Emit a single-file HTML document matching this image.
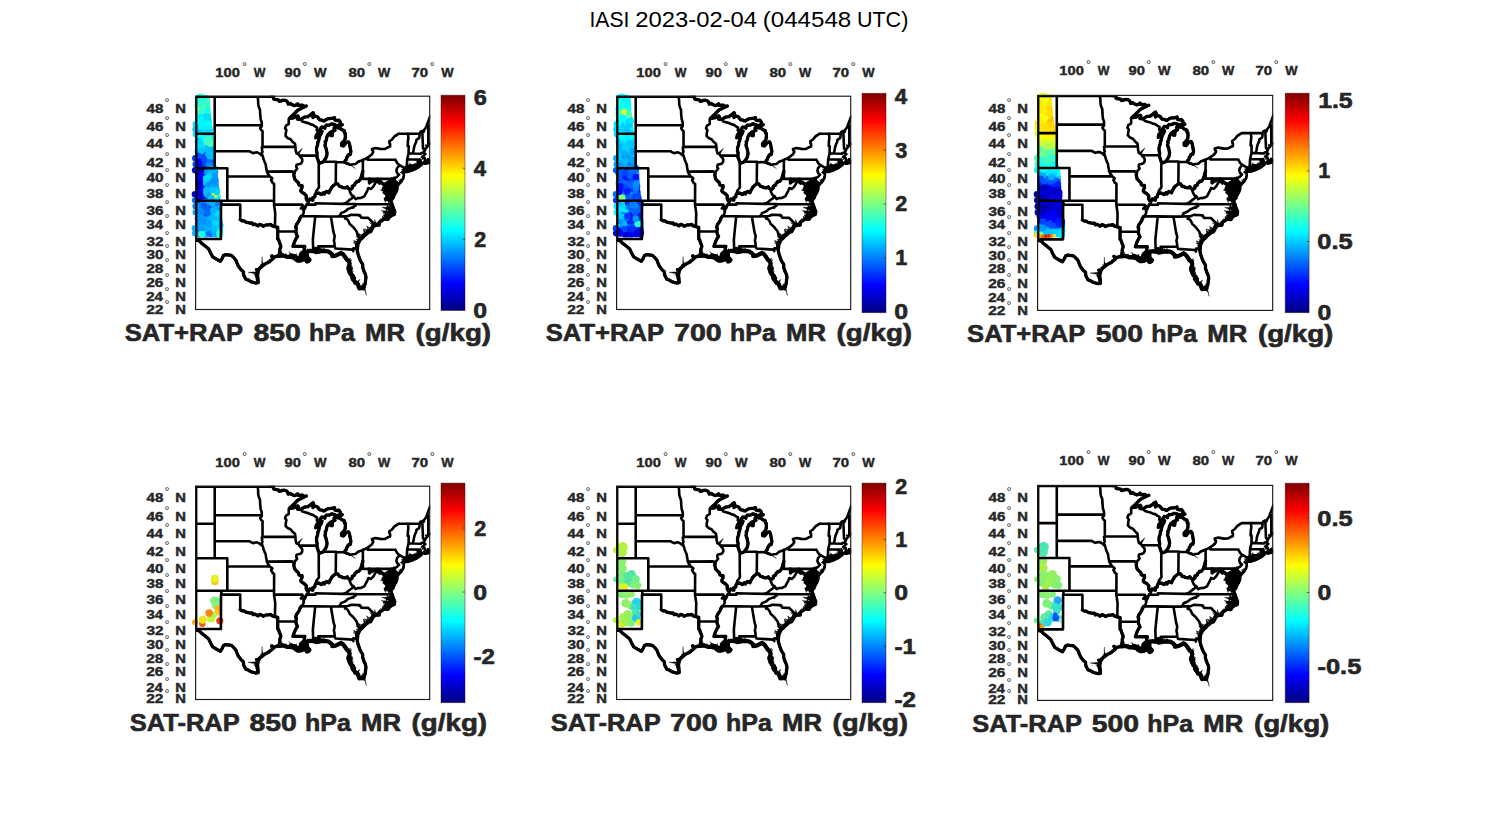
<!DOCTYPE html>
<html><head><meta charset="utf-8"><title>IASI 2023-02-04 (044548 UTC)</title>
<style>
html,body{margin:0;padding:0;background:#fff}
svg{display:block}
text{font-family:"Liberation Sans",sans-serif}
.b{font-weight:bold;fill:#262626}
</style></head><body>
<svg width="1500" height="825" viewBox="0 0 1500 825">
<defs>
<linearGradient id="jet" x1="0" y1="1" x2="0" y2="0"><stop offset="0.0000" stop-color="#000080"/><stop offset="0.0312" stop-color="#00009f"/><stop offset="0.0625" stop-color="#0000bf"/><stop offset="0.0938" stop-color="#0000df"/><stop offset="0.1250" stop-color="#0000ff"/><stop offset="0.1562" stop-color="#0020ff"/><stop offset="0.1875" stop-color="#0040ff"/><stop offset="0.2188" stop-color="#0060ff"/><stop offset="0.2500" stop-color="#0080ff"/><stop offset="0.2812" stop-color="#009fff"/><stop offset="0.3125" stop-color="#00bfff"/><stop offset="0.3438" stop-color="#00dfff"/><stop offset="0.3750" stop-color="#00ffff"/><stop offset="0.4062" stop-color="#20ffdf"/><stop offset="0.4375" stop-color="#40ffbf"/><stop offset="0.4688" stop-color="#60ff9f"/><stop offset="0.5000" stop-color="#80ff80"/><stop offset="0.5312" stop-color="#9fff60"/><stop offset="0.5625" stop-color="#bfff40"/><stop offset="0.5938" stop-color="#dfff20"/><stop offset="0.6250" stop-color="#ffff00"/><stop offset="0.6562" stop-color="#ffdf00"/><stop offset="0.6875" stop-color="#ffbf00"/><stop offset="0.7188" stop-color="#ff9f00"/><stop offset="0.7500" stop-color="#ff8000"/><stop offset="0.7812" stop-color="#ff6000"/><stop offset="0.8125" stop-color="#ff4000"/><stop offset="0.8438" stop-color="#ff2000"/><stop offset="0.8750" stop-color="#ff0000"/><stop offset="0.9062" stop-color="#df0000"/><stop offset="0.9375" stop-color="#bf0000"/><stop offset="0.9688" stop-color="#9f0000"/><stop offset="1.0000" stop-color="#800000"/></linearGradient>
<filter id="soft" x="-20%" y="-5%" width="140%" height="110%"><feGaussianBlur stdDeviation="0.7"/></filter>
<g id="usmap" stroke="#000" stroke-linejoin="round" stroke-linecap="round"><path d="M-3.1 0.0L74.6 0.0M18.6 0.0L18.6 71.5M-3.1 37.0L18.6 37.0M-3.1 71.5L31.2 71.5M31.2 71.5L31.2 104.0M-3.1 104.0L77.9 104.0M25.2 104.0L25.2 107.9L24.9 107.9L24.8 142.2L2.4 142.2L2.3 143.9L-3.1 143.9M25.2 107.9L44.1 107.9L44.1 122.9M18.6 28.5L65.7 28.5M18.6 54.5L53.5 54.5L54.8 55.4L57.0 56.5L59.2 55.8L61.1 55.7L63.0 56.6L64.5 57.6L65.5 58.8L66.4 58.9M31.2 79.8L73.6 79.8M61.5 0.0L62.0 3.8L62.1 7.6L62.6 10.0L63.9 13.3L64.0 17.0L64.3 20.0L64.5 22.5L65.5 25.3L65.7 28.5M65.7 28.5L65.5 29.8L64.0 31.4L65.0 33.3L66.4 34.3L66.4 50.2M66.4 50.2L65.6 50.6L66.0 52.4L65.8 53.7L66.4 55.0L65.5 57.1L66.1 58.4L66.4 58.9M66.4 50.2L99.3 50.2M66.4 58.9L66.9 60.5L67.5 62.7L68.6 65.6L69.7 68.1L69.8 69.8L70.3 72.3L70.7 74.9L71.8 77.1L72.7 78.1L73.6 79.8M73.6 79.8L75.2 80.8L76.2 81.8L74.9 83.5L76.0 85.1L76.5 86.3L78.0 87.1L77.9 107.9M70.7 74.9L96.1 74.7L98.1 76.6M77.9 107.9L106.1 107.9L106.5 109.4L104.7 111.8L108.9 111.8M77.9 107.9L79.1 116.4L78.8 129.9M44.1 122.9L46.0 124.1L47.8 124.1L49.1 124.9L50.7 125.7L52.9 126.0L54.1 126.4L56.0 126.2L57.0 127.9L58.9 127.3L61.7 129.1L63.6 127.6L65.5 128.3L67.0 129.5L69.9 128.2L72.4 128.2L74.3 127.6L76.2 129.1L78.8 129.9L81.6 130.6M81.6 130.6L81.6 142.2L82.5 143.0L83.1 145.2L84.4 148.3L84.7 149.6L83.7 152.5L83.7 154.7L83.4 156.2L82.8 158.7M81.6 134.6L99.7 134.7M93.8 21.1L92.6 22.0L92.6 27.3L91.6 28.0L89.9 28.9L88.9 31.6L90.3 33.4L89.7 36.1L89.6 37.4L89.4 39.2L91.0 40.8L92.5 41.9L94.4 42.5L96.7 45.4L98.8 47.1L99.3 50.2M99.3 50.2L99.5 53.7L99.8 54.5L100.3 56.7L102.6 57.7L103.0 58.8M103.0 58.8L120.9 58.9M103.0 58.8L104.5 60.5L106.0 62.2L106.1 64.8L104.8 66.9L103.4 67.3L100.4 68.1L100.1 70.2L101.0 71.9L100.1 73.1L98.2 75.2L98.1 76.6M98.1 76.6L97.6 78.1L98.1 80.4L98.5 82.2L100.4 84.3L102.4 86.3L102.6 87.9L103.9 88.8L105.9 88.8L105.9 90.9L104.8 93.2L104.7 94.4L106.1 96.0L107.0 96.2L108.1 96.8L110.2 99.2L110.0 101.6L110.8 103.6L112.5 104.1M112.5 104.1L112.1 106.7L110.9 106.9L110.2 107.9L110.0 109.1L109.5 110.2L108.9 111.8M108.9 111.8L107.3 114.1L107.7 115.3L106.6 118.5L105.1 119.5M105.1 119.5L103.6 121.8L103.4 123.2L101.4 126.4L100.4 127.6L99.5 130.2L100.2 131.7L99.7 134.7M99.7 134.7L100.1 137.0L101.4 139.8L100.1 141.5L98.3 145.2L97.6 147.4L96.8 149.6L108.7 149.6L108.0 152.0L109.2 154.7L110.0 155.6M105.1 119.5L118.4 119.5M118.4 119.5L119.0 120.4L117.5 134.7L116.7 143.0L117.1 154.2M118.4 119.5L134.7 119.7L142.8 119.6L150.4 119.5M134.7 119.7L137.4 135.7L138.5 139.2L138.2 141.5L137.7 143.7L138.2 145.6L138.5 149.6L139.4 151.7M138.5 149.6L122.1 149.6L121.9 150.6L123.4 152.0L122.6 154.9M139.4 151.7L156.1 152.8L157.1 154.3L157.2 151.4L160.8 151.7M164.5 142.0L163.1 141.5L161.2 137.7L160.5 134.7L157.7 131.2L155.8 129.1L153.6 127.2L152.0 123.8L150.5 122.2L148.9 121.8L150.4 119.5M150.4 119.5L152.5 119.0L154.9 118.0L163.4 118.4L163.4 119.2L164.1 118.8L165.1 120.9L172.0 121.1L179.1 128.2M142.8 119.6L144.5 117.5L144.8 116.4L147.9 115.1L149.8 114.0L151.7 112.3L153.6 111.6L156.1 110.6L157.1 110.9L158.0 109.4L159.3 109.1L159.4 107.2M146.8 107.1L159.4 107.2L196.0 107.5M110.2 107.9L119.3 107.9L119.3 106.5L129.1 106.7L146.8 107.1M146.8 107.1L150.1 105.9L153.0 103.6L155.5 101.7L157.6 99.7M157.6 99.7L155.5 98.4L154.6 96.8L153.6 94.6L153.6 92.6M112.5 104.1L113.6 102.2L115.8 103.2L116.7 103.4L116.6 101.0L118.6 100.2L118.8 98.4L119.3 97.6M119.3 97.6L119.9 95.2L120.2 94.0L121.8 92.0L122.8 90.4L122.6 85.1L122.6 65.5M119.3 97.6L120.2 96.8L122.3 96.2L125.3 97.8L127.2 96.1L128.4 97.2L129.1 95.6L130.3 94.8L132.8 96.0L133.7 93.8L136.0 90.1L139.6 87.1M139.6 87.1L139.8 65.6M139.6 87.1L141.6 87.1L143.3 89.6L145.7 90.1L146.3 90.8L149.2 91.2L151.1 90.1L152.0 91.6L153.6 92.6M153.6 92.6L154.6 92.6L156.1 91.2L156.1 89.4L156.5 89.2L158.3 88.5L159.0 86.5L160.2 85.8L160.8 84.6L162.4 84.7L164.5 82.2L164.8 81.0L165.4 79.2L166.1 76.5L166.7 74.5M166.7 82.1L166.7 63.2M127.0 65.1L139.8 65.1L139.8 65.6L148.3 65.4M166.7 82.1L196.5 82.1L197.7 81.1L198.8 81.4M173.2 82.1L173.2 86.3L175.6 84.1L176.6 84.3L177.7 82.8L179.7 83.5L180.4 82.9L181.3 82.4L183.2 83.1L183.6 83.9L184.3 85.3M184.3 85.3L183.6 86.9L180.4 84.2L177.1 89.9L174.8 92.2L172.2 91.3L171.2 93.8L168.1 99.6L164.6 101.2L161.5 101.4L159.4 102.4L157.6 99.7M184.3 85.3L185.5 85.8L187.3 87.7L188.1 88.5L188.6 89.6L187.3 91.6L187.0 92.8L188.9 93.6L189.5 94.4L193.1 95.7M171.5 60.8L171.5 63.1L199.2 63.1M199.2 63.1L201.1 66.5L203.3 68.5L200.8 71.5L200.2 74.1L201.1 76.5L202.9 78.0L200.8 80.2L198.8 81.4M203.4 68.5L208.4 71.5M196.5 82.1L197.0 92.3L201.1 92.4M195.8 96.4L199.9 95.8M209.9 71.6L209.4 70.7L211.0 69.7L210.6 69.0L211.0 62.6L212.4 56.7L212.5 49.3L211.5 49.3L211.8 44.1L212.2 41.4L211.8 36.9M203.2 37.0L223.5 36.9L224.1 35.2L226.1 34.3L227.6 34.9L227.9 33.4L230.1 30.3L231.2 27.1L232.6 23.4L234.0 19.6M211.0 62.6L221.6 62.9L224.2 62.9L224.2 63.9L225.9 67.3M221.6 62.9L221.7 68.0L221.2 68.9M212.4 56.7L217.4 56.8L224.7 57.1L225.4 56.2L227.8 55.6M217.4 56.8L216.9 55.8L217.5 53.2L217.8 51.1L218.5 48.5L219.1 47.1L220.0 45.0L220.2 43.2L222.9 41.4L223.2 40.5L223.5 36.9M228.5 53.9L226.8 51.5L226.8 51.1L226.1 34.3M74.6 0.0L74.6 -3.7L76.7 -3.1L77.6 1.2L77.5 2.1L78.1 2.7L80.2 2.9L82.8 3.5L83.1 4.6L85.2 4.3L85.9 3.7L88.5 3.6L90.5 4.4L91.5 5.5L92.1 7.4L94.4 6.8L94.7 7.3L97.2 8.5L98.0 9.0L99.2 8.8L101.5 7.2L102.3 8.7L106.2 8.5L107.8 9.6L110.2 9.4M110.2 9.4L109.0 9.9L104.9 11.9L101.5 13.6L99.0 16.2L96.5 18.7L93.8 21.0L94.4 21.6L97.6 21.1L99.5 20.0L101.7 19.2L102.3 20.0L101.4 22.5L104.4 22.8L108.3 20.4L111.4 20.0L113.6 18.8L115.8 16.8L117.0 16.1L117.7 17.9L116.8 20.9L118.4 19.5L120.2 19.8L121.5 20.4L123.5 23.1L125.9 23.4L126.9 24.1L128.1 24.3L130.3 22.8L132.3 21.9L135.4 21.8L138.3 21.0L138.8 23.4L141.0 23.9L142.6 23.4L144.2 25.3L144.2 27.1L145.4 28.3L146.1 28.0L145.4 28.5L142.6 28.3L140.2 29.2L138.5 28.0L135.7 27.2L132.8 28.5L130.6 28.5L129.1 29.5L128.7 31.6L127.8 30.5L126.2 30.5L125.6 30.3L124.0 32.5L122.1 36.1M122.1 36.1L121.5 33.9L120.6 33.7L120.9 30.7L119.0 29.8L116.5 28.0L114.6 27.7L112.7 26.7L106.3 24.9L104.4 22.8M121.9 36.1L120.2 38.3L119.6 41.2L121.2 39.7L123.4 37.0L125.9 34.5L125.0 37.0L123.8 38.8L123.2 40.5L122.4 44.5L121.8 45.0L121.5 48.0L120.4 51.2L120.4 54.3L121.0 56.8L120.8 58.1L120.9 58.9L120.7 60.0L121.7 62.6L122.1 64.1L122.6 65.4L124.0 66.3L126.5 65.4L127.0 65.1L129.1 62.2L130.4 59.7L130.9 56.5L130.1 52.5L129.4 50.2L128.8 48.9L129.4 46.3L129.0 45.3L130.1 43.6L130.7 40.3L131.8 37.9L135.0 35.2L134.6 39.0L135.4 37.3L136.0 39.0L136.1 37.0L136.9 34.1L138.8 33.7L138.5 33.1L137.9 31.6L138.5 30.3L140.2 30.0L141.8 31.2L143.5 31.3L145.9 33.2L148.1 33.9L148.4 36.5L149.2 36.7L149.2 38.8L149.2 40.1L149.0 42.1L148.3 43.6L146.7 45.4L145.4 46.7L145.4 48.9L147.3 49.3L148.3 48.2L149.4 46.4L151.1 45.4L152.3 45.2L153.3 47.1L154.0 50.8L154.7 54.7L154.4 56.5L154.0 57.8L153.0 57.5L151.8 58.8L151.4 60.1L150.5 60.9L150.0 63.1L149.0 63.9L148.3 65.4M148.3 65.4L149.8 66.2L151.5 67.2L152.8 67.0L153.0 67.7L153.9 68.1L155.1 68.0L156.3 67.6L159.3 67.3L161.9 65.1L164.9 63.9L166.7 63.2L169.5 62.0L171.5 60.8L174.2 58.9L176.0 57.1L177.0 55.6L176.9 54.5L176.1 53.7L175.8 52.3L179.4 51.3L185.1 52.3L188.9 52.2L192.0 50.5L193.9 49.8L193.9 47.1L193.3 46.7L193.1 44.7L195.8 42.8L198.3 39.7L202.1 37.2L203.2 37.0M2.3 143.9L3.8 144.4L5.0 146.1L8.8 149.0L12.6 152.2L14.5 156.2L16.6 160.1L20.1 162.2L24.2 164.4L26.1 161.6L27.3 158.8L29.6 157.8L35.3 158.6L38.4 161.6L39.8 163.4L40.9 166.3L42.2 169.3L45.0 173.0L47.2 174.9L47.5 178.2L49.7 182.5L51.5 182.9L55.1 185.0L59.8 186.2L62.0 185.8M62.0 185.8L61.1 181.3L60.4 178.4L61.4 174.2L60.4 172.8L62.3 172.6L64.2 170.6L66.7 168.8L69.2 167.0L73.0 165.1L73.7 164.5L76.8 162.0L75.5 159.1L77.4 160.6L81.2 159.3L82.8 159.2M82.8 159.2L86.9 158.6L90.7 160.0L93.2 160.2L95.4 158.7L95.7 160.6L98.8 160.6L98.8 162.0L101.4 163.8L103.2 163.8L105.8 163.4L107.0 162.4L109.5 162.4L110.8 164.7L112.4 164.2L113.3 163.1L111.7 161.6L110.2 159.8L108.9 157.7L108.0 156.9L110.0 155.6M110.0 155.6L111.4 154.7L112.7 154.3L113.9 154.0L116.2 154.4L117.1 154.2L119.0 154.7L119.3 152.0L120.2 152.2L120.2 154.7L119.6 155.3L121.5 155.1L122.6 154.9M122.6 154.9L124.6 154.4L129.1 154.2L132.2 154.7L134.1 156.0L136.0 157.7L136.1 159.3L138.5 159.1L140.4 158.4L142.6 157.3L144.8 156.2L146.7 157.3L148.6 159.8L150.1 162.0L150.8 163.2L152.7 164.5L153.3 166.3L153.3 168.5L152.3 170.6L152.2 171.6L152.7 173.5L154.6 172.1L153.3 175.3L153.9 176.1L154.6 177.7L156.8 179.2L156.1 181.3L158.0 181.6L156.8 182.5L158.6 184.6L159.1 186.0L161.5 186.9L163.1 191.6L164.3 191.4L167.1 191.1L167.5 190.7L169.0 187.1L169.3 184.6L169.8 180.6L169.5 178.8L169.0 177.0L168.1 175.3L167.6 173.8L166.5 170.6L166.6 168.1L166.2 167.0L164.3 164.0L163.7 162.7L162.0 157.7L161.2 154.7L161.0 151.8M160.8 151.7L161.2 148.9L160.8 148.5L162.1 145.9L163.1 143.7L164.5 142.0L165.6 141.1L166.8 140.0L167.5 138.5L168.1 138.5L170.4 136.6L172.5 134.7L174.1 134.7L175.0 133.2L176.3 130.6L177.0 129.5L179.1 128.2M179.1 128.2L182.9 128.3L183.2 126.8L182.9 125.7L185.4 124.1L188.2 122.2L191.8 122.6L193.3 120.3L195.3 118.8L198.1 117.8L198.6 114.9L198.1 113.5L197.5 112.2L197.0 111.0L196.0 107.5M191.8 122.6L190.8 121.7L192.0 119.5L188.5 118.8L192.0 118.8L192.0 116.8L188.5 115.3L192.0 116.1L195.2 116.8L196.7 114.9L195.8 112.2L190.8 111.8L195.2 110.6L195.8 107.9M196.0 107.5L195.3 105.1L195.2 104.5L193.3 104.3L191.4 103.2L188.9 102.0L192.0 103.2L193.3 103.6L192.6 102.0L190.8 100.4L193.6 100.8L193.3 99.2L190.1 96.4L193.6 96.8L193.1 95.7L192.6 93.6L191.1 92.0L192.6 92.8L192.0 90.4L192.3 88.2L191.4 85.8L193.9 85.1L194.7 83.5L195.3 83.3L194.5 85.1L193.6 87.1L193.0 88.8L193.9 90.0L193.3 91.2L195.2 91.2L193.3 92.4L193.3 94.4L195.2 94.4L196.1 96.0L196.1 96.4L197.0 96.8L195.8 99.2L195.2 101.6L195.3 103.2L196.4 102.4L197.7 99.6L198.9 97.2L199.6 96.4L200.9 93.4L201.1 92.4L201.0 90.2L200.9 89.6L199.6 87.9L198.9 85.5L198.0 84.3L198.0 83.1L198.8 81.4M198.8 81.4L198.1 83.9L199.6 85.5L200.8 86.3L202.1 86.6L201.8 88.5L203.0 87.1L205.1 85.0L206.5 82.7L207.1 81.8L207.6 79.0L207.7 75.9L206.2 75.9L206.0 75.7L207.6 74.0L208.4 71.5M207.6 74.0L208.2 73.2L209.0 72.9L209.9 71.6L210.6 71.2L212.9 70.1L214.5 69.2L218.1 69.2L219.7 68.8L221.2 68.9L223.6 68.5L224.1 64.8L225.1 66.0L224.6 67.6L225.4 67.6L225.9 67.3L227.1 66.5L228.8 65.4L228.7 67.1L231.0 66.2L233.2 65.9L233.2 63.9L232.6 62.6L231.7 62.6L232.6 64.8L229.8 65.0L228.7 63.5L228.5 61.4L226.3 60.1L227.3 59.4L227.6 58.8L229.2 57.4L228.2 57.1L227.8 56.1L227.8 55.6L228.5 53.9L229.5 51.7L230.7 50.6L231.4 48.9L232.9 47.6L234.2 47.6M207.6 74.8L208.4 75.1L212.2 74.6L217.2 72.9L221.2 70.9L219.1 71.5L218.5 70.7L218.9 70.2L216.6 71.7L214.0 71.7L210.9 72.1L209.3 72.7L208.2 73.2M0.0 0.0L0.0 143.9M232.1 28.9L232.1 49.2M62.3 185.5L62.2 181.3L61.7 178.4L62.6 174.2L63.9 171.7L66.7 169.2M122.6 154.9L124.6 154.4L129.1 154.2L132.2 154.7L134.1 156.0L136.0 157.7L136.1 159.3L138.5 159.1L140.4 158.4L142.6 157.3L144.8 156.2M144.8 156.2L146.7 157.3L148.6 159.8L150.1 162.0L150.8 163.2L152.7 164.5L153.3 166.3L153.3 168.5L152.3 170.6L152.2 171.6L152.7 173.5L154.6 172.1L153.3 175.3L153.9 176.1L154.6 177.7L156.8 179.2L156.1 181.3L158.0 181.6L156.8 182.5L158.6 184.6L159.1 186.0L161.5 186.9L163.1 191.6L164.3 191.4L167.1 191.1L167.5 190.7M167.5 190.7L169.0 187.1L169.3 184.6L169.8 180.6L169.5 178.8L169.0 177.0L168.1 175.3L167.6 173.8L166.5 170.6L166.6 168.1L166.2 167.0L164.3 164.0L163.7 162.7L162.0 157.7L161.2 154.7L161.0 151.8" fill="none" stroke-width="2.6"/><path d="M2.3 143.9L3.8 144.4L5.0 146.1L8.8 149.0L12.6 152.2L14.5 156.2L16.6 160.1L20.1 162.2L24.2 164.4L26.1 161.6L27.3 158.8L29.6 157.8L35.3 158.6L38.4 161.6L39.8 163.4L40.9 166.3L42.2 169.3L45.0 173.0L47.2 174.9L47.5 178.2L49.7 182.5L51.5 182.9L55.1 185.0L59.8 186.2L62.0 185.8M62.0 185.8L61.1 181.3L60.4 178.4L61.4 174.2L60.4 172.8L62.3 172.6L64.2 170.6L66.7 168.8L69.2 167.0L73.0 165.1L73.7 164.5L76.8 162.0L75.5 159.1L77.4 160.6L81.2 159.3L82.8 159.2M82.8 159.2L86.9 158.6L90.7 160.0L93.2 160.2L95.4 158.7L95.7 160.6L98.8 160.6L98.8 162.0L101.4 163.8L103.2 163.8L105.8 163.4L107.0 162.4L109.5 162.4L110.8 164.7L112.4 164.2L113.3 163.1L111.7 161.6L110.2 159.8L108.9 157.7L108.0 156.9L110.0 155.6M110.0 155.6L111.4 154.7L112.7 154.3L113.9 154.0L116.2 154.4L117.1 154.2L119.0 154.7L119.3 152.0L120.2 152.2L120.2 154.7L119.6 155.3L121.5 155.1L122.6 154.9M122.6 154.9L124.6 154.4L129.1 154.2L132.2 154.7L134.1 156.0L136.0 157.7L136.1 159.3L138.5 159.1L140.4 158.4L142.6 157.3L144.8 156.2L146.7 157.3L148.6 159.8L150.1 162.0L150.8 163.2L152.7 164.5L153.3 166.3L153.3 168.5L152.3 170.6L152.2 171.6L152.7 173.5L154.6 172.1L153.3 175.3L153.9 176.1L154.6 177.7L156.8 179.2L156.1 181.3L158.0 181.6L156.8 182.5L158.6 184.6L159.1 186.0L161.5 186.9L163.1 191.6L164.3 191.4L167.1 191.1L167.5 190.7L169.0 187.1L169.3 184.6L169.8 180.6L169.5 178.8L169.0 177.0L168.1 175.3L167.6 173.8L166.5 170.6L166.6 168.1L166.2 167.0L164.3 164.0L163.7 162.7L162.0 157.7L161.2 154.7L161.0 151.8M160.8 151.7L161.2 148.9L160.8 148.5L162.1 145.9L163.1 143.7L164.5 142.0L165.6 141.1L166.8 140.0L167.5 138.5L168.1 138.5L170.4 136.6L172.5 134.7L174.1 134.7L175.0 133.2L176.3 130.6L177.0 129.5L179.1 128.2M179.1 128.2L182.9 128.3L183.2 126.8L182.9 125.7L185.4 124.1L188.2 122.2L191.8 122.6L193.3 120.3L195.3 118.8L198.1 117.8L198.6 114.9L198.1 113.5L197.5 112.2L197.0 111.0L196.0 107.5M110.2 9.4L109.0 9.9L104.9 11.9L101.5 13.6L99.0 16.2L96.5 18.7L93.8 21.0L94.4 21.6L97.6 21.1L99.5 20.0L101.7 19.2L102.3 20.0L101.4 22.5L104.4 22.8L108.3 20.4L111.4 20.0L113.6 18.8L115.8 16.8L117.0 16.1L117.7 17.9L116.8 20.9L118.4 19.5L120.2 19.8L121.5 20.4L123.5 23.1L125.9 23.4L126.9 24.1L128.1 24.3L130.3 22.8L132.3 21.9L135.4 21.8L138.3 21.0L138.8 23.4L141.0 23.9L142.6 23.4L144.2 25.3L144.2 27.1L145.4 28.3L146.1 28.0L145.4 28.5L142.6 28.3L140.2 29.2L138.5 28.0L135.7 27.2L132.8 28.5L130.6 28.5L129.1 29.5L128.7 31.6L127.8 30.5L126.2 30.5L125.6 30.3L124.0 32.5L122.1 36.1M121.9 36.1L120.2 38.3L119.6 41.2L121.2 39.7L123.4 37.0L125.9 34.5L125.0 37.0L123.8 38.8L123.2 40.5L122.4 44.5L121.8 45.0L121.5 48.0L120.4 51.2L120.4 54.3L121.0 56.8L120.8 58.1L120.9 58.9L120.7 60.0L121.7 62.6L122.1 64.1L122.6 65.4L124.0 66.3L126.5 65.4L127.0 65.1L129.1 62.2L130.4 59.7L130.9 56.5L130.1 52.5L129.4 50.2L128.8 48.9L129.4 46.3L129.0 45.3L130.1 43.6L130.7 40.3L131.8 37.9L135.0 35.2L134.6 39.0L135.4 37.3L136.0 39.0L136.1 37.0L136.9 34.1L138.8 33.7L138.5 33.1L137.9 31.6L138.5 30.3L140.2 30.0L141.8 31.2L143.5 31.3L145.9 33.2L148.1 33.9L148.4 36.5L149.2 36.7L149.2 38.8L149.2 40.1L149.0 42.1L148.3 43.6L146.7 45.4L145.4 46.7L145.4 48.9L147.3 49.3L148.3 48.2L149.4 46.4L151.1 45.4L152.3 45.2L153.3 47.1L154.0 50.8L154.7 54.7L154.4 56.5L154.0 57.8L153.0 57.5L151.8 58.8L151.4 60.1L150.5 60.9L150.0 63.1L149.0 63.9L148.3 65.4M98.1 76.6L97.6 78.1L98.1 80.4L98.5 82.2L100.4 84.3L102.4 86.3L102.6 87.9L103.9 88.8L105.9 88.8L105.9 90.9L104.8 93.2L104.7 94.4L106.1 96.0L107.0 96.2L108.1 96.8L110.2 99.2L110.0 101.6L110.8 103.6L112.5 104.1M99.7 134.7L100.1 137.0L101.4 139.8L100.1 141.5L98.3 145.2L97.6 147.4L96.8 149.6L108.7 149.6L108.0 152.0L109.2 154.7L110.0 155.6M105.1 119.5L103.6 121.8L103.4 123.2L101.4 126.4L100.4 127.6L99.5 130.2L100.2 131.7L99.7 134.7M112.5 104.1L113.6 102.2L115.8 103.2L116.7 103.4L116.6 101.0L118.6 100.2L118.8 98.4L119.3 97.6M119.3 97.6L120.2 96.8L122.3 96.2L125.3 97.8L127.2 96.1L128.4 97.2L129.1 95.6L130.3 94.8L132.8 96.0L133.7 93.8L136.0 90.1L139.6 87.1M139.6 87.1L141.6 87.1L143.3 89.6L145.7 90.1L146.3 90.8L149.2 91.2L151.1 90.1L152.0 91.6L153.6 92.6M153.6 92.6L154.6 92.6L156.1 91.2L156.1 89.4L156.5 89.2L158.3 88.5L159.0 86.5L160.2 85.8L160.8 84.6L162.4 84.7L164.5 82.2L164.8 81.0L165.4 79.2L166.1 76.5L166.7 74.5M81.6 130.6L81.6 142.2L82.5 143.0L83.1 145.2L84.4 148.3L84.7 149.6L83.7 152.5L83.7 154.7L83.4 156.2L82.8 158.7M44.1 122.9L46.0 124.1L47.8 124.1L49.1 124.9L50.7 125.7L52.9 126.0L54.1 126.4L56.0 126.2L57.0 127.9L58.9 127.3L61.7 129.1L63.6 127.6L65.5 128.3L67.0 129.5L69.9 128.2L72.4 128.2L74.3 127.6L76.2 129.1L78.8 129.9L81.6 130.6M74.6 0.0L74.6 -3.7L76.7 -3.1L77.6 1.2L77.5 2.1L78.1 2.7L80.2 2.9L82.8 3.5L83.1 4.6L85.2 4.3L85.9 3.7L88.5 3.6L90.5 4.4L91.5 5.5L92.1 7.4L94.4 6.8L94.7 7.3L97.2 8.5L98.0 9.0L99.2 8.8L101.5 7.2L102.3 8.7L106.2 8.5L107.8 9.6L110.2 9.4M184.3 85.3L185.5 85.8L187.3 87.7L188.1 88.5L188.6 89.6L187.3 91.6L187.0 92.8L188.9 93.6L189.5 94.4L193.1 95.7M173.2 82.1L173.2 86.3L175.6 84.1L176.6 84.3L177.7 82.8L179.7 83.5L180.4 82.9L181.3 82.4L183.2 83.1L183.6 83.9L184.3 85.3" fill="none" stroke-width="3.3"/><path d="M160.8 151.7L161.2 148.9L160.8 148.5L162.1 145.9L163.1 143.7L164.5 142.0L165.6 141.1L166.8 140.0L167.5 138.5L168.1 138.5L170.4 136.6L172.5 134.7L174.1 134.7L175.0 133.2L176.3 130.6L177.0 129.5L179.1 128.2M82.8 159.2L86.9 158.6L90.7 160.0L93.2 160.2L95.4 158.7L95.7 160.6L98.8 160.6L98.8 162.0L101.4 163.8L103.2 163.8L105.8 163.4L107.0 162.4L109.5 162.4L110.8 164.7L112.4 164.2L113.3 163.1L111.7 161.6L110.2 159.8L108.9 157.7L108.0 156.9L110.0 155.6M144.8 156.2L146.7 157.3L148.6 159.8L150.1 162.0L150.8 163.2L152.7 164.5L153.3 166.3L153.3 168.5L152.3 170.6L152.2 171.6L152.7 173.5L154.6 172.1L153.3 175.3L153.9 176.1L154.6 177.7L156.8 179.2L156.1 181.3L158.0 181.6L156.8 182.5L158.6 184.6L159.1 186.0L161.5 186.9L163.1 191.6L164.3 191.4L167.1 191.1L167.5 190.7M122.6 154.9L124.6 154.4L129.1 154.2L132.2 154.7L134.1 156.0L136.0 157.7L136.1 159.3L138.5 159.1L140.4 158.4L142.6 157.3L144.8 156.2M110.0 155.6L111.4 154.7L112.7 154.3L113.9 154.0L116.2 154.4L117.1 154.2L119.0 154.7L119.3 152.0L120.2 152.2L120.2 154.7L119.6 155.3L121.5 155.1L122.6 154.9" fill="none" stroke-width="4.2"/><path d="M61.9 185.3L60.8 184.7L61.6 184.0ZM61.4 183.0L60.4 182.6L61.2 181.8ZM61.2 182.1L60.3 181.9L60.9 180.5ZM60.9 180.4L59.6 179.5L60.4 178.3ZM60.4 178.4L57.5 178.3L60.9 176.4ZM60.7 177.1L59.9 176.5L61.1 175.6ZM61.2 175.0L59.9 173.6L61.6 173.4ZM61.0 173.6L59.9 173.5L59.9 172.0ZM60.6 172.8L61.4 171.5L62.2 172.6ZM61.6 172.6L62.6 170.3L63.0 172.5ZM66.1 169.3L64.0 167.2L67.4 168.4ZM67.6 168.2L67.0 167.0L69.2 167.1ZM71.3 166.0L71.4 163.8L72.9 165.2ZM72.3 165.5L73.1 162.4L73.8 164.7ZM73.6 164.6L73.5 162.2L75.3 163.2ZM75.5 163.0L75.4 161.5L76.5 162.3ZM76.3 162.4L75.9 161.5L77.3 161.6ZM76.4 161.0L75.1 160.6L75.6 159.1ZM76.0 160.1L74.3 159.6L75.1 158.1ZM77.4 160.6L77.8 159.1L79.4 159.9ZM79.6 159.9L79.7 158.8L80.9 159.4ZM80.6 159.5L80.3 157.9L81.8 159.1ZM81.8 159.3L82.8 158.0L83.9 159.1ZM82.7 159.2L83.8 156.6L85.1 158.9ZM83.5 159.1L85.7 154.4L86.2 158.7ZM85.0 158.9L85.3 156.8L86.7 158.6ZM86.0 158.7L85.9 157.2L87.8 158.5ZM87.1 158.7L87.5 156.8L88.5 159.2ZM88.0 159.0L89.1 157.8L89.5 159.6ZM88.8 159.3L89.6 156.6L90.6 160.0ZM89.4 159.5L90.5 157.8L91.9 160.4ZM92.3 160.1L92.2 157.8L94.0 160.3ZM93.5 160.0L93.9 157.6L95.0 159.0ZM94.7 159.2L92.9 154.8L96.1 158.3ZM95.3 158.3L97.0 159.4L95.8 161.0ZM95.5 159.6L98.7 159.1L95.9 161.6ZM95.5 160.6L96.9 157.0L98.0 160.6ZM96.4 160.6L98.4 158.9L99.2 160.6ZM97.6 160.6L100.3 156.8L100.1 160.6ZM98.8 161.2L101.3 161.6L98.8 162.8ZM98.7 161.9L100.3 160.9L100.7 163.3ZM100.2 163.0L106.2 161.7L102.5 164.6ZM101.4 163.8L101.8 162.1L103.2 163.8ZM101.9 163.8L104.6 160.9L104.6 163.8ZM103.7 163.7L105.1 160.5L105.3 163.5ZM104.5 163.6L106.6 158.9L107.0 163.3ZM105.6 163.6L105.8 161.3L107.1 162.3ZM106.2 163.0L103.4 159.1L107.8 161.7ZM108.7 162.4L108.8 160.8L110.4 162.4ZM110.1 163.4L112.5 164.5L111.5 165.9ZM110.8 164.7L111.1 162.5L112.4 164.2ZM111.3 164.5L111.7 159.3L113.4 163.8ZM113.2 163.0L108.5 164.3L111.9 161.7ZM112.6 162.4L110.9 163.3L110.9 160.9ZM111.9 161.8L110.0 162.8L110.1 159.7ZM111.1 160.9L108.3 161.1L109.3 158.8ZM110.1 159.7L105.7 161.0L109.0 157.8ZM109.4 158.4L107.7 158.5L108.5 156.9ZM108.8 157.6L106.8 160.8L107.1 156.3ZM108.0 156.9L107.1 154.4L109.9 155.7ZM109.0 156.2L106.5 153.5L110.9 155.0ZM110.0 155.6L110.4 153.7L111.4 154.7ZM110.7 155.2L111.2 151.6L112.1 154.3ZM111.8 154.6L112.1 152.5L113.6 154.0ZM112.9 154.3L113.4 152.1L115.0 153.8ZM114.3 154.1L117.4 151.2L115.8 154.3ZM115.5 154.3L118.2 151.0L116.8 154.5ZM116.4 154.3L115.8 152.7L117.8 154.0ZM117.0 154.1L119.6 152.3L119.0 154.8ZM118.3 154.5L120.2 152.4L119.6 154.9ZM119.2 152.8L115.5 152.0L119.4 151.1ZM120.2 154.0L122.0 154.8L120.2 155.5ZM120.1 154.9L120.2 156.7L119.1 155.6ZM119.8 155.2L119.4 153.5L121.3 155.1ZM120.4 155.2L120.3 153.3L122.6 155.0ZM121.9 155.0L120.1 151.5L123.4 154.7ZM123.0 154.8L122.3 152.3L124.3 154.5ZM123.9 154.6L125.0 151.1L125.4 154.2ZM124.8 154.4L125.9 151.2L126.7 154.3ZM126.0 154.3L127.0 153.2L127.7 154.2ZM127.0 154.3L128.3 151.0L129.0 154.2ZM128.0 154.2L127.4 151.4L130.1 154.1ZM129.1 154.2L130.4 153.1L131.2 154.5ZM130.4 154.4L131.4 153.5L131.9 154.7ZM131.5 154.6L131.8 153.5L132.9 154.9ZM132.5 155.0L134.2 154.5L133.8 155.8ZM133.6 155.6L134.5 154.9L134.6 156.3ZM134.4 156.2L136.0 156.2L135.7 157.4ZM135.5 157.2L137.7 157.0L136.5 158.1ZM136.5 159.2L137.9 157.5L138.1 159.1ZM137.7 159.2L139.6 156.8L139.3 159.1ZM140.9 158.1L140.6 156.7L142.0 157.6ZM141.9 157.6L142.4 156.2L143.2 157.0ZM142.8 157.2L143.6 155.6L144.6 156.3ZM144.1 156.5L143.9 155.3L145.5 155.9ZM145.0 156.3L146.5 155.1L146.5 157.2ZM147.4 158.3L150.4 159.1L148.5 159.7ZM148.0 159.0L149.7 158.6L149.2 160.6ZM148.9 160.3L150.8 159.9L149.8 161.5ZM149.7 161.4L151.3 160.8L150.6 162.6ZM150.3 162.3L152.1 161.5L151.3 164.2ZM150.8 163.2L154.8 161.3L152.7 164.5ZM152.7 164.7L155.5 166.4L153.2 166.2ZM152.9 165.2L155.5 162.7L153.7 167.5ZM153.3 167.7L157.0 170.6L153.3 169.3ZM153.3 168.5L154.6 172.1L152.3 170.6ZM152.8 169.6L154.2 173.7L151.9 171.6ZM152.3 170.8L154.3 170.4L152.0 172.3ZM152.1 171.5L154.3 173.1L152.7 173.5ZM152.4 172.5L156.0 173.7L152.9 174.4ZM152.8 173.4L152.6 168.4L154.4 172.2ZM153.6 172.7L150.5 171.0L155.5 171.4ZM154.5 172.1L155.9 173.1L153.7 174.2ZM154.1 173.3L156.0 178.6L153.3 175.1ZM153.7 174.2L155.3 177.0L152.9 176.3ZM153.5 175.5L155.1 172.2L154.4 176.7ZM153.9 176.0L157.3 174.3L154.6 177.9ZM154.2 176.7L155.9 176.5L154.9 178.8ZM154.8 177.9L156.4 174.9L156.5 179.0ZM155.7 178.5L156.7 176.1L157.8 179.8ZM156.6 179.5L160.4 185.7L156.2 180.9ZM156.4 180.3L159.2 185.9L155.8 182.2ZM156.3 181.3L158.8 179.9L157.9 181.6ZM156.8 181.4L158.4 179.9L159.3 181.9ZM157.8 181.8L159.1 186.0L155.7 183.2ZM156.7 182.4L159.7 182.9L158.0 183.9ZM157.4 183.2L159.2 182.8L158.7 184.6ZM158.1 183.9L159.6 183.1L159.2 185.2ZM158.7 184.8L160.9 186.2L159.4 187.1ZM159.1 186.0L163.8 182.5L161.4 186.9ZM160.3 186.4L161.9 184.7L162.7 187.4ZM161.5 187.0L163.7 186.9L162.1 188.7ZM161.8 188.0L164.0 189.2L162.4 189.6ZM162.5 189.9L164.6 190.1L163.0 191.5ZM162.7 190.5L169.1 193.4L163.4 192.8ZM163.3 191.6L167.3 186.0L165.3 191.3ZM164.3 191.4L165.7 189.6L166.2 191.2ZM165.5 191.3L164.6 188.1L166.9 191.1ZM166.9 191.4L165.1 189.6L168.0 190.1ZM168.3 188.8L167.4 187.8L169.0 187.2ZM168.8 187.7L168.3 187.1L169.3 186.5ZM169.4 184.4L167.8 182.4L169.5 182.8ZM169.5 183.4L168.9 182.9L169.6 181.8ZM169.6 182.5L169.0 181.7L169.8 180.7ZM168.9 176.8L168.1 176.9L168.2 175.5ZM168.0 174.8L166.7 174.0L167.3 172.8ZM167.5 173.5L166.7 173.2L167.0 172.0ZM166.6 168.0L165.6 167.1L165.8 166.1ZM164.8 164.8L163.4 164.0L163.8 163.1ZM163.3 161.5L162.5 161.1L162.7 159.9ZM161.1 153.9L159.6 153.3L161.0 151.7ZM160.8 152.2L159.2 151.0L161.1 149.4ZM160.9 151.1L159.3 150.4L161.2 148.5ZM161.0 150.2L158.9 149.2L161.3 147.5ZM161.9 149.8L159.4 149.9L159.8 147.2ZM160.8 148.6L157.0 145.7L161.7 146.7ZM161.2 147.8L157.5 143.5L162.2 145.8ZM161.6 147.0L160.0 144.4L162.6 144.8ZM162.2 145.8L160.0 142.2L163.0 143.8ZM162.5 145.0L161.1 143.0L163.6 142.4ZM162.9 143.8L161.3 139.5L164.6 141.9ZM163.5 143.2L159.8 139.3L165.5 140.8ZM164.7 141.8L164.8 139.4L166.4 140.4ZM165.9 140.8L165.3 139.0L167.8 139.2ZM166.7 140.4L161.7 138.9L167.6 138.1ZM167.1 139.4L161.8 138.2L167.8 137.6ZM166.5 138.5L169.0 136.2L169.7 138.5ZM168.0 138.6L167.3 132.1L169.8 137.1ZM168.9 137.8L167.5 132.6L170.4 136.7ZM169.5 137.4L168.8 135.1L171.3 135.9ZM170.2 136.8L169.7 135.0L172.0 135.2ZM171.6 135.5L167.9 131.9L173.4 133.9ZM172.3 134.7L173.0 130.5L174.2 134.7ZM173.0 134.7L175.0 132.6L175.1 134.7ZM173.9 135.0L169.3 133.4L175.2 132.9ZM174.5 134.0L170.7 132.7L175.5 132.4ZM174.8 133.7L170.5 131.3L176.1 131.0ZM175.1 133.0L173.8 131.0L176.6 130.0ZM175.8 131.6L174.7 129.4L176.8 129.6ZM176.1 130.8L175.9 128.2L177.9 128.1ZM177.1 129.4L173.4 125.7L179.0 128.3ZM178.1 128.9L178.5 122.6L180.2 127.6ZM178.9 128.2L180.4 125.7L181.9 128.3ZM180.2 128.3L183.0 123.8L183.1 128.3ZM181.8 128.3L182.3 125.0L184.0 128.3ZM183.0 127.8L178.5 128.1L183.4 125.8ZM183.1 126.5L181.2 127.2L182.7 124.8ZM182.5 125.9L183.7 122.6L185.0 124.4ZM184.4 124.8L183.7 123.0L186.4 123.5ZM185.4 124.1L184.2 121.8L187.3 122.9ZM186.1 123.7L186.1 119.2L188.5 122.0ZM187.4 122.8L187.8 120.3L189.1 121.6ZM188.5 122.2L190.4 120.1L190.4 122.5ZM189.2 122.3L190.0 120.3L192.1 122.6ZM190.3 122.4L191.8 120.3L193.4 122.8ZM191.8 122.6L191.2 119.7L193.2 120.3ZM193.1 120.4L193.4 116.7L195.4 118.7ZM195.3 118.8L194.6 116.7L197.2 118.2ZM196.7 118.3L195.6 112.9L199.5 117.4ZM198.0 118.4L196.3 115.8L198.5 115.4ZM198.3 116.9L195.3 114.9L198.6 114.9ZM198.4 115.9L196.6 115.2L198.8 113.9ZM198.4 114.3L195.2 115.9L197.8 112.7ZM198.0 113.2L194.7 114.9L197.1 111.2ZM197.4 111.8L192.9 112.5L196.7 110.2ZM197.1 111.1L194.3 110.4L196.3 108.6ZM196.7 109.8L194.4 108.8L196.0 107.6ZM196.3 108.5L193.5 107.0L195.7 106.5ZM191.5 122.4L189.6 123.3L190.0 121.0ZM191.7 120.1L190.8 118.3L192.4 118.9ZM191.8 119.5L190.3 123.6L189.9 119.1ZM190.4 119.2L189.0 123.2L189.0 118.9ZM189.6 119.0L187.6 121.2L187.5 118.5ZM188.8 118.8L189.3 115.9L190.6 118.8ZM189.8 118.8L190.9 117.0L191.9 118.8ZM190.9 118.8L192.9 116.4L193.1 118.8ZM192.0 118.9L190.5 117.0L192.0 116.7ZM192.0 117.6L190.5 116.1L192.0 116.0ZM190.6 116.2L189.6 120.0L188.8 115.4ZM189.5 115.7L186.9 116.8L187.6 114.9ZM188.9 115.4L189.9 113.9L190.5 115.7ZM189.9 115.6L190.7 114.2L191.8 116.0ZM192.5 116.2L194.5 114.0L193.7 116.5ZM194.3 116.6L196.0 114.2L196.0 117.1ZM195.4 116.5L194.4 114.4L196.5 115.2ZM196.3 115.4L194.9 113.6L197.1 114.4ZM196.7 114.9L194.5 115.5L196.1 113.1ZM196.4 113.9L194.3 114.6L195.8 112.3ZM196.0 112.8L194.4 112.8L195.6 111.6ZM195.7 112.2L195.9 114.6L193.9 112.0ZM194.6 112.1L192.4 115.3L192.9 112.0ZM193.8 112.0L192.9 114.4L191.7 111.9ZM192.7 111.9L189.0 115.7L190.8 111.8ZM190.8 111.8L190.6 106.8L192.9 111.2ZM193.4 111.1L194.9 106.9L194.7 110.8ZM194.1 110.9L192.9 107.6L196.2 110.4ZM195.2 110.5L191.3 110.4L195.6 108.9ZM195.6 108.6L194.1 107.5L196.0 107.1ZM195.9 107.3L194.3 107.4L195.4 105.3ZM195.6 106.1L191.6 107.9L195.1 104.2ZM195.4 105.2L192.7 104.8L194.9 103.8ZM193.9 104.4L191.8 106.9L192.6 104.3ZM192.0 103.5L189.7 104.5L190.8 102.8ZM190.4 102.7L188.3 103.9L189.0 102.0ZM189.8 102.4L189.1 105.9L187.9 101.5ZM189.1 102.1L192.5 100.2L190.7 102.7ZM190.4 102.5L190.6 100.7L191.5 103.0ZM191.2 102.9L192.8 100.4L192.8 103.5ZM193.2 103.3L191.3 103.1L192.7 102.2ZM192.9 102.7L191.2 103.5L192.4 101.3ZM192.2 101.6L189.7 103.1L191.2 100.7ZM191.6 101.1L190.0 102.8L189.9 99.7ZM190.8 100.4L191.2 98.9L192.6 100.6ZM193.0 100.7L193.3 98.7L194.2 100.9ZM193.4 100.1L190.8 100.2L193.1 98.3ZM193.0 99.0L188.5 101.1L191.9 98.0ZM191.4 97.6L189.5 99.2L190.4 96.6ZM190.8 97.0L189.3 100.5L189.5 95.8ZM191.6 96.6L192.8 95.1L193.3 96.8ZM192.8 96.7L192.5 92.8L194.3 96.9ZM193.5 96.6L191.5 95.6L192.8 94.8ZM193.1 95.6L191.3 94.4L192.7 93.7ZM192.8 94.3L189.4 94.6L192.5 92.9ZM192.4 93.3L191.3 94.6L191.3 92.2ZM191.7 92.7L187.9 93.3L190.4 91.3ZM191.0 91.9L192.8 90.0L192.7 92.8ZM191.7 92.3L193.7 91.4L193.6 93.3ZM192.5 92.3L188.9 95.0L192.1 90.9ZM192.3 91.3L188.2 89.5L191.8 89.4ZM192.1 90.0L187.9 89.5L192.3 88.6ZM192.2 88.0L188.7 87.5L191.5 86.0ZM191.8 86.7L187.3 86.3L191.0 84.8ZM191.9 85.6L192.1 82.1L193.4 85.2ZM192.9 85.4L191.8 82.7L194.9 84.8ZM193.8 85.3L192.6 84.3L194.7 83.3ZM194.4 84.0L192.9 83.6L194.9 82.9ZM194.4 83.5L195.3 80.3L196.3 83.1ZM195.4 83.3L197.6 84.9L194.5 85.1ZM194.0 86.2L196.5 90.7L193.1 88.1ZM193.5 87.4L195.1 87.8L193.0 88.5ZM193.6 90.5L196.4 93.5L192.9 91.8ZM193.5 91.2L194.7 89.7L194.9 91.2ZM194.4 91.2L193.9 89.1L195.9 91.2ZM194.9 91.4L196.4 94.3L193.6 92.2ZM193.3 92.8L197.3 94.0L193.3 94.0ZM193.3 93.6L195.4 95.1L193.3 95.2ZM193.2 94.4L193.4 91.9L195.2 94.4ZM194.6 94.4L193.6 90.6L195.8 94.4ZM195.3 94.7L199.7 95.2L195.9 95.7ZM195.8 95.4L198.5 95.5L196.5 96.6ZM196.1 95.7L198.0 97.2L196.1 97.1ZM196.8 97.2L197.7 99.1L196.0 98.8ZM196.3 98.3L199.1 99.3L195.3 100.1ZM195.7 99.6L198.9 101.9L195.3 101.1ZM195.3 101.0L196.9 103.0L195.0 102.2ZM195.6 103.0L195.1 101.3L197.3 101.7ZM196.5 102.1L195.4 99.8L197.1 100.8ZM196.9 101.4L195.3 98.8L197.7 99.6ZM197.4 100.2L195.8 99.2L198.0 99.0ZM198.6 97.9L195.3 96.8L199.3 96.5ZM199.1 97.1L196.7 95.7L200.1 95.8ZM200.1 95.2L198.8 94.1L200.9 93.5ZM201.0 93.1L199.5 92.6L201.3 91.6ZM201.1 92.0L199.5 91.7L201.0 90.6ZM201.0 90.2L199.2 89.0L200.8 88.9ZM200.8 89.5L195.3 90.5L199.6 88.0ZM200.0 88.5L198.1 88.8L199.2 87.4ZM199.4 87.5L197.6 88.3L199.0 86.0ZM199.2 86.4L195.9 86.3L198.7 84.6ZM198.5 84.9L196.6 85.1L197.5 83.7ZM198.0 84.0L193.6 83.4L198.0 82.2ZM198.0 83.1L196.2 81.9L198.8 81.4ZM199.1 84.9L201.0 84.1L200.1 86.1ZM200.0 85.8L201.3 85.4L201.7 86.9ZM202.1 86.7L203.1 87.6L201.8 88.4ZM201.9 87.5L203.2 89.1L201.6 89.6ZM201.9 88.4L201.3 85.9L202.9 87.2ZM202.4 87.8L199.3 86.2L203.6 86.5ZM203.1 87.0L202.8 83.7L204.3 85.8ZM203.7 86.4L203.1 84.4L205.1 85.0ZM204.5 85.6L204.2 83.0L205.7 84.4ZM205.3 84.7L202.4 83.2L206.3 83.0ZM205.9 83.6L203.8 82.4L207.0 81.7ZM206.6 82.5L206.1 81.4L207.6 81.2ZM207.1 81.8L205.8 80.8L207.4 79.9ZM207.3 80.9L206.1 80.1L207.6 79.0ZM207.6 78.7L206.5 77.4L207.7 77.1ZM207.6 77.9L206.6 76.5L207.7 75.9ZM207.7 76.6L206.2 75.7L207.8 75.2ZM206.5 76.6L203.9 75.9L205.6 74.7ZM206.4 75.3L205.9 73.9L207.2 74.3ZM207.7 73.5L205.0 72.6L208.2 72.0ZM208.2 72.1L206.8 71.6L208.6 70.9ZM208.2 73.2L208.4 71.8L209.8 72.7ZM209.5 72.2L208.4 70.1L210.3 70.9ZM212.0 70.5L212.8 67.0L213.8 69.6ZM213.2 69.9L212.9 67.0L214.3 69.4ZM213.9 69.6L213.6 66.0L215.2 68.9ZM214.8 69.2L215.4 68.1L216.7 69.2ZM215.9 69.2L217.5 68.1L217.9 69.2ZM217.1 69.2L218.5 66.2L219.1 69.2ZM218.7 69.1L219.9 65.6L220.7 68.5ZM220.2 68.8L221.4 66.7L222.2 68.9ZM221.7 68.8L222.1 65.7L223.1 68.6ZM223.0 68.6L223.4 67.4L224.2 68.4ZM223.7 68.1L222.7 67.1L223.9 66.4ZM223.8 67.0L220.9 67.3L224.1 65.0ZM224.0 65.8L222.4 64.2L224.3 63.8ZM224.7 65.5L226.7 65.8L225.4 66.5ZM224.8 66.7L226.9 67.1L224.3 68.4ZM224.3 67.5L225.1 64.4L226.5 67.7ZM225.4 67.6L225.6 65.5L226.4 67.0ZM227.3 66.3L227.8 64.5L228.7 65.5ZM228.2 65.8L228.4 63.7L229.4 65.1ZM228.9 65.3L230.3 66.5L228.7 67.3ZM228.8 66.3L231.5 67.0L228.6 68.0ZM229.0 67.0L230.1 64.8L230.7 66.3ZM231.3 66.2L231.6 64.8L233.0 65.9ZM232.3 66.0L231.5 63.6L234.2 65.7ZM233.2 64.5L232.2 64.2L233.2 63.3ZM233.0 63.5L229.6 63.7L232.2 61.8ZM232.2 63.9L234.5 64.2L233.0 65.6ZM232.6 64.8L232.6 67.0L230.7 64.9ZM231.4 64.9L232.1 67.3L230.0 65.0ZM230.7 64.9L228.8 67.6L228.9 65.1ZM229.8 65.0L226.5 65.1L228.7 63.5ZM229.1 64.1L227.7 64.3L228.3 62.9ZM228.7 63.1L226.5 61.6L228.6 61.8ZM228.6 62.4L227.5 61.9L228.4 60.4ZM227.9 61.0L226.0 63.5L226.9 60.4ZM227.3 60.6L224.5 61.2L225.4 59.5ZM226.5 60.0L225.8 58.6L228.0 58.9ZM227.3 59.3L226.3 58.9L227.9 58.3ZM227.9 58.6L228.1 56.9L228.8 57.7ZM228.9 57.3L227.6 58.0L227.5 56.9ZM227.8 56.6L226.7 55.3L227.8 54.7ZM228.7 53.6L227.3 51.5L229.3 52.0ZM230.3 51.0L229.3 47.5L231.2 50.2ZM230.8 50.4L229.3 48.3L231.3 49.2ZM231.0 49.9L228.8 49.0L231.7 47.9ZM231.5 48.8L231.3 47.5L232.8 47.7ZM232.2 48.2L230.8 46.5L233.7 46.9ZM233.4 47.6L234.5 45.5L235.0 47.6ZM207.4 74.8L209.6 73.9L209.3 75.4ZM208.6 75.0L209.2 74.2L210.7 74.8ZM212.2 74.6L213.4 73.0L214.1 73.9ZM214.4 73.8L215.3 72.6L215.9 73.3ZM219.5 71.8L219.8 70.9L220.9 71.0ZM220.7 71.2L221.2 69.2L221.8 70.6ZM218.2 70.9L218.6 69.5L219.6 69.4ZM217.4 71.1L216.9 72.2L215.7 72.2ZM216.0 71.7L214.6 73.1L214.6 71.7ZM212.9 71.9L212.2 72.6L211.0 72.1ZM211.0 72.0L210.1 73.1L209.2 72.8ZM210.3 72.3L209.3 73.9L208.4 73.2ZM208.8 72.9L208.4 74.1L207.5 73.4ZM109.8 9.6L108.7 9.3L108.3 10.2ZM107.5 10.6L106.9 9.8L106.4 11.1ZM105.8 11.4L104.5 11.3L104.0 12.3ZM104.5 12.1L103.4 11.4L103.0 12.9ZM103.6 12.6L102.1 12.7L101.7 13.5ZM100.6 14.6L98.9 14.2L99.1 16.1ZM97.0 18.2L96.2 18.1L96.0 19.1ZM96.4 18.8L95.2 19.0L94.8 20.1ZM94.8 21.5L95.5 22.5L96.1 21.3ZM96.5 21.2L97.9 22.1L98.6 20.9ZM98.5 20.6L99.6 21.0L100.4 19.5ZM100.9 19.5L101.7 19.8L102.4 18.9ZM101.4 22.5L102.6 24.1L103.3 22.7ZM103.3 22.7L104.5 23.4L105.4 22.9ZM105.8 21.9L107.2 22.4L106.9 21.3ZM106.6 21.4L107.4 21.8L108.0 20.6ZM107.5 20.9L108.4 21.1L109.1 19.9ZM108.7 20.4L109.0 21.7L109.9 20.2ZM110.3 20.2L112.4 21.8L112.4 19.9ZM111.6 19.9L112.5 20.4L113.4 18.9ZM115.2 17.4L116.9 18.0L116.5 16.2ZM116.2 16.6L117.0 16.8L117.8 15.5ZM117.4 17.2L116.0 18.1L118.0 18.7ZM117.6 18.2L116.7 19.0L117.2 19.6ZM117.4 18.9L116.3 19.4L116.8 20.9ZM117.1 19.9L115.2 19.3L116.5 21.9ZM117.8 20.0L118.8 20.3L118.9 19.0ZM118.2 19.5L119.6 20.5L120.4 19.8ZM120.9 20.1L121.5 21.2L122.1 20.7ZM122.2 21.4L120.6 22.4L123.4 23.0ZM122.9 22.3L122.7 23.1L124.1 23.9ZM125.2 23.3L126.2 24.4L126.6 23.5ZM127.2 24.1L128.2 24.9L129.1 24.4ZM128.5 24.0L129.3 24.2L130.0 23.0ZM130.5 22.7L131.7 22.9L132.2 21.9ZM133.5 21.8L134.5 22.4L135.1 21.8ZM135.4 21.8L136.5 23.1L137.3 21.2ZM138.4 21.2L136.8 22.5L138.8 23.2ZM138.7 22.7L138.2 23.8L139.0 24.2ZM139.3 23.6L139.8 24.5L140.5 23.8ZM141.7 23.7L142.4 24.5L143.5 23.2ZM144.2 25.2L142.9 26.0L144.2 27.2ZM144.2 26.2L142.5 28.0L144.2 27.9ZM145.9 28.1L144.7 26.7L144.9 29.0ZM145.1 28.5L144.3 27.7L143.9 28.4ZM144.1 28.4L144.1 27.1L142.9 28.3ZM139.0 28.4L139.1 26.4L138.0 27.6ZM138.3 27.9L137.8 26.8L136.8 27.5ZM137.5 27.7L137.2 26.8L135.7 27.2ZM135.3 27.3L134.0 26.8L134.1 27.9ZM132.6 28.5L131.4 27.6L130.9 28.5ZM131.4 28.5L130.0 26.6L129.9 28.5ZM130.7 28.4L129.5 28.3L128.9 29.6ZM127.3 30.5L125.7 29.6L125.2 30.5ZM126.3 30.6L125.8 29.4L124.9 30.0ZM124.4 32.0L123.3 32.0L123.7 33.0ZM124.0 32.5L121.6 33.1L123.0 34.4ZM121.4 36.8L120.1 36.6L120.2 38.3ZM120.8 37.6L119.1 38.1L119.7 39.1ZM120.3 38.2L119.1 39.0L119.8 40.3ZM120.0 39.6L119.1 40.2L119.7 40.9ZM121.5 39.3L122.6 39.3L122.3 38.3ZM122.1 38.5L123.0 38.4L123.2 37.3ZM122.8 37.7L123.7 37.7L123.9 36.3ZM125.3 36.2L123.8 36.5L124.7 37.8ZM123.8 38.9L122.9 39.2L123.2 40.5ZM123.5 39.8L122.4 39.6L122.9 41.3ZM123.0 41.8L121.8 42.3L122.7 43.3ZM122.6 43.9L121.1 43.7L122.3 45.1ZM121.8 45.2L121.1 45.8L121.6 46.8ZM121.6 47.1L120.8 48.3L121.4 49.0ZM121.4 48.2L120.5 48.7L120.8 50.0ZM121.0 60.8L119.5 61.4L121.7 62.7ZM123.3 65.8L123.8 67.9L124.8 66.8ZM124.4 66.2L125.5 66.7L126.2 65.6ZM125.8 65.7L126.8 66.2L127.3 65.2ZM126.3 65.6L128.4 66.0L127.7 64.6ZM127.3 64.7L128.2 64.6L128.1 63.6ZM129.1 62.3L131.0 62.5L130.0 60.5ZM130.5 59.2L131.5 58.3L130.7 58.0ZM130.6 58.6L131.8 57.7L130.9 56.5ZM129.6 50.9L130.1 49.9L129.2 49.5ZM129.3 46.1L129.8 45.1L128.7 44.5ZM130.6 41.0L131.9 39.8L130.8 39.5ZM131.8 37.9L133.4 37.5L133.4 36.6ZM133.4 36.5L135.6 37.0L135.0 35.2ZM134.9 36.3L134.2 36.9L134.7 38.0ZM134.7 38.1L133.9 39.1L134.5 39.9ZM134.7 38.7L136.9 38.6L135.2 37.6ZM135.0 38.1L136.6 38.2L135.7 36.4ZM135.4 37.3L135.1 38.7L136.0 39.0ZM136.0 38.7L137.0 38.0L136.1 37.3ZM136.9 34.1L137.7 34.6L138.8 33.7ZM138.0 33.9L138.7 34.3L139.7 33.5ZM138.2 31.0L139.1 30.3L138.8 29.6ZM139.6 30.1L140.1 30.7L140.8 29.9ZM142.1 31.2L142.5 32.1L143.3 31.3ZM145.4 32.9L145.0 33.9L146.4 33.6ZM148.1 34.4L146.6 36.0L148.3 35.9ZM149.2 39.4L148.4 40.3L149.2 40.8ZM149.2 40.1L147.4 40.9L149.0 42.1ZM149.1 41.5L148.4 42.0L148.9 42.8ZM148.6 42.9L147.5 42.7L147.9 44.4ZM147.9 44.0L147.2 43.6L147.1 45.0ZM146.6 45.5L145.8 45.4L145.6 46.6ZM146.0 46.2L144.9 46.4L144.9 47.3ZM145.4 47.1L144.1 47.2L145.4 48.5ZM145.4 48.9L146.5 50.0L147.3 49.3ZM146.5 49.2L147.3 50.1L148.1 49.5ZM148.4 47.9L150.4 48.2L149.2 46.7ZM149.3 46.4L150.6 47.2L151.2 45.4ZM151.7 45.3L152.5 45.9L153.0 45.1ZM153.0 46.5L152.4 47.6L153.6 47.8ZM153.6 48.8L152.6 49.9L153.9 50.3ZM153.8 49.8L153.3 50.7L154.2 51.8ZM154.0 50.9L152.9 51.4L154.3 52.6ZM154.2 52.1L153.4 52.7L154.5 53.4ZM154.4 52.8L153.8 53.6L154.7 54.7ZM154.6 53.7L154.0 55.3L154.9 55.7ZM154.3 56.9L153.5 57.2L153.8 58.7ZM153.0 57.5L151.7 57.7L151.8 58.9ZM152.5 58.1L150.8 57.5L151.2 59.5ZM151.7 59.2L150.7 60.2L151.1 61.0ZM150.4 61.3L149.7 61.6L150.0 62.7ZM150.1 62.3L149.3 62.5L149.8 63.8ZM148.7 64.5L146.8 64.7L147.8 66.2ZM148.4 65.4L148.8 66.5L149.7 66.1ZM149.2 65.9L149.6 67.7L150.5 66.6ZM150.1 66.4L150.0 68.0L151.2 67.0ZM150.9 66.8L151.3 67.8L152.1 67.6ZM153.0 67.7L153.3 69.1L154.8 68.5ZM155.5 67.8L156.7 68.0L157.0 67.3ZM162.1 65.0L163.3 65.8L163.7 64.4ZM164.1 64.3L164.8 65.4L165.8 63.6ZM165.8 63.6L167.5 63.9L167.6 62.9ZM167.8 62.7L168.7 62.9L169.3 62.1ZM168.6 62.4L169.5 62.7L170.3 61.6ZM170.8 61.2L171.8 61.3L172.2 60.4ZM172.7 59.9L173.9 59.9L173.8 59.1ZM174.4 58.7L176.1 58.9L175.8 57.3ZM175.4 57.7L176.8 57.8L176.5 56.5ZM177.0 55.2L177.6 54.6L176.8 53.8ZM176.7 54.4L176.7 53.4L175.4 53.0ZM176.3 52.2L177.2 52.6L177.8 51.8ZM177.2 51.9L178.1 52.3L179.3 51.4ZM179.7 51.4L181.0 52.8L181.4 51.7ZM181.0 51.6L181.5 52.5L182.4 51.8ZM183.0 51.9L184.0 53.7L184.9 52.2ZM187.0 52.2L187.3 52.8L188.2 52.2ZM190.1 51.6L191.3 51.6L191.9 50.6ZM192.1 50.5L193.9 51.2L193.9 49.8ZM193.2 50.1L194.3 50.2L194.6 49.5ZM193.9 49.5L194.8 48.6L193.9 47.4ZM193.9 48.1L194.4 47.1L193.9 46.2ZM196.0 42.5L197.0 42.3L196.8 41.5ZM197.3 40.9L198.6 40.6L198.1 39.9ZM197.7 40.4L198.7 40.4L198.9 38.9ZM198.4 39.6L200.5 39.9L200.1 38.5ZM200.5 38.2L201.8 38.7L201.8 37.4ZM201.2 37.7L202.6 37.7L202.9 36.6ZM3.0 144.1L4.0 143.9L4.6 144.8ZM4.0 144.7L4.7 144.8L4.9 145.9ZM12.0 151.7L13.3 151.5L13.2 152.7ZM14.7 156.6L15.7 157.1L15.3 157.7ZM15.2 157.6L16.4 157.6L15.8 158.7ZM21.4 162.9L22.6 163.0L23.0 163.7ZM22.6 163.5L23.5 162.5L23.8 164.1ZM24.5 164.1L24.3 163.0L25.3 162.9ZM25.8 162.2L25.5 161.1L26.5 161.1ZM26.6 160.6L26.3 159.2L27.2 158.9ZM29.0 158.1L29.3 156.2L30.2 157.5ZM32.0 158.1L33.3 156.8L34.0 158.4ZM33.4 158.3L33.7 157.2L34.8 158.5ZM35.5 158.8L36.4 158.5L36.6 159.9ZM41.0 166.4L42.3 166.7L41.7 168.2ZM42.2 169.4L43.5 170.0L43.5 171.1ZM43.8 171.4L44.7 171.2L44.8 172.8ZM45.2 173.1L46.9 172.7L46.3 174.1ZM45.8 173.7L47.2 173.9L47.2 174.8ZM46.5 174.2L47.4 174.4L48.0 175.6ZM47.2 175.1L48.1 175.7L47.4 177.0ZM47.4 177.3L48.9 178.2L47.6 179.2ZM48.8 180.7L49.6 180.9L49.6 182.2ZM50.6 182.7L51.8 182.4L52.4 183.1ZM53.3 183.9L54.7 183.3L55.1 185.0ZM55.2 185.0L56.2 184.7L57.3 185.6ZM57.8 185.7L58.7 185.4L59.4 186.1ZM97.8 77.6L98.6 78.3L97.4 78.7ZM98.2 80.5L98.9 81.3L98.4 82.0ZM98.3 81.3L99.3 81.8L98.6 83.0ZM100.4 84.2L102.0 84.5L101.8 85.7ZM103.8 88.8L105.5 87.5L106.0 88.8ZM107.1 96.3L108.3 96.1L109.1 97.3ZM109.7 98.7L110.6 98.7L110.6 99.7ZM110.1 99.6L111.6 100.4L110.1 101.2ZM110.5 102.9L111.3 103.2L111.1 104.3ZM100.9 138.8L102.0 139.5L101.8 140.8ZM99.1 143.6L99.4 145.1L98.5 144.9ZM98.6 144.5L99.0 145.2L98.0 145.8ZM97.9 146.5L98.5 147.4L97.3 148.3ZM96.9 149.6L98.6 148.3L98.7 149.6ZM98.2 149.6L99.6 148.1L99.7 149.6ZM99.0 149.6L100.1 149.0L101.1 149.6ZM102.4 149.6L103.5 148.9L104.2 149.6ZM106.7 149.6L107.2 148.8L108.5 149.6ZM107.9 152.0L109.0 152.1L108.8 153.9ZM109.5 155.0L111.0 155.1L110.5 156.2ZM105.1 119.5L105.2 120.4L104.0 121.1ZM104.5 120.3L105.3 121.7L103.6 121.8ZM100.4 127.5L101.1 129.2L99.8 129.4ZM100.2 132.1L100.8 133.4L99.9 133.4ZM100.0 132.8L100.6 134.0L99.7 134.7ZM120.7 96.7L120.3 95.5L121.8 96.4ZM121.4 96.5L122.1 95.7L123.1 96.0ZM122.7 96.4L123.8 95.2L123.9 97.1ZM123.7 97.0L125.4 96.4L124.9 97.6ZM124.3 97.3L125.5 96.4L126.3 98.3ZM130.3 94.8L131.1 93.8L132.0 95.6ZM132.9 95.9L132.4 94.7L133.7 93.9ZM134.4 92.7L134.2 91.8L135.3 91.3ZM134.9 91.8L135.0 90.6L135.9 90.3ZM135.5 90.9L134.1 89.7L136.4 89.4ZM136.3 89.9L136.5 87.8L137.5 88.9ZM138.8 87.8L139.2 86.6L140.4 86.5ZM139.8 87.1L140.8 86.0L141.5 87.1ZM142.2 87.9L143.9 87.7L143.3 89.6ZM143.8 89.7L145.7 88.6L145.3 90.0ZM145.2 90.0L146.2 89.7L146.3 90.3ZM146.6 90.8L146.9 89.6L147.9 91.0ZM148.2 91.1L149.6 90.6L150.2 91.3ZM151.0 90.1L152.2 90.7L152.1 91.7ZM151.6 90.9L152.6 90.9L152.5 92.3ZM152.2 91.7L153.4 91.8L153.5 92.5ZM153.8 92.6L154.2 93.5L155.4 92.6ZM154.7 92.6L155.8 93.1L156.1 91.2ZM156.1 91.4L156.8 90.3L156.1 89.2ZM155.6 89.6L157.9 90.5L157.4 88.9ZM156.8 89.1L157.5 89.5L158.0 88.6ZM157.5 88.8L158.6 89.4L159.1 88.2ZM158.7 87.3L160.1 86.6L159.2 85.7ZM166.1 76.3L167.8 77.0L166.7 74.6ZM184.8 85.5L185.8 84.4L186.2 86.0ZM185.7 86.0L187.2 86.4L187.1 87.5ZM187.4 87.9L189.0 87.1L188.8 89.2ZM188.5 89.8L190.7 90.7L187.4 91.4ZM189.0 93.8L190.9 93.8L190.0 95.0ZM190.4 94.7L191.9 93.9L192.2 95.4ZM191.6 95.1L192.8 94.0L192.9 95.6ZM166.3 191.4L169.0 194.6L170.3 198.7L168.6 190.5ZM149.8 67.3L154.9 69.0L159.3 71.9L151.1 65.3ZM77.2 160.3L76.5 157.7L74.9 158.7L75.1 161.5ZM60.8 174.9L51.9 175.5L60.7 177.3ZM67.9 167.7L66.1 164.2L66.0 159.7L65.5 167.9ZM102.6 57.9L106.4 51.5L100.8 56.3ZM110.2 109.2L105.4 107.5L108.9 111.2ZM189.8 93.2L184.1 93.2L189.2 95.6ZM191.6 110.6L185.7 110.6L191.1 113.0ZM190.6 114.6L185.1 113.7L189.7 116.8ZM175.2 132.4L170.3 129.1L173.5 134.1ZM167.0 139.1L161.5 135.9L165.4 140.9ZM162.3 145.6L157.4 144.4L161.3 147.7Z" fill="#000" stroke-width="0.35" stroke-linejoin="miter"/><path d="M193.3 104.3L189.5 102.4L190.8 99.2L187.0 96.0L189.5 92.0L187.6 88.8L190.8 85.5L194.5 83.1L197.7 83.9L200.8 86.3L201.8 88.8L201.1 92.8L199.6 96.8L197.7 100.0L195.8 103.2ZM198.0 83.1L197.7 85.5L199.2 88.4L200.8 89.6L202.1 87.9L201.5 85.9L198.9 83.5ZM191.7 122.2L189.5 119.5L190.8 116.4L189.5 114.9L193.3 114.9L192.6 112.2L190.8 111.4L194.5 110.2L196.1 108.7L197.0 111.8L198.3 114.9L198.0 117.6L195.2 118.8ZM206.5 75.7L208.4 71.1L213.4 69.0L218.5 68.1L223.5 67.3L224.4 64.8L226.0 66.0L225.4 69.0L221.3 71.9L216.6 74.0L211.5 75.7ZM228.5 65.2L228.8 67.3L232.9 66.9L233.6 63.9L232.3 62.2L231.0 63.1L232.3 64.8ZM105.1 163.4L102.6 160.6L103.9 156.2L106.4 154.0L109.5 154.7L112.1 156.9L112.1 160.6L113.6 163.1L111.4 164.9L109.5 163.1ZM92.5 160.6L94.4 158.0L98.8 158.0L102.6 160.6L104.5 163.8L100.7 164.2L96.9 161.3ZM145.1 48.9L145.4 46.3L147.6 46.3L148.3 48.5ZM118.7 151.8L120.6 151.8L120.9 155.1L118.7 155.1Z" fill="#000" stroke-width="1.5"/></g>
</defs>
<rect width="1500" height="825" fill="#fff"/>
<text x="589.45" y="26.90" font-size="22.80" textLength="39.90" lengthAdjust="spacingAndGlyphs" fill="#000">IASI</text><text x="635.20" y="26.90" font-size="22.80" textLength="121.90" lengthAdjust="spacingAndGlyphs" fill="#000">2023-02-04</text><text x="762.70" y="26.90" font-size="22.80" textLength="88.54" lengthAdjust="spacingAndGlyphs" fill="#000">(044548</text><text x="856.94" y="26.90" font-size="22.80" textLength="51.39" lengthAdjust="spacingAndGlyphs" fill="#000">UTC)</text>
<g id="panel1">
<g filter="url(#soft)"><circle cx="195.8" cy="124.2" r="3.3" fill="#00e3ff"/><circle cx="195.6" cy="129.2" r="3.3" fill="#00d0ff"/><circle cx="196.1" cy="134.2" r="3.3" fill="#00d8ff"/><circle cx="195.4" cy="158.3" r="3.3" fill="#002dff"/><circle cx="195.8" cy="164.3" r="3.3" fill="#0048ff"/><circle cx="195.2" cy="170.3" r="3.3" fill="#0000dc"/><circle cx="195.0" cy="194.3" r="3.3" fill="#0000e4"/><circle cx="195.3" cy="200.3" r="3.3" fill="#0066ff"/><circle cx="195.8" cy="206.3" r="3.3" fill="#0074ff"/><circle cx="195.9" cy="212.3" r="3.3" fill="#009cff"/><circle cx="195.0" cy="228.3" r="3.3" fill="#00b5ff"/><circle cx="195.3" cy="233.3" r="3.3" fill="#00b7ff"/><circle cx="200.1" cy="96.8" r="3.3" fill="#33ffcc"/><circle cx="202.6" cy="97.2" r="3.3" fill="#34ffcb"/><circle cx="206.1" cy="155.2" r="3.3" fill="#00b9ff"/><circle cx="201.6" cy="98.7" r="3.3" fill="#4bffb4"/><circle cx="218.1" cy="208.2" r="3.3" fill="#00a6ff"/><circle cx="208.6" cy="124.2" r="3.3" fill="#00f6ff"/><circle cx="209.3" cy="134.6" r="3.3" fill="#00fdff"/><circle cx="218.8" cy="224.0" r="3.3" fill="#00aeff"/><circle cx="217.0" cy="210.7" r="3.3" fill="#0098ff"/><circle cx="209.2" cy="168.6" r="3.3" fill="#00aeff"/><circle cx="203.2" cy="126.6" r="3.3" fill="#00ceff"/><circle cx="199.0" cy="202.6" r="3.3" fill="#008fff"/><circle cx="214.9" cy="184.0" r="3.3" fill="#0085ff"/><circle cx="201.6" cy="106.3" r="3.3" fill="#5cffa3"/><circle cx="198.0" cy="98.3" r="3.3" fill="#28ffd7"/><circle cx="216.7" cy="231.0" r="3.3" fill="#00bcff"/><circle cx="211.8" cy="179.7" r="3.3" fill="#00a5ff"/><circle cx="216.1" cy="200.3" r="3.3" fill="#007aff"/><circle cx="199.0" cy="165.7" r="3.3" fill="#0000ff"/><circle cx="206.7" cy="176.4" r="3.3" fill="#00c8ff"/><circle cx="208.7" cy="200.1" r="3.3" fill="#00beff"/><circle cx="214.0" cy="215.9" r="3.3" fill="#00a2ff"/><circle cx="212.2" cy="230.8" r="3.3" fill="#0091ff"/><circle cx="199.4" cy="186.7" r="3.3" fill="#0000ff"/><circle cx="199.0" cy="213.3" r="3.3" fill="#006eff"/><circle cx="206.9" cy="106.4" r="3.3" fill="#2fffd0"/><circle cx="206.7" cy="187.2" r="3.3" fill="#00b7ff"/><circle cx="200.7" cy="218.0" r="3.3" fill="#0095ff"/><circle cx="208.4" cy="137.6" r="3.3" fill="#17ffe8"/><circle cx="207.0" cy="109.0" r="3.3" fill="#37ffc8"/><circle cx="201.3" cy="139.6" r="3.3" fill="#00cfff"/><circle cx="218.9" cy="226.5" r="3.3" fill="#00a0ff"/><circle cx="201.7" cy="169.2" r="3.3" fill="#0000cf"/><circle cx="213.5" cy="207.9" r="3.3" fill="#00b9ff"/><circle cx="206.4" cy="119.6" r="3.3" fill="#11ffee"/><circle cx="204.2" cy="197.6" r="3.3" fill="#0000c6"/><circle cx="199.2" cy="234.3" r="3.3" fill="#00baff"/><circle cx="212.4" cy="186.9" r="3.3" fill="#00b9ff"/><circle cx="203.7" cy="218.0" r="3.3" fill="#0093ff"/><circle cx="199.0" cy="119.3" r="3.3" fill="#07fff8"/><circle cx="206.0" cy="230.9" r="3.3" fill="#00a9ff"/><circle cx="201.0" cy="165.8" r="3.3" fill="#0005ff"/><circle cx="211.7" cy="207.4" r="3.3" fill="#0073ff"/><circle cx="215.0" cy="218.2" r="3.3" fill="#00c1ff"/><circle cx="204.3" cy="176.9" r="3.3" fill="#0000d3"/><circle cx="206.4" cy="164.2" r="3.3" fill="#0052ff"/><circle cx="217.4" cy="196.7" r="3.3" fill="#00d8ff"/><circle cx="198.1" cy="158.6" r="3.3" fill="#002aff"/><circle cx="199.2" cy="114.7" r="3.3" fill="#0afff5"/><circle cx="206.8" cy="103.0" r="3.3" fill="#1affe5"/><circle cx="211.6" cy="165.4" r="3.3" fill="#0082ff"/><circle cx="203.3" cy="228.0" r="3.3" fill="#009dff"/><circle cx="215.5" cy="186.7" r="3.3" fill="#0098ff"/><circle cx="206.0" cy="98.3" r="3.3" fill="#58ffa7"/><circle cx="203.9" cy="137.1" r="3.3" fill="#09fff6"/><circle cx="203.5" cy="181.7" r="3.3" fill="#0000fd"/><circle cx="211.4" cy="160.3" r="3.3" fill="#008eff"/><circle cx="207.1" cy="150.9" r="3.3" fill="#00cdff"/><circle cx="203.1" cy="116.8" r="3.3" fill="#06fff9"/><circle cx="211.0" cy="157.8" r="3.3" fill="#00b4ff"/><circle cx="198.1" cy="222.6" r="3.3" fill="#0086ff"/><circle cx="210.1" cy="145.6" r="3.3" fill="#02fffd"/><circle cx="204.5" cy="233.1" r="3.3" fill="#00e6ff"/><circle cx="217.2" cy="202.9" r="3.3" fill="#0083ff"/><circle cx="209.3" cy="134.8" r="3.3" fill="#00e1ff"/><circle cx="208.8" cy="221.3" r="3.3" fill="#008eff"/><circle cx="208.8" cy="178.5" r="3.3" fill="#00e5ff"/><circle cx="216.0" cy="191.7" r="3.3" fill="#00d8ff"/><circle cx="201.3" cy="109.6" r="3.3" fill="#2bffd4"/><circle cx="203.8" cy="220.7" r="3.3" fill="#0097ff"/><circle cx="208.5" cy="225.7" r="3.3" fill="#3bffc4"/><circle cx="208.9" cy="186.8" r="3.3" fill="#00c3ff"/><circle cx="207.2" cy="197.7" r="3.3" fill="#00cbff"/><circle cx="201.4" cy="221.3" r="3.3" fill="#00a3ff"/><circle cx="214.9" cy="223.8" r="3.3" fill="#00ceff"/><circle cx="210.9" cy="220.0" r="3.3" fill="#00ceff"/><circle cx="205.8" cy="148.1" r="3.3" fill="#00bbff"/><circle cx="206.5" cy="218.4" r="3.3" fill="#009eff"/><circle cx="207.1" cy="220.3" r="3.3" fill="#008aff"/><circle cx="211.9" cy="213.3" r="3.3" fill="#00c1ff"/><circle cx="201.6" cy="201.7" r="3.3" fill="#0058ff"/><circle cx="218.7" cy="220.9" r="3.3" fill="#00ccff"/><circle cx="209.4" cy="205.5" r="3.3" fill="#0074ff"/><circle cx="205.7" cy="173.9" r="3.3" fill="#00dcff"/><circle cx="208.7" cy="215.5" r="3.3" fill="#007eff"/><circle cx="211.0" cy="181.8" r="3.3" fill="#00c8ff"/><circle cx="216.1" cy="207.4" r="3.3" fill="#0075ff"/><circle cx="216.6" cy="225.9" r="3.3" fill="#00abff"/><circle cx="204.1" cy="121.8" r="3.3" fill="#00e5ff"/><circle cx="206.1" cy="153.7" r="3.3" fill="#00abff"/><circle cx="215.6" cy="180.9" r="3.3" fill="#00bdff"/><circle cx="217.0" cy="199.2" r="3.3" fill="#00a5ff"/><circle cx="209.4" cy="201.9" r="3.3" fill="#0068ff"/><circle cx="197.8" cy="106.0" r="3.3" fill="#48ffb7"/><circle cx="199.4" cy="192.7" r="3.3" fill="#0000c0"/><circle cx="213.7" cy="191.8" r="3.3" fill="#00d1ff"/><circle cx="201.5" cy="114.4" r="3.3" fill="#0afff5"/><circle cx="198.1" cy="204.4" r="3.3" fill="#0083ff"/><circle cx="217.6" cy="217.7" r="3.3" fill="#00daff"/><circle cx="212.2" cy="228.8" r="3.3" fill="#00caff"/><circle cx="212.1" cy="171.5" r="3.3" fill="#00acff"/><circle cx="200.9" cy="118.4" r="3.3" fill="#00efff"/><circle cx="203.1" cy="150.5" r="3.3" fill="#00c2ff"/><circle cx="208.8" cy="126.6" r="3.3" fill="#00c3ff"/><circle cx="216.6" cy="194.9" r="3.3" fill="#c3ff3c"/><circle cx="198.0" cy="142.0" r="3.3" fill="#00d3ff"/><circle cx="214.5" cy="174.7" r="3.3" fill="#009bff"/><circle cx="207.1" cy="105.8" r="3.3" fill="#0ffff0"/><circle cx="201.8" cy="144.6" r="3.3" fill="#00feff"/><circle cx="198.7" cy="174.5" r="3.3" fill="#0000d7"/><circle cx="199.0" cy="181.3" r="3.3" fill="#0000ba"/><circle cx="203.2" cy="142.8" r="3.3" fill="#16ffe9"/><circle cx="209.8" cy="197.0" r="3.3" fill="#00c0ff"/><circle cx="204.3" cy="162.7" r="3.3" fill="#006eff"/><circle cx="208.6" cy="229.2" r="3.3" fill="#00e3ff"/><circle cx="198.3" cy="220.2" r="3.3" fill="#007fff"/><circle cx="219.1" cy="223.5" r="3.3" fill="#00ccff"/><circle cx="200.9" cy="226.2" r="3.3" fill="#0098ff"/><circle cx="200.5" cy="147.1" r="3.3" fill="#00deff"/><circle cx="206.1" cy="130.3" r="3.3" fill="#00e2ff"/><circle cx="204.4" cy="213.0" r="3.3" fill="#0085ff"/><circle cx="214.5" cy="171.7" r="3.3" fill="#00c5ff"/><circle cx="217.5" cy="220.8" r="3.3" fill="#00ecff"/><circle cx="208.9" cy="158.1" r="3.3" fill="#009dff"/><circle cx="198.8" cy="179.1" r="3.3" fill="#0000c1"/><circle cx="219.1" cy="221.0" r="3.3" fill="#00c2ff"/><circle cx="200.4" cy="183.6" r="3.3" fill="#0000dc"/><circle cx="211.6" cy="234.1" r="3.3" fill="#0091ff"/><circle cx="206.1" cy="169.0" r="3.3" fill="#00d6ff"/><circle cx="212.3" cy="191.7" r="3.3" fill="#00b2ff"/><circle cx="201.6" cy="204.4" r="3.3" fill="#0090ff"/><circle cx="204.3" cy="145.8" r="3.3" fill="#02fffd"/><circle cx="213.8" cy="225.8" r="3.3" fill="#00d3ff"/><circle cx="201.2" cy="181.2" r="3.3" fill="#0000bd"/><circle cx="214.1" cy="197.4" r="3.3" fill="#00d2ff"/><circle cx="206.1" cy="166.5" r="3.3" fill="#005dff"/><circle cx="203.5" cy="101.4" r="3.3" fill="#48ffb7"/><circle cx="209.2" cy="127.8" r="3.3" fill="#00c2ff"/><circle cx="204.2" cy="192.2" r="3.3" fill="#0000b8"/><circle cx="209.3" cy="160.2" r="3.3" fill="#009aff"/><circle cx="211.5" cy="176.4" r="3.3" fill="#00daff"/><circle cx="211.7" cy="173.6" r="3.3" fill="#00c3ff"/><circle cx="212.1" cy="226.0" r="3.3" fill="#00c3ff"/><circle cx="200.7" cy="188.9" r="3.3" fill="#0000e7"/><circle cx="209.8" cy="129.7" r="3.3" fill="#00f2ff"/><circle cx="211.6" cy="204.4" r="3.3" fill="#00a9ff"/><circle cx="217.5" cy="204.7" r="3.3" fill="#0098ff"/><circle cx="201.8" cy="179.0" r="3.3" fill="#0000d1"/><circle cx="209.3" cy="217.4" r="3.3" fill="#00baff"/><circle cx="210.6" cy="152.4" r="3.3" fill="#00d1ff"/><circle cx="209.5" cy="163.2" r="3.3" fill="#0096ff"/><circle cx="198.5" cy="137.0" r="3.3" fill="#00f4ff"/><circle cx="211.1" cy="216.1" r="3.3" fill="#008dff"/><circle cx="203.3" cy="179.3" r="3.3" fill="#0000d9"/><circle cx="204.1" cy="183.9" r="3.3" fill="#0000ee"/><circle cx="206.5" cy="122.1" r="3.3" fill="#00daff"/><circle cx="203.6" cy="231.6" r="3.3" fill="#0092ff"/><circle cx="206.3" cy="127.7" r="3.3" fill="#00d3ff"/><circle cx="206.5" cy="205.2" r="3.3" fill="#0089ff"/><circle cx="208.6" cy="121.1" r="3.3" fill="#00e3ff"/><circle cx="215.5" cy="184.2" r="3.3" fill="#00adff"/><circle cx="209.3" cy="182.0" r="3.3" fill="#00b0ff"/><circle cx="200.5" cy="174.2" r="3.3" fill="#0000fb"/><circle cx="205.6" cy="135.2" r="3.3" fill="#00d6ff"/><circle cx="198.1" cy="117.0" r="3.3" fill="#14ffeb"/><circle cx="204.5" cy="166.4" r="3.3" fill="#004eff"/><circle cx="216.8" cy="234.2" r="3.3" fill="#19ffe6"/><circle cx="200.9" cy="187.0" r="3.3" fill="#0000fb"/><circle cx="206.5" cy="113.5" r="3.3" fill="#00eeff"/><circle cx="204.0" cy="109.2" r="3.3" fill="#24ffdb"/><circle cx="209.8" cy="194.3" r="3.3" fill="#009eff"/><circle cx="204.5" cy="225.2" r="3.3" fill="#0080ff"/><circle cx="202.0" cy="129.5" r="3.3" fill="#00e9ff"/><circle cx="203.8" cy="114.0" r="3.3" fill="#00feff"/><circle cx="215.0" cy="205.5" r="3.3" fill="#0098ff"/><circle cx="216.9" cy="194.4" r="3.3" fill="#70ff8f"/><circle cx="201.7" cy="214.8" r="3.3" fill="#0086ff"/><circle cx="214.6" cy="186.7" r="3.3" fill="#009aff"/><circle cx="214.5" cy="234.1" r="3.3" fill="#00aeff"/><circle cx="199.4" cy="176.0" r="3.3" fill="#0000d2"/><circle cx="201.5" cy="116.0" r="3.3" fill="#00e3ff"/><circle cx="214.8" cy="176.4" r="3.3" fill="#00a8ff"/><circle cx="214.3" cy="200.0" r="3.3" fill="#0096ff"/><circle cx="209.8" cy="139.3" r="3.3" fill="#0cfff3"/><circle cx="212.1" cy="223.8" r="3.3" fill="#00bcff"/><circle cx="203.3" cy="215.6" r="3.3" fill="#0091ff"/><circle cx="206.9" cy="98.5" r="3.3" fill="#48ffb7"/><circle cx="211.5" cy="200.0" r="3.3" fill="#00b8ff"/><circle cx="198.7" cy="197.3" r="3.3" fill="#0000ba"/><circle cx="214.7" cy="169.1" r="3.3" fill="#00aeff"/><circle cx="209.4" cy="142.8" r="3.3" fill="#48ffb7"/><circle cx="201.0" cy="135.3" r="3.3" fill="#05fffa"/><circle cx="209.3" cy="170.6" r="3.3" fill="#00b9ff"/><circle cx="206.2" cy="132.5" r="3.3" fill="#00b7ff"/><circle cx="203.4" cy="169.4" r="3.3" fill="#0000e9"/><circle cx="205.9" cy="100.5" r="3.3" fill="#4affb5"/><circle cx="214.3" cy="213.0" r="3.3" fill="#00bcff"/><circle cx="211.4" cy="160.7" r="3.3" fill="#0097ff"/><circle cx="209.2" cy="230.6" r="3.3" fill="#00b2ff"/><circle cx="201.9" cy="223.9" r="3.3" fill="#00b7ff"/><circle cx="201.1" cy="230.6" r="3.3" fill="#00b0ff"/><circle cx="210.9" cy="210.1" r="3.3" fill="#008aff"/><circle cx="203.2" cy="152.7" r="3.3" fill="#00bbff"/><circle cx="207.7" cy="114.6" r="3.3" fill="#1dffe2"/><circle cx="210.4" cy="147.4" r="3.3" fill="#00d7ff"/><circle cx="206.1" cy="199.7" r="3.3" fill="#00a4ff"/><circle cx="203.8" cy="147.9" r="3.3" fill="#00abff"/><circle cx="212.3" cy="194.4" r="3.3" fill="#36ffc9"/><circle cx="209.3" cy="174.1" r="3.3" fill="#00c0ff"/><circle cx="218.2" cy="210.0" r="3.3" fill="#0092ff"/><circle cx="203.4" cy="129.3" r="3.3" fill="#00f5ff"/><circle cx="203.2" cy="135.5" r="3.3" fill="#0dfff2"/><circle cx="205.6" cy="158.3" r="3.3" fill="#0068ff"/><circle cx="201.9" cy="100.7" r="3.3" fill="#3bffc4"/><circle cx="218.2" cy="213.3" r="3.3" fill="#00a2ff"/><circle cx="209.5" cy="145.9" r="3.3" fill="#16ffe9"/><circle cx="214.6" cy="203.1" r="3.3" fill="#0092ff"/><circle cx="204.5" cy="172.0" r="3.3" fill="#0000e9"/><circle cx="220.2" cy="225.5" r="3.3" fill="#00b6ff"/><circle cx="199.4" cy="152.3" r="3.3" fill="#00b2ff"/><circle cx="212.0" cy="184.1" r="3.3" fill="#009eff"/><circle cx="198.6" cy="189.3" r="3.3" fill="#0000b8"/><circle cx="207.5" cy="111.0" r="3.3" fill="#0afff5"/><circle cx="200.9" cy="197.1" r="3.3" fill="#0000b9"/><circle cx="201.5" cy="200.0" r="3.3" fill="#0000bc"/><circle cx="214.6" cy="179.8" r="3.3" fill="#0088ff"/><circle cx="209.1" cy="133.0" r="3.3" fill="#00b6ff"/><circle cx="206.9" cy="103.1" r="3.3" fill="#38ffc7"/><circle cx="198.1" cy="124.0" r="3.3" fill="#00ceff"/><circle cx="215.0" cy="171.2" r="3.3" fill="#00a3ff"/><circle cx="198.0" cy="194.6" r="3.3" fill="#0000f0"/><circle cx="197.9" cy="131.9" r="3.3" fill="#00d0ff"/><circle cx="210.7" cy="156.3" r="3.3" fill="#0093ff"/><circle cx="214.6" cy="176.1" r="3.3" fill="#00baff"/><circle cx="198.6" cy="215.0" r="3.3" fill="#00a9ff"/><circle cx="203.7" cy="200.1" r="3.3" fill="#0000f9"/><circle cx="216.2" cy="189.2" r="3.3" fill="#00a2ff"/><circle cx="217.5" cy="228.2" r="3.3" fill="#00bdff"/><circle cx="205.7" cy="234.4" r="3.3" fill="#00d7ff"/><circle cx="204.5" cy="173.4" r="3.3" fill="#0000d4"/><circle cx="206.5" cy="171.7" r="3.3" fill="#009bff"/><circle cx="201.4" cy="132.4" r="3.3" fill="#00d7ff"/><circle cx="198.5" cy="184.1" r="3.3" fill="#0000bb"/><circle cx="209.1" cy="233.8" r="3.3" fill="#0074ff"/><circle cx="219.7" cy="234.3" r="3.3" fill="#2effd1"/><circle cx="198.6" cy="228.8" r="3.3" fill="#0097ff"/><circle cx="200.7" cy="104.3" r="3.3" fill="#45ffba"/><circle cx="206.3" cy="100.8" r="3.3" fill="#33ffcc"/><circle cx="201.7" cy="192.6" r="3.3" fill="#0000c6"/><circle cx="214.5" cy="220.7" r="3.3" fill="#00bfff"/><circle cx="201.8" cy="157.5" r="3.3" fill="#004cff"/><circle cx="200.6" cy="123.8" r="3.3" fill="#00fbff"/><circle cx="203.2" cy="118.7" r="3.3" fill="#10ffef"/><circle cx="209.8" cy="175.7" r="3.3" fill="#00d3ff"/><circle cx="211.1" cy="157.7" r="3.3" fill="#008dff"/><circle cx="203.6" cy="140.0" r="3.3" fill="#12ffed"/><circle cx="203.9" cy="104.2" r="3.3" fill="#3fffc0"/><circle cx="203.3" cy="207.5" r="3.3" fill="#007eff"/><circle cx="217.2" cy="215.4" r="3.3" fill="#00b9ff"/><circle cx="204.0" cy="187.3" r="3.3" fill="#0000e8"/><circle cx="216.4" cy="197.2" r="3.3" fill="#00efff"/><circle cx="201.5" cy="122.0" r="3.3" fill="#00eeff"/><circle cx="215.0" cy="179.6" r="3.3" fill="#008eff"/><circle cx="206.9" cy="223.7" r="3.3" fill="#007dff"/><circle cx="210.6" cy="150.0" r="3.3" fill="#00a5ff"/><circle cx="200.8" cy="153.7" r="3.3" fill="#0087ff"/><circle cx="214.5" cy="168.7" r="3.3" fill="#00d9ff"/><circle cx="214.7" cy="180.9" r="3.3" fill="#0092ff"/><circle cx="209.6" cy="189.9" r="3.3" fill="#00a2ff"/><circle cx="198.4" cy="172.0" r="3.3" fill="#0000bb"/><circle cx="203.1" cy="202.6" r="3.3" fill="#006fff"/><circle cx="204.4" cy="209.7" r="3.3" fill="#0053ff"/><circle cx="207.0" cy="211.1" r="3.3" fill="#0054ff"/><circle cx="213.9" cy="230.8" r="3.3" fill="#00aeff"/><circle cx="211.5" cy="165.4" r="3.3" fill="#0093ff"/><circle cx="205.8" cy="145.9" r="3.3" fill="#00e6ff"/><circle cx="199.0" cy="145.1" r="3.3" fill="#00f3ff"/><circle cx="200.7" cy="138.0" r="3.3" fill="#12ffed"/><circle cx="204.4" cy="132.7" r="3.3" fill="#00e2ff"/><circle cx="198.6" cy="111.2" r="3.3" fill="#47ffb8"/><circle cx="203.3" cy="194.9" r="3.3" fill="#0000cd"/><circle cx="201.4" cy="210.7" r="3.3" fill="#0083ff"/><circle cx="198.9" cy="210.4" r="3.3" fill="#0070ff"/><circle cx="203.1" cy="189.8" r="3.3" fill="#0000fe"/><circle cx="199.2" cy="108.2" r="3.3" fill="#7aff85"/><circle cx="206.8" cy="108.8" r="3.3" fill="#15ffea"/><circle cx="214.3" cy="194.8" r="3.3" fill="#eeff11"/><circle cx="206.2" cy="226.4" r="3.3" fill="#0098ff"/><circle cx="209.3" cy="149.7" r="3.3" fill="#00b4ff"/><circle cx="205.7" cy="125.1" r="3.3" fill="#00dfff"/><circle cx="207.2" cy="142.1" r="3.3" fill="#6aff95"/><circle cx="216.8" cy="205.4" r="3.3" fill="#00a6ff"/><circle cx="211.5" cy="163.6" r="3.3" fill="#0090ff"/><circle cx="206.9" cy="112.0" r="3.3" fill="#26ffd9"/><circle cx="206.4" cy="183.7" r="3.3" fill="#00acff"/><circle cx="206.6" cy="194.3" r="3.3" fill="#0099ff"/><circle cx="208.3" cy="147.8" r="3.3" fill="#00c1ff"/><circle cx="208.5" cy="122.3" r="3.3" fill="#01fffe"/><circle cx="207.9" cy="119.0" r="3.3" fill="#00ecff"/><circle cx="203.3" cy="106.8" r="3.3" fill="#40ffbf"/><circle cx="206.6" cy="137.7" r="3.3" fill="#00f9ff"/><circle cx="214.9" cy="190.0" r="3.3" fill="#00cbff"/><circle cx="204.1" cy="155.0" r="3.3" fill="#0074ff"/><circle cx="198.3" cy="140.6" r="3.3" fill="#00c6ff"/><circle cx="219.3" cy="231.0" r="3.3" fill="#00d6ff"/><circle cx="197.9" cy="151.1" r="3.3" fill="#00a6ff"/><circle cx="218.1" cy="216.3" r="3.3" fill="#00b0ff"/><circle cx="208.0" cy="116.9" r="3.3" fill="#00daff"/><circle cx="199.0" cy="147.6" r="3.3" fill="#00e3ff"/><circle cx="218.6" cy="218.1" r="3.3" fill="#00bfff"/><circle cx="206.2" cy="216.1" r="3.3" fill="#00a0ff"/><circle cx="197.9" cy="168.9" r="3.3" fill="#0000f4"/><circle cx="198.4" cy="156.1" r="3.3" fill="#0034ff"/><circle cx="209.1" cy="210.0" r="3.3" fill="#009aff"/><circle cx="200.6" cy="194.5" r="3.3" fill="#0000cc"/><circle cx="206.4" cy="192.8" r="3.3" fill="#00bdff"/><circle cx="200.5" cy="142.8" r="3.3" fill="#00d9ff"/><circle cx="207.0" cy="160.3" r="3.3" fill="#0072ff"/><circle cx="203.8" cy="111.8" r="3.3" fill="#03fffc"/><circle cx="198.9" cy="129.1" r="3.3" fill="#00bcff"/><circle cx="201.0" cy="170.5" r="3.3" fill="#0000c1"/><circle cx="209.9" cy="143.4" r="3.3" fill="#46ffb9"/><circle cx="201.3" cy="177.0" r="3.3" fill="#0000f5"/><circle cx="198.8" cy="104.3" r="3.3" fill="#31ffce"/><circle cx="208.6" cy="155.9" r="3.3" fill="#00b6ff"/><circle cx="201.4" cy="156.4" r="3.3" fill="#0052ff"/><circle cx="211.5" cy="156.1" r="3.3" fill="#00b9ff"/><circle cx="204.2" cy="98.3" r="3.3" fill="#29ffd6"/><circle cx="209.7" cy="136.8" r="3.3" fill="#00f1ff"/><circle cx="197.9" cy="101.7" r="3.3" fill="#26ffd9"/><circle cx="208.8" cy="124.5" r="3.3" fill="#06fff9"/><circle cx="211.2" cy="198.1" r="3.3" fill="#00c1ff"/><circle cx="208.5" cy="208.4" r="3.3" fill="#005aff"/><circle cx="197.9" cy="218.6" r="3.3" fill="#0091ff"/><circle cx="198.1" cy="199.2" r="3.3" fill="#0000e6"/><circle cx="208.7" cy="192.3" r="3.3" fill="#00a9ff"/><circle cx="206.2" cy="181.5" r="3.3" fill="#00bfff"/><circle cx="205.6" cy="208.2" r="3.3" fill="#006fff"/><circle cx="219.1" cy="228.6" r="3.3" fill="#008eff"/><circle cx="203.0" cy="160.5" r="3.3" fill="#002fff"/><circle cx="216.5" cy="202.7" r="3.3" fill="#0072ff"/><circle cx="198.8" cy="230.7" r="3.3" fill="#0073ff"/><circle cx="214.8" cy="173.7" r="3.3" fill="#009eff"/><circle cx="198.5" cy="226.2" r="3.3" fill="#0091ff"/><circle cx="209.2" cy="185.0" r="3.3" fill="#0094ff"/><circle cx="216.0" cy="223.5" r="3.3" fill="#00dbff"/><circle cx="201.6" cy="233.7" r="3.3" fill="#22ffdd"/><circle cx="203.2" cy="222.7" r="3.3" fill="#0096ff"/><circle cx="201.3" cy="207.1" r="3.3" fill="#007bff"/><circle cx="217.2" cy="213.4" r="3.3" fill="#00d6ff"/><circle cx="206.0" cy="116.3" r="3.3" fill="#00e1ff"/><circle cx="206.5" cy="201.9" r="3.3" fill="#009cff"/><circle cx="204.0" cy="205.8" r="3.3" fill="#005bff"/><circle cx="208.3" cy="139.3" r="3.3" fill="#40ffbf"/><circle cx="201.8" cy="111.2" r="3.3" fill="#31ffce"/><circle cx="201.0" cy="162.7" r="3.3" fill="#0040ff"/><circle cx="201.9" cy="160.5" r="3.3" fill="#0058ff"/><circle cx="198.5" cy="126.5" r="3.3" fill="#00ccff"/><circle cx="212.3" cy="163.1" r="3.3" fill="#0065ff"/><circle cx="211.4" cy="217.6" r="3.3" fill="#00b5ff"/><circle cx="206.7" cy="140.6" r="3.3" fill="#35ffca"/><circle cx="216.7" cy="192.1" r="3.3" fill="#00d3ff"/><circle cx="197.9" cy="207.5" r="3.3" fill="#008dff"/><circle cx="208.9" cy="128.8" r="3.3" fill="#00f1ff"/><circle cx="201.3" cy="126.6" r="3.3" fill="#00f2ff"/><circle cx="208.9" cy="132.6" r="3.3" fill="#00d6ff"/><circle cx="206.3" cy="213.5" r="3.3" fill="#0061ff"/><circle cx="206.2" cy="178.3" r="3.3" fill="#00dbff"/><circle cx="204.0" cy="123.8" r="3.3" fill="#00fbff"/><circle cx="205.9" cy="227.8" r="3.3" fill="#00b4ff"/><circle cx="209.3" cy="153.7" r="3.3" fill="#00bbff"/><circle cx="199.3" cy="121.7" r="3.3" fill="#00f5ff"/><circle cx="212.2" cy="203.0" r="3.3" fill="#00b2ff"/><circle cx="201.8" cy="227.9" r="3.3" fill="#00a0ff"/><circle cx="219.8" cy="227.9" r="3.3" fill="#00c8ff"/><circle cx="219.2" cy="230.4" r="3.3" fill="#00e2ff"/><circle cx="208.4" cy="212.2" r="3.3" fill="#0068ff"/><circle cx="197.8" cy="135.0" r="3.3" fill="#04fffb"/><circle cx="203.9" cy="159.0" r="3.3" fill="#0049ff"/><circle cx="209.2" cy="165.7" r="3.3" fill="#0084ff"/><circle cx="213.5" cy="210.6" r="3.3" fill="#00bbff"/><circle cx="198.3" cy="161.5" r="3.3" fill="#0003ff"/><circle cx="201.8" cy="150.6" r="3.3" fill="#00c6ff"/><circle cx="211.9" cy="169.3" r="3.3" fill="#00b7ff"/><circle cx="206.4" cy="190.0" r="3.3" fill="#00c0ff"/><circle cx="201.3" cy="212.2" r="3.3" fill="#008cff"/><circle cx="219.7" cy="233.1" r="3.3" fill="#23ffdc"/><circle cx="199.0" cy="163.5" r="3.3" fill="#0000f3"/><circle cx="214.2" cy="228.9" r="3.3" fill="#00bfff"/><circle cx="208.9" cy="223.9" r="3.3" fill="#00a1ff"/><circle cx="212.1" cy="190.1" r="3.3" fill="#00c4ff"/></g>
<clipPath id="clip0"><rect x="195.1" y="95.7" width="235.1" height="214.3"/></clipPath>
<g clip-path="url(#clip0)"><use href="#usmap" transform="translate(196.10 96.65) scale(1.00043 1.00094)"/></g>
<rect x="195.6" y="96.2" width="234.1" height="213.3" fill="none" stroke="#1a1a1a" stroke-width="1.15"/>
<rect x="441.0" y="95.2" width="24.0" height="215.3" fill="url(#jet)" stroke="#3a0a0a" stroke-opacity="0.55" stroke-width="0.8"/>
<text class="b" x="473.31" y="317.56" font-size="21.40" textLength="13.82" lengthAdjust="spacingAndGlyphs" stroke="#262626" stroke-width="0.60" stroke-linejoin="round">0</text>
<path d="M465.0 239.3h-2.4" stroke="#262626" stroke-width="0.8" stroke-opacity="0.8"/><text class="b" x="474.19" y="246.86" font-size="21.40" textLength="11.98" lengthAdjust="spacingAndGlyphs" stroke="#262626" stroke-width="0.60" stroke-linejoin="round">2</text>
<path d="M465.0 168.2h-2.4" stroke="#262626" stroke-width="0.8" stroke-opacity="0.8"/><text class="b" x="473.89" y="175.76" font-size="21.40" textLength="12.38" lengthAdjust="spacingAndGlyphs" stroke="#262626" stroke-width="0.60" stroke-linejoin="round">4</text>
<text class="b" x="473.72" y="104.56" font-size="21.40" textLength="13.12" lengthAdjust="spacingAndGlyphs" stroke="#262626" stroke-width="0.60" stroke-linejoin="round">6</text>
<text class="b" x="124.77" y="340.70" font-size="23.50" textLength="118.29" lengthAdjust="spacingAndGlyphs" stroke="#262626" stroke-width="0.60" stroke-linejoin="round">SAT+RAP</text><text class="b" x="253.40" y="340.70" font-size="23.50" textLength="47.37" lengthAdjust="spacingAndGlyphs" stroke="#262626" stroke-width="0.60" stroke-linejoin="round">850</text><text class="b" x="309.06" y="340.70" font-size="23.50" textLength="45.78" lengthAdjust="spacingAndGlyphs" stroke="#262626" stroke-width="0.60" stroke-linejoin="round">hPa</text><text class="b" x="365.09" y="340.70" font-size="23.50" textLength="39.84" lengthAdjust="spacingAndGlyphs" stroke="#262626" stroke-width="0.60" stroke-linejoin="round">MR</text><text class="b" x="415.62" y="340.70" font-size="23.50" textLength="75.46" lengthAdjust="spacingAndGlyphs" stroke="#262626" stroke-width="0.60" stroke-linejoin="round">(g/kg)</text>
<text class="b" x="215.37" y="76.60" font-size="12.00" textLength="24.53" lengthAdjust="spacingAndGlyphs" stroke="#262626" stroke-width="0.40" stroke-linejoin="round">100</text><text x="242.10" y="70.79" font-size="12.5" fill="#262626">°</text><text class="b" x="253.79" y="76.60" font-size="12.00" textLength="11.72" lengthAdjust="spacingAndGlyphs" stroke="#262626" stroke-width="0.40" stroke-linejoin="round">W</text>
<text class="b" x="284.49" y="76.60" font-size="12.00" textLength="16.42" lengthAdjust="spacingAndGlyphs" stroke="#262626" stroke-width="0.40" stroke-linejoin="round">90</text><text x="302.30" y="70.79" font-size="12.5" fill="#262626">°</text><text class="b" x="313.99" y="76.60" font-size="12.00" textLength="12.53" lengthAdjust="spacingAndGlyphs" stroke="#262626" stroke-width="0.40" stroke-linejoin="round">W</text>
<text class="b" x="348.52" y="76.60" font-size="12.00" textLength="16.69" lengthAdjust="spacingAndGlyphs" stroke="#262626" stroke-width="0.40" stroke-linejoin="round">80</text><text x="366.70" y="70.79" font-size="12.5" fill="#262626">°</text><text class="b" x="377.99" y="76.60" font-size="12.00" textLength="12.23" lengthAdjust="spacingAndGlyphs" stroke="#262626" stroke-width="0.40" stroke-linejoin="round">W</text>
<text class="b" x="411.56" y="76.60" font-size="12.00" textLength="16.66" lengthAdjust="spacingAndGlyphs" stroke="#262626" stroke-width="0.40" stroke-linejoin="round">70</text><text x="429.70" y="70.79" font-size="12.5" fill="#262626">°</text><text class="b" x="441.29" y="76.60" font-size="12.00" textLength="12.33" lengthAdjust="spacingAndGlyphs" stroke="#262626" stroke-width="0.40" stroke-linejoin="round">W</text>
<text class="b" x="146.26" y="314.45" font-size="12.00" textLength="17.26" lengthAdjust="spacingAndGlyphs" stroke="#262626" stroke-width="0.40" stroke-linejoin="round">22</text><text x="164.60" y="308.64" font-size="12.5" fill="#262626">°</text><text class="b" x="175.21" y="314.45" font-size="12.00" textLength="10.69" lengthAdjust="spacingAndGlyphs" stroke="#262626" stroke-width="0.40" stroke-linejoin="round">N</text>
<text class="b" x="146.28" y="301.45" font-size="12.00" textLength="16.70" lengthAdjust="spacingAndGlyphs" stroke="#262626" stroke-width="0.40" stroke-linejoin="round">24</text><text x="164.60" y="295.64" font-size="12.5" fill="#262626">°</text><text class="b" x="175.21" y="301.45" font-size="12.00" textLength="10.69" lengthAdjust="spacingAndGlyphs" stroke="#262626" stroke-width="0.40" stroke-linejoin="round">N</text>
<text class="b" x="146.26" y="287.45" font-size="12.00" textLength="17.19" lengthAdjust="spacingAndGlyphs" stroke="#262626" stroke-width="0.40" stroke-linejoin="round">26</text><text x="164.60" y="281.64" font-size="12.5" fill="#262626">°</text><text class="b" x="175.21" y="287.45" font-size="12.00" textLength="10.69" lengthAdjust="spacingAndGlyphs" stroke="#262626" stroke-width="0.40" stroke-linejoin="round">N</text>
<text class="b" x="146.27" y="272.55" font-size="12.00" textLength="17.11" lengthAdjust="spacingAndGlyphs" stroke="#262626" stroke-width="0.40" stroke-linejoin="round">28</text><text x="164.60" y="266.74" font-size="12.5" fill="#262626">°</text><text class="b" x="175.21" y="272.55" font-size="12.00" textLength="10.69" lengthAdjust="spacingAndGlyphs" stroke="#262626" stroke-width="0.40" stroke-linejoin="round">N</text>
<text class="b" x="146.45" y="259.25" font-size="12.00" textLength="17.08" lengthAdjust="spacingAndGlyphs" stroke="#262626" stroke-width="0.40" stroke-linejoin="round">30</text><text x="164.60" y="253.44" font-size="12.5" fill="#262626">°</text><text class="b" x="175.21" y="259.25" font-size="12.00" textLength="10.69" lengthAdjust="spacingAndGlyphs" stroke="#262626" stroke-width="0.40" stroke-linejoin="round">N</text>
<text class="b" x="146.45" y="245.65" font-size="12.00" textLength="17.07" lengthAdjust="spacingAndGlyphs" stroke="#262626" stroke-width="0.40" stroke-linejoin="round">32</text><text x="164.60" y="239.84" font-size="12.5" fill="#262626">°</text><text class="b" x="175.21" y="245.65" font-size="12.00" textLength="10.69" lengthAdjust="spacingAndGlyphs" stroke="#262626" stroke-width="0.40" stroke-linejoin="round">N</text>
<text class="b" x="146.46" y="228.85" font-size="12.00" textLength="16.52" lengthAdjust="spacingAndGlyphs" stroke="#262626" stroke-width="0.40" stroke-linejoin="round">34</text><text x="164.60" y="223.04" font-size="12.5" fill="#262626">°</text><text class="b" x="175.21" y="228.85" font-size="12.00" textLength="10.69" lengthAdjust="spacingAndGlyphs" stroke="#262626" stroke-width="0.40" stroke-linejoin="round">N</text>
<text class="b" x="146.45" y="215.05" font-size="12.00" textLength="17.00" lengthAdjust="spacingAndGlyphs" stroke="#262626" stroke-width="0.40" stroke-linejoin="round">36</text><text x="164.60" y="209.24" font-size="12.5" fill="#262626">°</text><text class="b" x="175.21" y="215.05" font-size="12.00" textLength="10.69" lengthAdjust="spacingAndGlyphs" stroke="#262626" stroke-width="0.40" stroke-linejoin="round">N</text>
<text class="b" x="146.45" y="197.75" font-size="12.00" textLength="16.92" lengthAdjust="spacingAndGlyphs" stroke="#262626" stroke-width="0.40" stroke-linejoin="round">38</text><text x="164.60" y="191.94" font-size="12.5" fill="#262626">°</text><text class="b" x="175.21" y="197.75" font-size="12.00" textLength="10.69" lengthAdjust="spacingAndGlyphs" stroke="#262626" stroke-width="0.40" stroke-linejoin="round">N</text>
<text class="b" x="146.57" y="182.45" font-size="12.00" textLength="16.96" lengthAdjust="spacingAndGlyphs" stroke="#262626" stroke-width="0.40" stroke-linejoin="round">40</text><text x="164.60" y="176.64" font-size="12.5" fill="#262626">°</text><text class="b" x="175.21" y="182.45" font-size="12.00" textLength="10.69" lengthAdjust="spacingAndGlyphs" stroke="#262626" stroke-width="0.40" stroke-linejoin="round">N</text>
<text class="b" x="146.57" y="166.95" font-size="12.00" textLength="16.94" lengthAdjust="spacingAndGlyphs" stroke="#262626" stroke-width="0.40" stroke-linejoin="round">42</text><text x="164.60" y="161.14" font-size="12.5" fill="#262626">°</text><text class="b" x="175.21" y="166.95" font-size="12.00" textLength="10.69" lengthAdjust="spacingAndGlyphs" stroke="#262626" stroke-width="0.40" stroke-linejoin="round">N</text>
<text class="b" x="146.58" y="147.75" font-size="12.00" textLength="16.40" lengthAdjust="spacingAndGlyphs" stroke="#262626" stroke-width="0.40" stroke-linejoin="round">44</text><text x="164.60" y="141.94" font-size="12.5" fill="#262626">°</text><text class="b" x="175.21" y="147.75" font-size="12.00" textLength="10.69" lengthAdjust="spacingAndGlyphs" stroke="#262626" stroke-width="0.40" stroke-linejoin="round">N</text>
<text class="b" x="146.57" y="130.55" font-size="12.00" textLength="16.88" lengthAdjust="spacingAndGlyphs" stroke="#262626" stroke-width="0.40" stroke-linejoin="round">46</text><text x="164.60" y="124.74" font-size="12.5" fill="#262626">°</text><text class="b" x="175.21" y="130.55" font-size="12.00" textLength="10.69" lengthAdjust="spacingAndGlyphs" stroke="#262626" stroke-width="0.40" stroke-linejoin="round">N</text>
<text class="b" x="146.57" y="112.55" font-size="12.00" textLength="16.79" lengthAdjust="spacingAndGlyphs" stroke="#262626" stroke-width="0.40" stroke-linejoin="round">48</text><text x="164.60" y="106.74" font-size="12.5" fill="#262626">°</text><text class="b" x="175.21" y="112.55" font-size="12.00" textLength="10.69" lengthAdjust="spacingAndGlyphs" stroke="#262626" stroke-width="0.40" stroke-linejoin="round">N</text>
</g>
<g id="panel2">
<g filter="url(#soft)"><circle cx="616.8" cy="124.2" r="3.3" fill="#00e4ff"/><circle cx="616.6" cy="129.2" r="3.3" fill="#00e0ff"/><circle cx="617.1" cy="134.2" r="3.3" fill="#00e2ff"/><circle cx="616.4" cy="158.3" r="3.3" fill="#00a7ff"/><circle cx="616.8" cy="164.3" r="3.3" fill="#00a1ff"/><circle cx="616.2" cy="170.3" r="3.3" fill="#005cff"/><circle cx="616.0" cy="194.3" r="3.3" fill="#006dff"/><circle cx="616.3" cy="200.3" r="3.3" fill="#002eff"/><circle cx="616.8" cy="206.3" r="3.3" fill="#00edff"/><circle cx="616.9" cy="212.3" r="3.3" fill="#10ffef"/><circle cx="616.0" cy="228.3" r="3.3" fill="#0038ff"/><circle cx="616.3" cy="233.3" r="3.3" fill="#0000df"/><circle cx="621.1" cy="96.8" r="3.3" fill="#13ffec"/><circle cx="623.6" cy="97.2" r="3.3" fill="#02fffd"/><circle cx="636.3" cy="179.4" r="3.3" fill="#006bff"/><circle cx="632.7" cy="225.8" r="3.3" fill="#0003ff"/><circle cx="622.9" cy="233.0" r="3.3" fill="#0000f5"/><circle cx="629.4" cy="148.4" r="3.3" fill="#00acff"/><circle cx="629.2" cy="117.2" r="3.3" fill="#00fdff"/><circle cx="637.5" cy="226.0" r="3.3" fill="#002cff"/><circle cx="629.9" cy="127.3" r="3.3" fill="#00eaff"/><circle cx="619.9" cy="163.1" r="3.3" fill="#0097ff"/><circle cx="619.4" cy="103.1" r="3.3" fill="#18ffe7"/><circle cx="624.1" cy="101.4" r="3.3" fill="#14ffeb"/><circle cx="628.0" cy="154.9" r="3.3" fill="#00bdff"/><circle cx="621.5" cy="199.4" r="3.3" fill="#00d6ff"/><circle cx="626.8" cy="205.3" r="3.3" fill="#008eff"/><circle cx="624.2" cy="225.4" r="3.3" fill="#0098ff"/><circle cx="620.0" cy="205.3" r="3.3" fill="#00c7ff"/><circle cx="624.2" cy="159.0" r="3.3" fill="#00b8ff"/><circle cx="627.0" cy="162.9" r="3.3" fill="#00adff"/><circle cx="624.3" cy="165.4" r="3.3" fill="#0075ff"/><circle cx="622.1" cy="202.6" r="3.3" fill="#00a3ff"/><circle cx="631.9" cy="160.9" r="3.3" fill="#0096ff"/><circle cx="627.7" cy="131.9" r="3.3" fill="#09fff6"/><circle cx="639.8" cy="225.2" r="3.3" fill="#0037ff"/><circle cx="638.5" cy="202.8" r="3.3" fill="#0057ff"/><circle cx="628.1" cy="110.7" r="3.3" fill="#8aff75"/><circle cx="625.4" cy="116.5" r="3.3" fill="#28ffd7"/><circle cx="621.5" cy="133.0" r="3.3" fill="#00deff"/><circle cx="640.1" cy="228.0" r="3.3" fill="#001bff"/><circle cx="632.8" cy="178.9" r="3.3" fill="#0055ff"/><circle cx="620.1" cy="225.3" r="3.3" fill="#00beff"/><circle cx="637.2" cy="221.4" r="3.3" fill="#32ffcd"/><circle cx="622.0" cy="106.5" r="3.3" fill="#00fdff"/><circle cx="635.9" cy="176.4" r="3.3" fill="#0054ff"/><circle cx="631.9" cy="153.3" r="3.3" fill="#009bff"/><circle cx="628.1" cy="230.5" r="3.3" fill="#0000f8"/><circle cx="634.9" cy="192.2" r="3.3" fill="#004dff"/><circle cx="627.1" cy="170.7" r="3.3" fill="#0061ff"/><circle cx="635.5" cy="181.7" r="3.3" fill="#0032ff"/><circle cx="628.2" cy="198.0" r="3.3" fill="#0082ff"/><circle cx="634.6" cy="223.0" r="3.3" fill="#00ffff"/><circle cx="633.1" cy="189.0" r="3.3" fill="#005fff"/><circle cx="632.2" cy="163.5" r="3.3" fill="#0096ff"/><circle cx="619.3" cy="147.9" r="3.3" fill="#00deff"/><circle cx="637.0" cy="192.6" r="3.3" fill="#0043ff"/><circle cx="629.5" cy="158.6" r="3.3" fill="#009bff"/><circle cx="619.2" cy="121.4" r="3.3" fill="#09fff6"/><circle cx="630.7" cy="226.5" r="3.3" fill="#0020ff"/><circle cx="622.6" cy="184.5" r="3.3" fill="#0066ff"/><circle cx="632.6" cy="234.0" r="3.3" fill="#0000ff"/><circle cx="629.7" cy="125.1" r="3.3" fill="#0bfff4"/><circle cx="628.1" cy="200.5" r="3.3" fill="#0055ff"/><circle cx="627.9" cy="166.7" r="3.3" fill="#00b2ff"/><circle cx="625.1" cy="200.3" r="3.3" fill="#003aff"/><circle cx="635.2" cy="220.9" r="3.3" fill="#00caff"/><circle cx="627.5" cy="106.0" r="3.3" fill="#15ffea"/><circle cx="627.5" cy="124.5" r="3.3" fill="#00d0ff"/><circle cx="628.2" cy="145.4" r="3.3" fill="#00acff"/><circle cx="635.8" cy="233.9" r="3.3" fill="#0000d3"/><circle cx="629.3" cy="194.2" r="3.3" fill="#005dff"/><circle cx="629.5" cy="171.1" r="3.3" fill="#0066ff"/><circle cx="635.7" cy="187.0" r="3.3" fill="#0028ff"/><circle cx="630.3" cy="155.0" r="3.3" fill="#00d2ff"/><circle cx="638.3" cy="197.7" r="3.3" fill="#0029ff"/><circle cx="620.3" cy="168.0" r="3.3" fill="#00a0ff"/><circle cx="619.1" cy="142.7" r="3.3" fill="#00acff"/><circle cx="630.3" cy="140.7" r="3.3" fill="#00ddff"/><circle cx="633.4" cy="216.3" r="3.3" fill="#0048ff"/><circle cx="630.0" cy="129.6" r="3.3" fill="#00d7ff"/><circle cx="630.8" cy="234.3" r="3.3" fill="#0000f2"/><circle cx="632.0" cy="176.4" r="3.3" fill="#005aff"/><circle cx="632.0" cy="159.0" r="3.3" fill="#00a5ff"/><circle cx="632.6" cy="230.8" r="3.3" fill="#0009ff"/><circle cx="622.5" cy="129.7" r="3.3" fill="#0bfff4"/><circle cx="627.6" cy="134.3" r="3.3" fill="#00e7ff"/><circle cx="638.4" cy="205.7" r="3.3" fill="#008dff"/><circle cx="624.9" cy="194.3" r="3.3" fill="#0068ff"/><circle cx="624.1" cy="126.5" r="3.3" fill="#00e7ff"/><circle cx="633.2" cy="208.5" r="3.3" fill="#003cff"/><circle cx="619.5" cy="124.5" r="3.3" fill="#00f2ff"/><circle cx="627.1" cy="119.7" r="3.3" fill="#11ffee"/><circle cx="625.2" cy="132.1" r="3.3" fill="#00e8ff"/><circle cx="636.0" cy="168.8" r="3.3" fill="#006eff"/><circle cx="624.0" cy="106.2" r="3.3" fill="#00e9ff"/><circle cx="620.0" cy="153.5" r="3.3" fill="#00baff"/><circle cx="635.6" cy="207.9" r="3.3" fill="#003bff"/><circle cx="622.7" cy="124.0" r="3.3" fill="#10ffef"/><circle cx="622.5" cy="143.3" r="3.3" fill="#00e9ff"/><circle cx="624.5" cy="189.1" r="3.3" fill="#006dff"/><circle cx="627.9" cy="208.3" r="3.3" fill="#001fff"/><circle cx="619.9" cy="188.7" r="3.3" fill="#0059ff"/><circle cx="639.6" cy="220.8" r="3.3" fill="#0054ff"/><circle cx="624.4" cy="148.2" r="3.3" fill="#00a0ff"/><circle cx="638.8" cy="204.7" r="3.3" fill="#005fff"/><circle cx="627.7" cy="222.9" r="3.3" fill="#006fff"/><circle cx="624.6" cy="118.5" r="3.3" fill="#00efff"/><circle cx="625.3" cy="113.4" r="3.3" fill="#7dff82"/><circle cx="620.1" cy="209.6" r="3.3" fill="#00b8ff"/><circle cx="622.7" cy="186.8" r="3.3" fill="#002bff"/><circle cx="624.2" cy="104.1" r="3.3" fill="#12ffed"/><circle cx="630.0" cy="213.0" r="3.3" fill="#0077ff"/><circle cx="627.1" cy="184.2" r="3.3" fill="#0054ff"/><circle cx="638.7" cy="207.0" r="3.3" fill="#0085ff"/><circle cx="634.7" cy="230.3" r="3.3" fill="#0024ff"/><circle cx="621.7" cy="192.8" r="3.3" fill="#0035ff"/><circle cx="625.3" cy="181.2" r="3.3" fill="#002fff"/><circle cx="627.8" cy="136.9" r="3.3" fill="#00c8ff"/><circle cx="630.6" cy="137.0" r="3.3" fill="#00cfff"/><circle cx="622.7" cy="156.4" r="3.3" fill="#00a8ff"/><circle cx="630.8" cy="139.3" r="3.3" fill="#00d3ff"/><circle cx="638.2" cy="214.8" r="3.3" fill="#0034ff"/><circle cx="627.6" cy="106.5" r="3.3" fill="#00efff"/><circle cx="625.5" cy="207.9" r="3.3" fill="#00a9ff"/><circle cx="632.9" cy="155.4" r="3.3" fill="#00b4ff"/><circle cx="629.6" cy="202.6" r="3.3" fill="#0061ff"/><circle cx="619.8" cy="229.1" r="3.3" fill="#0048ff"/><circle cx="622.9" cy="114.6" r="3.3" fill="#7cff83"/><circle cx="628.9" cy="119.9" r="3.3" fill="#0afff5"/><circle cx="636.9" cy="190.0" r="3.3" fill="#004bff"/><circle cx="621.5" cy="100.5" r="3.3" fill="#00f2ff"/><circle cx="627.5" cy="189.9" r="3.3" fill="#005eff"/><circle cx="637.1" cy="191.8" r="3.3" fill="#0007ff"/><circle cx="635.2" cy="184.8" r="3.3" fill="#007bff"/><circle cx="629.4" cy="153.2" r="3.3" fill="#00daff"/><circle cx="622.1" cy="103.3" r="3.3" fill="#16ffe9"/><circle cx="629.9" cy="189.5" r="3.3" fill="#006eff"/><circle cx="627.9" cy="103.4" r="3.3" fill="#00e2ff"/><circle cx="638.8" cy="210.5" r="3.3" fill="#0034ff"/><circle cx="630.3" cy="218.2" r="3.3" fill="#0061ff"/><circle cx="621.7" cy="189.4" r="3.3" fill="#0045ff"/><circle cx="621.7" cy="153.5" r="3.3" fill="#00afff"/><circle cx="628.0" cy="116.0" r="3.3" fill="#1effe1"/><circle cx="629.3" cy="230.5" r="3.3" fill="#001aff"/><circle cx="621.9" cy="224.0" r="3.3" fill="#00c3ff"/><circle cx="639.8" cy="225.7" r="3.3" fill="#0016ff"/><circle cx="621.6" cy="144.5" r="3.3" fill="#00bdff"/><circle cx="619.2" cy="137.7" r="3.3" fill="#00bfff"/><circle cx="618.9" cy="113.8" r="3.3" fill="#72ff8d"/><circle cx="626.7" cy="181.5" r="3.3" fill="#003fff"/><circle cx="627.4" cy="234.3" r="3.3" fill="#0000f3"/><circle cx="630.4" cy="135.4" r="3.3" fill="#00d1ff"/><circle cx="624.7" cy="134.5" r="3.3" fill="#00fdff"/><circle cx="625.4" cy="191.4" r="3.3" fill="#0023ff"/><circle cx="640.6" cy="231.9" r="3.3" fill="#0000ef"/><circle cx="632.0" cy="163.9" r="3.3" fill="#0088ff"/><circle cx="624.2" cy="210.2" r="3.3" fill="#009dff"/><circle cx="635.0" cy="228.6" r="3.3" fill="#0027ff"/><circle cx="624.7" cy="202.8" r="3.3" fill="#00dbff"/><circle cx="632.8" cy="166.5" r="3.3" fill="#0073ff"/><circle cx="622.9" cy="99.1" r="3.3" fill="#00f3ff"/><circle cx="633.1" cy="158.6" r="3.3" fill="#00b4ff"/><circle cx="625.3" cy="137.2" r="3.3" fill="#00dfff"/><circle cx="627.8" cy="168.7" r="3.3" fill="#0069ff"/><circle cx="620.3" cy="178.6" r="3.3" fill="#0087ff"/><circle cx="627.1" cy="228.3" r="3.3" fill="#0008ff"/><circle cx="629.7" cy="143.3" r="3.3" fill="#00ecff"/><circle cx="633.1" cy="218.4" r="3.3" fill="#007aff"/><circle cx="632.3" cy="174.3" r="3.3" fill="#0066ff"/><circle cx="639.1" cy="212.4" r="3.3" fill="#0057ff"/><circle cx="632.9" cy="197.5" r="3.3" fill="#001eff"/><circle cx="620.0" cy="161.2" r="3.3" fill="#00a8ff"/><circle cx="627.8" cy="174.5" r="3.3" fill="#007dff"/><circle cx="620.4" cy="135.5" r="3.3" fill="#00f6ff"/><circle cx="630.3" cy="135.1" r="3.3" fill="#00fdff"/><circle cx="619.7" cy="97.9" r="3.3" fill="#00fcff"/><circle cx="621.9" cy="194.6" r="3.3" fill="#0067ff"/><circle cx="640.2" cy="224.1" r="3.3" fill="#0088ff"/><circle cx="620.3" cy="150.2" r="3.3" fill="#00c4ff"/><circle cx="638.2" cy="203.2" r="3.3" fill="#003cff"/><circle cx="638.5" cy="210.0" r="3.3" fill="#002bff"/><circle cx="638.0" cy="200.5" r="3.3" fill="#0018ff"/><circle cx="619.9" cy="155.4" r="3.3" fill="#00c6ff"/><circle cx="624.4" cy="219.9" r="3.3" fill="#0098ff"/><circle cx="624.0" cy="168.3" r="3.3" fill="#005aff"/><circle cx="624.5" cy="205.1" r="3.3" fill="#00e6ff"/><circle cx="630.5" cy="132.2" r="3.3" fill="#00d1ff"/><circle cx="629.2" cy="191.6" r="3.3" fill="#0031ff"/><circle cx="635.6" cy="226.7" r="3.3" fill="#003fff"/><circle cx="640.2" cy="228.4" r="3.3" fill="#0036ff"/><circle cx="630.4" cy="129.2" r="3.3" fill="#0bfff4"/><circle cx="619.4" cy="195.0" r="3.3" fill="#007cff"/><circle cx="624.4" cy="215.4" r="3.3" fill="#00aaff"/><circle cx="622.6" cy="229.3" r="3.3" fill="#0033ff"/><circle cx="626.7" cy="153.7" r="3.3" fill="#00b5ff"/><circle cx="622.8" cy="182.2" r="3.3" fill="#0020ff"/><circle cx="639.4" cy="217.5" r="3.3" fill="#007fff"/><circle cx="620.2" cy="223.5" r="3.3" fill="#03fffc"/><circle cx="619.3" cy="231.1" r="3.3" fill="#000cff"/><circle cx="620.2" cy="126.9" r="3.3" fill="#05fffa"/><circle cx="635.1" cy="210.5" r="3.3" fill="#0051ff"/><circle cx="635.7" cy="170.6" r="3.3" fill="#0071ff"/><circle cx="635.5" cy="171.5" r="3.3" fill="#005cff"/><circle cx="627.7" cy="111.7" r="3.3" fill="#8bff74"/><circle cx="640.1" cy="220.8" r="3.3" fill="#0054ff"/><circle cx="624.2" cy="171.3" r="3.3" fill="#003dff"/><circle cx="627.9" cy="226.0" r="3.3" fill="#0029ff"/><circle cx="632.2" cy="154.9" r="3.3" fill="#00c1ff"/><circle cx="636.2" cy="182.2" r="3.3" fill="#0047ff"/><circle cx="629.5" cy="150.4" r="3.3" fill="#00ccff"/><circle cx="621.6" cy="178.9" r="3.3" fill="#0080ff"/><circle cx="620.1" cy="198.0" r="3.3" fill="#00cbff"/><circle cx="624.3" cy="108.1" r="3.3" fill="#00efff"/><circle cx="630.2" cy="205.3" r="3.3" fill="#006aff"/><circle cx="622.5" cy="217.7" r="3.3" fill="#06fff9"/><circle cx="632.6" cy="186.5" r="3.3" fill="#002dff"/><circle cx="627.0" cy="220.3" r="3.3" fill="#0000fd"/><circle cx="624.5" cy="186.5" r="3.3" fill="#0035ff"/><circle cx="626.9" cy="98.0" r="3.3" fill="#13ffec"/><circle cx="619.6" cy="144.7" r="3.3" fill="#00bcff"/><circle cx="621.7" cy="220.7" r="3.3" fill="#0077ff"/><circle cx="632.6" cy="166.8" r="3.3" fill="#009bff"/><circle cx="622.2" cy="112.0" r="3.3" fill="#a3ff5c"/><circle cx="621.6" cy="173.4" r="3.3" fill="#004aff"/><circle cx="621.5" cy="126.6" r="3.3" fill="#00f3ff"/><circle cx="622.6" cy="168.8" r="3.3" fill="#0085ff"/><circle cx="628.0" cy="202.8" r="3.3" fill="#0024ff"/><circle cx="625.4" cy="197.0" r="3.3" fill="#00c3ff"/><circle cx="635.7" cy="215.1" r="3.3" fill="#0044ff"/><circle cx="627.8" cy="140.2" r="3.3" fill="#00daff"/><circle cx="629.5" cy="187.6" r="3.3" fill="#0050ff"/><circle cx="619.5" cy="213.3" r="3.3" fill="#00c5ff"/><circle cx="637.1" cy="217.5" r="3.3" fill="#0064ff"/><circle cx="630.1" cy="229.3" r="3.3" fill="#001eff"/><circle cx="630.4" cy="210.0" r="3.3" fill="#0035ff"/><circle cx="633.2" cy="182.3" r="3.3" fill="#0012ff"/><circle cx="630.1" cy="168.3" r="3.3" fill="#005bff"/><circle cx="621.9" cy="160.7" r="3.3" fill="#00bcff"/><circle cx="624.8" cy="98.7" r="3.3" fill="#00eeff"/><circle cx="635.6" cy="168.0" r="3.3" fill="#006eff"/><circle cx="631.7" cy="148.3" r="3.3" fill="#00d3ff"/><circle cx="632.9" cy="192.1" r="3.3" fill="#0023ff"/><circle cx="627.5" cy="195.1" r="3.3" fill="#0065ff"/><circle cx="637.6" cy="208.3" r="3.3" fill="#0062ff"/><circle cx="621.5" cy="157.5" r="3.3" fill="#0088ff"/><circle cx="632.6" cy="223.8" r="3.3" fill="#0091ff"/><circle cx="629.4" cy="207.0" r="3.3" fill="#0063ff"/><circle cx="620.3" cy="157.5" r="3.3" fill="#00c1ff"/><circle cx="628.0" cy="178.3" r="3.3" fill="#0057ff"/><circle cx="629.5" cy="199.4" r="3.3" fill="#006cff"/><circle cx="627.3" cy="101.2" r="3.3" fill="#00e0ff"/><circle cx="619.3" cy="207.0" r="3.3" fill="#00d9ff"/><circle cx="635.9" cy="179.3" r="3.3" fill="#0079ff"/><circle cx="629.8" cy="126.9" r="3.3" fill="#00fbff"/><circle cx="618.8" cy="108.9" r="3.3" fill="#00f9ff"/><circle cx="621.6" cy="122.6" r="3.3" fill="#04fffb"/><circle cx="638.3" cy="230.4" r="3.3" fill="#0000e8"/><circle cx="630.8" cy="223.9" r="3.3" fill="#006fff"/><circle cx="619.1" cy="140.5" r="3.3" fill="#00cdff"/><circle cx="621.9" cy="176.1" r="3.3" fill="#0094ff"/><circle cx="619.3" cy="176.6" r="3.3" fill="#0058ff"/><circle cx="627.4" cy="161.5" r="3.3" fill="#00a9ff"/><circle cx="638.1" cy="228.0" r="3.3" fill="#0028ff"/><circle cx="622.9" cy="226.1" r="3.3" fill="#008dff"/><circle cx="619.8" cy="111.4" r="3.3" fill="#72ff8d"/><circle cx="625.1" cy="179.7" r="3.3" fill="#007cff"/><circle cx="630.6" cy="166.4" r="3.3" fill="#00a1ff"/><circle cx="623.0" cy="147.5" r="3.3" fill="#00b2ff"/><circle cx="625.0" cy="156.4" r="3.3" fill="#008bff"/><circle cx="629.6" cy="174.5" r="3.3" fill="#0085ff"/><circle cx="626.8" cy="126.8" r="3.3" fill="#00e2ff"/><circle cx="619.3" cy="118.5" r="3.3" fill="#00efff"/><circle cx="631.9" cy="220.7" r="3.3" fill="#0015ff"/><circle cx="627.7" cy="114.5" r="3.3" fill="#58ffa7"/><circle cx="630.4" cy="181.2" r="3.3" fill="#0036ff"/><circle cx="624.4" cy="184.9" r="3.3" fill="#0059ff"/><circle cx="619.3" cy="131.5" r="3.3" fill="#00c8ff"/><circle cx="625.4" cy="121.5" r="3.3" fill="#09fff6"/><circle cx="619.4" cy="106.1" r="3.3" fill="#11ffee"/><circle cx="637.5" cy="212.8" r="3.3" fill="#0069ff"/><circle cx="622.7" cy="208.3" r="3.3" fill="#00d6ff"/><circle cx="629.9" cy="161.4" r="3.3" fill="#00bbff"/><circle cx="619.1" cy="182.3" r="3.3" fill="#003eff"/><circle cx="621.4" cy="204.8" r="3.3" fill="#00d9ff"/><circle cx="624.4" cy="124.7" r="3.3" fill="#00cfff"/><circle cx="619.0" cy="171.4" r="3.3" fill="#005fff"/><circle cx="627.0" cy="210.8" r="3.3" fill="#0080ff"/><circle cx="621.6" cy="108.1" r="3.3" fill="#08fff7"/><circle cx="625.5" cy="177.2" r="3.3" fill="#0016ff"/><circle cx="640.6" cy="233.1" r="3.3" fill="#0000ed"/><circle cx="621.6" cy="139.6" r="3.3" fill="#00b6ff"/><circle cx="626.8" cy="122.1" r="3.3" fill="#00f4ff"/><circle cx="629.4" cy="122.4" r="3.3" fill="#00d5ff"/><circle cx="624.3" cy="224.1" r="3.3" fill="#00b4ff"/><circle cx="625.2" cy="231.0" r="3.3" fill="#000bff"/><circle cx="631.0" cy="144.5" r="3.3" fill="#00d0ff"/><circle cx="619.2" cy="191.8" r="3.3" fill="#0005ff"/><circle cx="627.0" cy="187.4" r="3.3" fill="#003fff"/><circle cx="632.5" cy="201.9" r="3.3" fill="#003cff"/><circle cx="620.0" cy="202.5" r="3.3" fill="#00bfff"/><circle cx="629.5" cy="178.5" r="3.3" fill="#0043ff"/><circle cx="632.7" cy="212.3" r="3.3" fill="#0061ff"/><circle cx="622.4" cy="163.7" r="3.3" fill="#00a9ff"/><circle cx="630.3" cy="221.5" r="3.3" fill="#0029ff"/><circle cx="637.3" cy="194.7" r="3.3" fill="#0056ff"/><circle cx="629.5" cy="124.7" r="3.3" fill="#00cdff"/><circle cx="619.1" cy="101.8" r="3.3" fill="#19ffe6"/><circle cx="637.0" cy="186.3" r="3.3" fill="#001eff"/><circle cx="631.9" cy="184.5" r="3.3" fill="#006aff"/><circle cx="624.8" cy="142.2" r="3.3" fill="#00caff"/><circle cx="631.9" cy="199.7" r="3.3" fill="#0087ff"/><circle cx="621.5" cy="150.1" r="3.3" fill="#00b7ff"/><circle cx="624.2" cy="129.7" r="3.3" fill="#00d1ff"/><circle cx="632.1" cy="210.1" r="3.3" fill="#005aff"/><circle cx="627.9" cy="212.4" r="3.3" fill="#006bff"/><circle cx="630.3" cy="133.0" r="3.3" fill="#00dfff"/><circle cx="630.6" cy="121.0" r="3.3" fill="#00e3ff"/><circle cx="619.9" cy="129.4" r="3.3" fill="#00d5ff"/><circle cx="626.9" cy="177.1" r="3.3" fill="#0016ff"/><circle cx="622.7" cy="170.7" r="3.3" fill="#005dff"/><circle cx="635.3" cy="173.6" r="3.3" fill="#0047ff"/><circle cx="639.6" cy="215.8" r="3.3" fill="#001eff"/><circle cx="626.8" cy="109.1" r="3.3" fill="#09fff6"/><circle cx="630.3" cy="175.7" r="3.3" fill="#0063ff"/><circle cx="628.3" cy="108.6" r="3.3" fill="#09fff6"/><circle cx="627.1" cy="129.9" r="3.3" fill="#00caff"/><circle cx="624.9" cy="234.2" r="3.3" fill="#0000d5"/><circle cx="622.5" cy="138.2" r="3.3" fill="#00f2ff"/><circle cx="630.1" cy="215.5" r="3.3" fill="#000aff"/><circle cx="627.6" cy="143.3" r="3.3" fill="#00cbff"/><circle cx="631.8" cy="194.7" r="3.3" fill="#0090ff"/><circle cx="636.1" cy="174.2" r="3.3" fill="#0089ff"/><circle cx="640.4" cy="234.5" r="3.3" fill="#0000e2"/><circle cx="629.9" cy="162.8" r="3.3" fill="#0083ff"/><circle cx="619.0" cy="116.1" r="3.3" fill="#39ffc6"/><circle cx="622.5" cy="213.0" r="3.3" fill="#00e9ff"/><circle cx="635.1" cy="199.7" r="3.3" fill="#007cff"/><circle cx="640.2" cy="231.3" r="3.3" fill="#0000eb"/><circle cx="639.9" cy="223.7" r="3.3" fill="#0087ff"/><circle cx="622.5" cy="210.5" r="3.3" fill="#00e4ff"/><circle cx="625.3" cy="212.4" r="3.3" fill="#00f1ff"/><circle cx="629.5" cy="197.7" r="3.3" fill="#005dff"/><circle cx="627.2" cy="147.9" r="3.3" fill="#00ceff"/><circle cx="630.8" cy="145.1" r="3.3" fill="#00c7ff"/><circle cx="618.8" cy="173.6" r="3.3" fill="#0052ff"/><circle cx="622.9" cy="215.0" r="3.3" fill="#008fff"/><circle cx="627.2" cy="101.0" r="3.3" fill="#00f2ff"/><circle cx="631.8" cy="151.1" r="3.3" fill="#00a0ff"/><circle cx="624.2" cy="164.2" r="3.3" fill="#00aeff"/><circle cx="627.7" cy="103.9" r="3.3" fill="#04fffb"/><circle cx="632.5" cy="227.8" r="3.3" fill="#0034ff"/><circle cx="626.9" cy="149.9" r="3.3" fill="#00beff"/><circle cx="619.1" cy="184.3" r="3.3" fill="#0061ff"/><circle cx="633.1" cy="170.7" r="3.3" fill="#0058ff"/><circle cx="637.8" cy="224.0" r="3.3" fill="#2affd5"/><circle cx="620.3" cy="218.0" r="3.3" fill="#00f5ff"/><circle cx="622.6" cy="231.3" r="3.3" fill="#0000fa"/><circle cx="627.1" cy="98.7" r="3.3" fill="#00f5ff"/><circle cx="622.3" cy="119.5" r="3.3" fill="#00feff"/><circle cx="636.0" cy="188.7" r="3.3" fill="#0081ff"/><circle cx="622.7" cy="117.0" r="3.3" fill="#00fdff"/><circle cx="624.4" cy="229.1" r="3.3" fill="#004aff"/><circle cx="620.2" cy="233.6" r="3.3" fill="#0000f4"/><circle cx="624.5" cy="112.0" r="3.3" fill="#c0ff3f"/><circle cx="636.5" cy="184.4" r="3.3" fill="#008eff"/><circle cx="631.3" cy="142.8" r="3.3" fill="#00c9ff"/><circle cx="637.3" cy="195.1" r="3.3" fill="#003dff"/><circle cx="634.6" cy="202.4" r="3.3" fill="#006fff"/><circle cx="637.1" cy="233.3" r="3.3" fill="#0000e0"/><circle cx="635.1" cy="212.6" r="3.3" fill="#005dff"/><circle cx="620.0" cy="199.2" r="3.3" fill="#00a7ff"/><circle cx="627.9" cy="158.9" r="3.3" fill="#009fff"/><circle cx="638.3" cy="200.1" r="3.3" fill="#0035ff"/><circle cx="622.1" cy="197.9" r="3.3" fill="#8bff74"/><circle cx="625.5" cy="217.6" r="3.3" fill="#09fff6"/><circle cx="625.2" cy="160.9" r="3.3" fill="#00b9ff"/><circle cx="625.4" cy="173.3" r="3.3" fill="#0043ff"/><circle cx="632.4" cy="160.1" r="3.3" fill="#00a2ff"/><circle cx="619.7" cy="221.1" r="3.3" fill="#008fff"/><circle cx="630.3" cy="137.3" r="3.3" fill="#00f7ff"/><circle cx="634.6" cy="205.6" r="3.3" fill="#0090ff"/><circle cx="622.7" cy="166.6" r="3.3" fill="#00a8ff"/><circle cx="632.7" cy="169.3" r="3.3" fill="#006aff"/><circle cx="635.8" cy="177.1" r="3.3" fill="#0009ff"/><circle cx="627.5" cy="191.5" r="3.3" fill="#001fff"/><circle cx="634.6" cy="194.7" r="3.3" fill="#007eff"/><circle cx="621.5" cy="134.7" r="3.3" fill="#00feff"/><circle cx="626.6" cy="217.8" r="3.3" fill="#006aff"/><circle cx="619.9" cy="216.2" r="3.3" fill="#00cbff"/><circle cx="635.5" cy="196.9" r="3.3" fill="#0035ff"/><circle cx="627.6" cy="215.8" r="3.3" fill="#003aff"/><circle cx="625.4" cy="150.4" r="3.3" fill="#00ddff"/><circle cx="629.9" cy="184.6" r="3.3" fill="#0063ff"/><circle cx="628.8" cy="114.5" r="3.3" fill="#56ffa9"/><circle cx="624.3" cy="139.5" r="3.3" fill="#00f4ff"/><circle cx="624.4" cy="153.1" r="3.3" fill="#00b1ff"/><circle cx="635.7" cy="218.8" r="3.3" fill="#009aff"/><circle cx="620.3" cy="186.2" r="3.3" fill="#0010ff"/><circle cx="620.2" cy="166.0" r="3.3" fill="#009aff"/><circle cx="625.0" cy="145.6" r="3.3" fill="#00d3ff"/><circle cx="632.6" cy="205.2" r="3.3" fill="#0082ff"/><circle cx="637.4" cy="198.0" r="3.3" fill="#004bff"/></g>
<clipPath id="clip1"><rect x="616.1" y="95.7" width="235.1" height="214.3"/></clipPath>
<g clip-path="url(#clip1)"><use href="#usmap" transform="translate(617.10 96.65) scale(1.00043 1.00094)"/></g>
<rect x="616.6" y="96.2" width="234.1" height="213.3" fill="none" stroke="#1a1a1a" stroke-width="1.15"/>
<rect x="862.0" y="93.3" width="24.0" height="219.4" fill="url(#jet)" stroke="#3a0a0a" stroke-opacity="0.55" stroke-width="0.8"/>
<text class="b" x="894.31" y="319.36" font-size="21.40" textLength="13.82" lengthAdjust="spacingAndGlyphs" stroke="#262626" stroke-width="0.60" stroke-linejoin="round">0</text>
<path d="M886.0 257.9h-2.4" stroke="#262626" stroke-width="0.8" stroke-opacity="0.8"/><text class="b" x="895.28" y="265.41" font-size="21.40" textLength="12.00" lengthAdjust="spacingAndGlyphs" stroke="#262626" stroke-width="0.60" stroke-linejoin="round">1</text>
<path d="M886.0 203.9h-2.4" stroke="#262626" stroke-width="0.8" stroke-opacity="0.8"/><text class="b" x="895.19" y="211.46" font-size="21.40" textLength="11.98" lengthAdjust="spacingAndGlyphs" stroke="#262626" stroke-width="0.60" stroke-linejoin="round">2</text>
<path d="M886.0 150.0h-2.4" stroke="#262626" stroke-width="0.8" stroke-opacity="0.8"/><text class="b" x="895.19" y="157.51" font-size="21.40" textLength="12.05" lengthAdjust="spacingAndGlyphs" stroke="#262626" stroke-width="0.60" stroke-linejoin="round">3</text>
<path d="M886.0 96.0h-2.4" stroke="#262626" stroke-width="0.8" stroke-opacity="0.8"/><text class="b" x="894.89" y="103.56" font-size="21.40" textLength="12.38" lengthAdjust="spacingAndGlyphs" stroke="#262626" stroke-width="0.60" stroke-linejoin="round">4</text>
<text class="b" x="545.77" y="340.70" font-size="23.50" textLength="118.29" lengthAdjust="spacingAndGlyphs" stroke="#262626" stroke-width="0.60" stroke-linejoin="round">SAT+RAP</text><text class="b" x="674.07" y="340.70" font-size="23.50" textLength="47.70" lengthAdjust="spacingAndGlyphs" stroke="#262626" stroke-width="0.60" stroke-linejoin="round">700</text><text class="b" x="730.06" y="340.70" font-size="23.50" textLength="45.78" lengthAdjust="spacingAndGlyphs" stroke="#262626" stroke-width="0.60" stroke-linejoin="round">hPa</text><text class="b" x="786.09" y="340.70" font-size="23.50" textLength="39.84" lengthAdjust="spacingAndGlyphs" stroke="#262626" stroke-width="0.60" stroke-linejoin="round">MR</text><text class="b" x="836.62" y="340.70" font-size="23.50" textLength="75.46" lengthAdjust="spacingAndGlyphs" stroke="#262626" stroke-width="0.60" stroke-linejoin="round">(g/kg)</text>
<text class="b" x="636.37" y="76.60" font-size="12.00" textLength="24.53" lengthAdjust="spacingAndGlyphs" stroke="#262626" stroke-width="0.40" stroke-linejoin="round">100</text><text x="663.10" y="70.79" font-size="12.5" fill="#262626">°</text><text class="b" x="674.79" y="76.60" font-size="12.00" textLength="11.72" lengthAdjust="spacingAndGlyphs" stroke="#262626" stroke-width="0.40" stroke-linejoin="round">W</text>
<text class="b" x="705.49" y="76.60" font-size="12.00" textLength="16.42" lengthAdjust="spacingAndGlyphs" stroke="#262626" stroke-width="0.40" stroke-linejoin="round">90</text><text x="723.30" y="70.79" font-size="12.5" fill="#262626">°</text><text class="b" x="734.99" y="76.60" font-size="12.00" textLength="12.53" lengthAdjust="spacingAndGlyphs" stroke="#262626" stroke-width="0.40" stroke-linejoin="round">W</text>
<text class="b" x="769.52" y="76.60" font-size="12.00" textLength="16.69" lengthAdjust="spacingAndGlyphs" stroke="#262626" stroke-width="0.40" stroke-linejoin="round">80</text><text x="787.70" y="70.79" font-size="12.5" fill="#262626">°</text><text class="b" x="798.99" y="76.60" font-size="12.00" textLength="12.23" lengthAdjust="spacingAndGlyphs" stroke="#262626" stroke-width="0.40" stroke-linejoin="round">W</text>
<text class="b" x="832.56" y="76.60" font-size="12.00" textLength="16.66" lengthAdjust="spacingAndGlyphs" stroke="#262626" stroke-width="0.40" stroke-linejoin="round">70</text><text x="850.70" y="70.79" font-size="12.5" fill="#262626">°</text><text class="b" x="862.29" y="76.60" font-size="12.00" textLength="12.33" lengthAdjust="spacingAndGlyphs" stroke="#262626" stroke-width="0.40" stroke-linejoin="round">W</text>
<text class="b" x="567.26" y="314.45" font-size="12.00" textLength="17.26" lengthAdjust="spacingAndGlyphs" stroke="#262626" stroke-width="0.40" stroke-linejoin="round">22</text><text x="585.60" y="308.64" font-size="12.5" fill="#262626">°</text><text class="b" x="596.21" y="314.45" font-size="12.00" textLength="10.69" lengthAdjust="spacingAndGlyphs" stroke="#262626" stroke-width="0.40" stroke-linejoin="round">N</text>
<text class="b" x="567.28" y="301.45" font-size="12.00" textLength="16.70" lengthAdjust="spacingAndGlyphs" stroke="#262626" stroke-width="0.40" stroke-linejoin="round">24</text><text x="585.60" y="295.64" font-size="12.5" fill="#262626">°</text><text class="b" x="596.21" y="301.45" font-size="12.00" textLength="10.69" lengthAdjust="spacingAndGlyphs" stroke="#262626" stroke-width="0.40" stroke-linejoin="round">N</text>
<text class="b" x="567.26" y="287.45" font-size="12.00" textLength="17.19" lengthAdjust="spacingAndGlyphs" stroke="#262626" stroke-width="0.40" stroke-linejoin="round">26</text><text x="585.60" y="281.64" font-size="12.5" fill="#262626">°</text><text class="b" x="596.21" y="287.45" font-size="12.00" textLength="10.69" lengthAdjust="spacingAndGlyphs" stroke="#262626" stroke-width="0.40" stroke-linejoin="round">N</text>
<text class="b" x="567.27" y="272.55" font-size="12.00" textLength="17.11" lengthAdjust="spacingAndGlyphs" stroke="#262626" stroke-width="0.40" stroke-linejoin="round">28</text><text x="585.60" y="266.74" font-size="12.5" fill="#262626">°</text><text class="b" x="596.21" y="272.55" font-size="12.00" textLength="10.69" lengthAdjust="spacingAndGlyphs" stroke="#262626" stroke-width="0.40" stroke-linejoin="round">N</text>
<text class="b" x="567.45" y="259.25" font-size="12.00" textLength="17.08" lengthAdjust="spacingAndGlyphs" stroke="#262626" stroke-width="0.40" stroke-linejoin="round">30</text><text x="585.60" y="253.44" font-size="12.5" fill="#262626">°</text><text class="b" x="596.21" y="259.25" font-size="12.00" textLength="10.69" lengthAdjust="spacingAndGlyphs" stroke="#262626" stroke-width="0.40" stroke-linejoin="round">N</text>
<text class="b" x="567.45" y="245.65" font-size="12.00" textLength="17.07" lengthAdjust="spacingAndGlyphs" stroke="#262626" stroke-width="0.40" stroke-linejoin="round">32</text><text x="585.60" y="239.84" font-size="12.5" fill="#262626">°</text><text class="b" x="596.21" y="245.65" font-size="12.00" textLength="10.69" lengthAdjust="spacingAndGlyphs" stroke="#262626" stroke-width="0.40" stroke-linejoin="round">N</text>
<text class="b" x="567.46" y="228.85" font-size="12.00" textLength="16.52" lengthAdjust="spacingAndGlyphs" stroke="#262626" stroke-width="0.40" stroke-linejoin="round">34</text><text x="585.60" y="223.04" font-size="12.5" fill="#262626">°</text><text class="b" x="596.21" y="228.85" font-size="12.00" textLength="10.69" lengthAdjust="spacingAndGlyphs" stroke="#262626" stroke-width="0.40" stroke-linejoin="round">N</text>
<text class="b" x="567.45" y="215.05" font-size="12.00" textLength="17.00" lengthAdjust="spacingAndGlyphs" stroke="#262626" stroke-width="0.40" stroke-linejoin="round">36</text><text x="585.60" y="209.24" font-size="12.5" fill="#262626">°</text><text class="b" x="596.21" y="215.05" font-size="12.00" textLength="10.69" lengthAdjust="spacingAndGlyphs" stroke="#262626" stroke-width="0.40" stroke-linejoin="round">N</text>
<text class="b" x="567.45" y="197.75" font-size="12.00" textLength="16.92" lengthAdjust="spacingAndGlyphs" stroke="#262626" stroke-width="0.40" stroke-linejoin="round">38</text><text x="585.60" y="191.94" font-size="12.5" fill="#262626">°</text><text class="b" x="596.21" y="197.75" font-size="12.00" textLength="10.69" lengthAdjust="spacingAndGlyphs" stroke="#262626" stroke-width="0.40" stroke-linejoin="round">N</text>
<text class="b" x="567.57" y="182.45" font-size="12.00" textLength="16.96" lengthAdjust="spacingAndGlyphs" stroke="#262626" stroke-width="0.40" stroke-linejoin="round">40</text><text x="585.60" y="176.64" font-size="12.5" fill="#262626">°</text><text class="b" x="596.21" y="182.45" font-size="12.00" textLength="10.69" lengthAdjust="spacingAndGlyphs" stroke="#262626" stroke-width="0.40" stroke-linejoin="round">N</text>
<text class="b" x="567.57" y="166.95" font-size="12.00" textLength="16.94" lengthAdjust="spacingAndGlyphs" stroke="#262626" stroke-width="0.40" stroke-linejoin="round">42</text><text x="585.60" y="161.14" font-size="12.5" fill="#262626">°</text><text class="b" x="596.21" y="166.95" font-size="12.00" textLength="10.69" lengthAdjust="spacingAndGlyphs" stroke="#262626" stroke-width="0.40" stroke-linejoin="round">N</text>
<text class="b" x="567.58" y="147.75" font-size="12.00" textLength="16.40" lengthAdjust="spacingAndGlyphs" stroke="#262626" stroke-width="0.40" stroke-linejoin="round">44</text><text x="585.60" y="141.94" font-size="12.5" fill="#262626">°</text><text class="b" x="596.21" y="147.75" font-size="12.00" textLength="10.69" lengthAdjust="spacingAndGlyphs" stroke="#262626" stroke-width="0.40" stroke-linejoin="round">N</text>
<text class="b" x="567.57" y="130.55" font-size="12.00" textLength="16.88" lengthAdjust="spacingAndGlyphs" stroke="#262626" stroke-width="0.40" stroke-linejoin="round">46</text><text x="585.60" y="124.74" font-size="12.5" fill="#262626">°</text><text class="b" x="596.21" y="130.55" font-size="12.00" textLength="10.69" lengthAdjust="spacingAndGlyphs" stroke="#262626" stroke-width="0.40" stroke-linejoin="round">N</text>
<text class="b" x="567.57" y="112.55" font-size="12.00" textLength="16.79" lengthAdjust="spacingAndGlyphs" stroke="#262626" stroke-width="0.40" stroke-linejoin="round">48</text><text x="585.60" y="106.74" font-size="12.5" fill="#262626">°</text><text class="b" x="596.21" y="112.55" font-size="12.00" textLength="10.69" lengthAdjust="spacingAndGlyphs" stroke="#262626" stroke-width="0.40" stroke-linejoin="round">N</text>
</g>
<g id="panel3">
<g filter="url(#soft)"><circle cx="1037.8" cy="123.6" r="3.3" fill="#ffec00"/><circle cx="1037.6" cy="128.7" r="3.3" fill="#f3ff0c"/><circle cx="1038.1" cy="133.7" r="3.3" fill="#e4ff1b"/><circle cx="1037.4" cy="158.0" r="3.3" fill="#47ffb8"/><circle cx="1037.8" cy="164.0" r="3.3" fill="#36ffc9"/><circle cx="1037.2" cy="170.1" r="3.3" fill="#03fffc"/><circle cx="1037.0" cy="194.3" r="3.3" fill="#0000ac"/><circle cx="1037.3" cy="200.3" r="3.3" fill="#0000ad"/><circle cx="1037.8" cy="206.4" r="3.3" fill="#0000a0"/><circle cx="1037.9" cy="212.4" r="3.3" fill="#0000d0"/><circle cx="1037.0" cy="228.6" r="3.3" fill="#009dff"/><circle cx="1037.3" cy="233.6" r="3.3" fill="#00fdff"/><circle cx="1042.1" cy="96.0" r="3.3" fill="#fdff02"/><circle cx="1044.6" cy="96.4" r="3.3" fill="#dfff20"/><circle cx="1043.5" cy="148.1" r="3.3" fill="#6cff93"/><circle cx="1056.1" cy="202.3" r="3.3" fill="#0000bd"/><circle cx="1044.0" cy="173.1" r="3.3" fill="#00cbff"/><circle cx="1062.1" cy="231.1" r="3.3" fill="#00cdff"/><circle cx="1048.4" cy="143.0" r="3.3" fill="#b8ff47"/><circle cx="1045.6" cy="229.5" r="3.3" fill="#0081ff"/><circle cx="1045.6" cy="162.6" r="3.3" fill="#32ffcd"/><circle cx="1058.0" cy="187.1" r="3.3" fill="#0000e4"/><circle cx="1040.7" cy="192.3" r="3.3" fill="#0000d5"/><circle cx="1042.4" cy="131.9" r="3.3" fill="#e6ff19"/><circle cx="1043.7" cy="159.8" r="3.3" fill="#14ffeb"/><circle cx="1045.7" cy="105.3" r="3.3" fill="#ecff13"/><circle cx="1043.8" cy="100.6" r="3.3" fill="#ffed00"/><circle cx="1058.7" cy="199.4" r="3.3" fill="#0000bd"/><circle cx="1056.2" cy="215.2" r="3.3" fill="#0000d8"/><circle cx="1057.0" cy="228.1" r="3.3" fill="#008dff"/><circle cx="1055.5" cy="190.0" r="3.3" fill="#0000cd"/><circle cx="1052.8" cy="152.4" r="3.3" fill="#6cff93"/><circle cx="1050.3" cy="215.8" r="3.3" fill="#0000fe"/><circle cx="1051.8" cy="131.0" r="3.3" fill="#ffcb00"/><circle cx="1051.7" cy="161.0" r="3.3" fill="#3effc1"/><circle cx="1049.7" cy="115.9" r="3.3" fill="#ffda00"/><circle cx="1041.4" cy="202.2" r="3.3" fill="#0000d4"/><circle cx="1061.4" cy="228.5" r="3.3" fill="#009bff"/><circle cx="1061.6" cy="226.2" r="3.3" fill="#008aff"/><circle cx="1040.8" cy="200.1" r="3.3" fill="#0000b3"/><circle cx="1048.7" cy="150.6" r="3.3" fill="#7bff84"/><circle cx="1054.2" cy="157.4" r="3.3" fill="#2affd5"/><circle cx="1050.5" cy="231.5" r="3.3" fill="#00ceff"/><circle cx="1048.3" cy="145.3" r="3.3" fill="#c6ff39"/><circle cx="1051.5" cy="126.8" r="3.3" fill="#ffb700"/><circle cx="1055.5" cy="187.2" r="3.3" fill="#0000f9"/><circle cx="1059.8" cy="202.4" r="3.3" fill="#0000d3"/><circle cx="1045.3" cy="103.1" r="3.3" fill="#daff25"/><circle cx="1057.1" cy="179.7" r="3.3" fill="#0071ff"/><circle cx="1053.4" cy="160.8" r="3.3" fill="#35ffca"/><circle cx="1048.0" cy="202.7" r="3.3" fill="#0000de"/><circle cx="1056.5" cy="218.4" r="3.3" fill="#0010ff"/><circle cx="1048.9" cy="168.3" r="3.3" fill="#00e2ff"/><circle cx="1048.6" cy="102.2" r="3.3" fill="#ffdf00"/><circle cx="1060.2" cy="209.9" r="3.3" fill="#0000a8"/><circle cx="1043.4" cy="170.5" r="3.3" fill="#11ffee"/><circle cx="1061.8" cy="221.2" r="3.3" fill="#0040ff"/><circle cx="1057.1" cy="173.3" r="3.3" fill="#00deff"/><circle cx="1040.0" cy="97.8" r="3.3" fill="#f8ff07"/><circle cx="1040.3" cy="160.7" r="3.3" fill="#18ffe7"/><circle cx="1049.2" cy="108.8" r="3.3" fill="#ffe700"/><circle cx="1045.4" cy="121.2" r="3.3" fill="#ffd200"/><circle cx="1053.4" cy="163.6" r="3.3" fill="#1effe1"/><circle cx="1061.7" cy="234.6" r="3.3" fill="#00cbff"/><circle cx="1045.7" cy="165.5" r="3.3" fill="#0afff5"/><circle cx="1039.9" cy="155.4" r="3.3" fill="#61ff9e"/><circle cx="1042.7" cy="129.0" r="3.3" fill="#e3ff1c"/><circle cx="1050.5" cy="124.1" r="3.3" fill="#ffcc00"/><circle cx="1043.1" cy="114.1" r="3.3" fill="#fff600"/><circle cx="1051.3" cy="218.7" r="3.3" fill="#0007ff"/><circle cx="1046.0" cy="134.3" r="3.3" fill="#f6ff09"/><circle cx="1041.1" cy="196.8" r="3.3" fill="#0000be"/><circle cx="1051.9" cy="134.4" r="3.3" fill="#ffe300"/><circle cx="1043.7" cy="158.0" r="3.3" fill="#36ffc9"/><circle cx="1043.7" cy="186.9" r="3.3" fill="#0000ec"/><circle cx="1043.0" cy="118.0" r="3.3" fill="#feff01"/><circle cx="1046.6" cy="226.4" r="3.3" fill="#0060ff"/><circle cx="1058.4" cy="228.2" r="3.3" fill="#0066ff"/><circle cx="1059.2" cy="195.4" r="3.3" fill="#0000a9"/><circle cx="1043.2" cy="134.4" r="3.3" fill="#f8ff07"/><circle cx="1053.4" cy="160.4" r="3.3" fill="#45ffba"/><circle cx="1049.2" cy="233.3" r="3.3" fill="#0bfff4"/><circle cx="1050.4" cy="155.3" r="3.3" fill="#6cff93"/><circle cx="1053.6" cy="205.6" r="3.3" fill="#0000e2"/><circle cx="1040.5" cy="195.0" r="3.3" fill="#0000bf"/><circle cx="1043.2" cy="105.9" r="3.3" fill="#f4ff0b"/><circle cx="1059.2" cy="202.7" r="3.3" fill="#0000bb"/><circle cx="1050.3" cy="123.5" r="3.3" fill="#ffab00"/><circle cx="1043.9" cy="115.5" r="3.3" fill="#fff200"/><circle cx="1042.8" cy="194.6" r="3.3" fill="#0000b2"/><circle cx="1049.0" cy="207.3" r="3.3" fill="#0000df"/><circle cx="1050.3" cy="118.5" r="3.3" fill="#ffb100"/><circle cx="1040.3" cy="223.8" r="3.3" fill="#0026ff"/><circle cx="1053.3" cy="188.9" r="3.3" fill="#0000e4"/><circle cx="1046.0" cy="190.0" r="3.3" fill="#0000e1"/><circle cx="1051.4" cy="186.1" r="3.3" fill="#0000e3"/><circle cx="1048.5" cy="220.9" r="3.3" fill="#001fff"/><circle cx="1043.2" cy="139.4" r="3.3" fill="#fff800"/><circle cx="1048.1" cy="135.0" r="3.3" fill="#ffeb00"/><circle cx="1045.7" cy="234.0" r="3.3" fill="#21ffde"/><circle cx="1051.1" cy="125.8" r="3.3" fill="#ffd600"/><circle cx="1048.4" cy="139.1" r="3.3" fill="#e7ff18"/><circle cx="1046.2" cy="184.6" r="3.3" fill="#0000e6"/><circle cx="1054.0" cy="229.1" r="3.3" fill="#00a0ff"/><circle cx="1054.1" cy="218.5" r="3.3" fill="#0001ff"/><circle cx="1048.0" cy="186.1" r="3.3" fill="#0013ff"/><circle cx="1051.6" cy="184.9" r="3.3" fill="#001eff"/><circle cx="1053.8" cy="203.4" r="3.3" fill="#0000d9"/><circle cx="1049.1" cy="129.8" r="3.3" fill="#fff900"/><circle cx="1051.5" cy="132.1" r="3.3" fill="#ffd200"/><circle cx="1045.3" cy="204.6" r="3.3" fill="#0000d3"/><circle cx="1053.4" cy="207.2" r="3.3" fill="#0000d8"/><circle cx="1046.2" cy="197.1" r="3.3" fill="#0000de"/><circle cx="1046.6" cy="139.2" r="3.3" fill="#fff000"/><circle cx="1048.2" cy="210.9" r="3.3" fill="#0000be"/><circle cx="1047.9" cy="191.9" r="3.3" fill="#0000de"/><circle cx="1051.4" cy="192.3" r="3.3" fill="#0000ad"/><circle cx="1050.4" cy="139.9" r="3.3" fill="#d8ff27"/><circle cx="1046.1" cy="108.7" r="3.3" fill="#ffe900"/><circle cx="1061.5" cy="234.4" r="3.3" fill="#00daff"/><circle cx="1051.2" cy="199.5" r="3.3" fill="#0000b2"/><circle cx="1045.3" cy="191.9" r="3.3" fill="#0000d7"/><circle cx="1053.8" cy="165.3" r="3.3" fill="#08fff7"/><circle cx="1060.5" cy="220.7" r="3.3" fill="#0009ff"/><circle cx="1051.6" cy="190.0" r="3.3" fill="#0000dd"/><circle cx="1048.3" cy="199.8" r="3.3" fill="#0000b1"/><circle cx="1058.5" cy="197.1" r="3.3" fill="#0000c4"/><circle cx="1056.8" cy="223.9" r="3.3" fill="#0039ff"/><circle cx="1048.7" cy="103.1" r="3.3" fill="#e4ff1b"/><circle cx="1043.0" cy="154.7" r="3.3" fill="#64ff9b"/><circle cx="1046.6" cy="141.4" r="3.3" fill="#d9ff26"/><circle cx="1056.8" cy="231.1" r="3.3" fill="#00d9ff"/><circle cx="1041.0" cy="168.6" r="3.3" fill="#18ffe7"/><circle cx="1048.6" cy="111.4" r="3.3" fill="#fff300"/><circle cx="1053.9" cy="186.2" r="3.3" fill="#0000d5"/><circle cx="1042.6" cy="214.9" r="3.3" fill="#0008ff"/><circle cx="1046.0" cy="129.1" r="3.3" fill="#ffcc00"/><circle cx="1046.6" cy="112.8" r="3.3" fill="#fff700"/><circle cx="1050.5" cy="137.7" r="3.3" fill="#ffef00"/><circle cx="1043.0" cy="166.6" r="3.3" fill="#12ffed"/><circle cx="1041.0" cy="148.0" r="3.3" fill="#9aff65"/><circle cx="1056.1" cy="171.5" r="3.3" fill="#00ddff"/><circle cx="1051.6" cy="178.3" r="3.3" fill="#0082ff"/><circle cx="1050.4" cy="173.4" r="3.3" fill="#00d5ff"/><circle cx="1048.2" cy="163.0" r="3.3" fill="#2cffd3"/><circle cx="1047.8" cy="155.8" r="3.3" fill="#2cffd3"/><circle cx="1049.1" cy="131.7" r="3.3" fill="#ffd000"/><circle cx="1042.8" cy="149.3" r="3.3" fill="#92ff6d"/><circle cx="1048.2" cy="176.5" r="3.3" fill="#00c1ff"/><circle cx="1047.9" cy="100.7" r="3.3" fill="#ffe700"/><circle cx="1050.3" cy="223.4" r="3.3" fill="#005dff"/><circle cx="1042.6" cy="179.6" r="3.3" fill="#003fff"/><circle cx="1046.2" cy="199.8" r="3.3" fill="#0000b0"/><circle cx="1046.4" cy="124.6" r="3.3" fill="#ffd000"/><circle cx="1051.4" cy="194.8" r="3.3" fill="#0000c8"/><circle cx="1043.8" cy="144.7" r="3.3" fill="#ceff31"/><circle cx="1043.4" cy="205.2" r="3.3" fill="#0000a9"/><circle cx="1061.2" cy="229.2" r="3.3" fill="#008eff"/><circle cx="1053.8" cy="176.9" r="3.3" fill="#00a3ff"/><circle cx="1041.4" cy="113.4" r="3.3" fill="#e3ff1c"/><circle cx="1058.9" cy="197.7" r="3.3" fill="#0000ab"/><circle cx="1042.9" cy="121.6" r="3.3" fill="#ffe200"/><circle cx="1045.8" cy="215.5" r="3.3" fill="#0000ee"/><circle cx="1049.1" cy="171.8" r="3.3" fill="#00f7ff"/><circle cx="1050.5" cy="120.8" r="3.3" fill="#ffa400"/><circle cx="1040.3" cy="157.7" r="3.3" fill="#22ffdd"/><circle cx="1056.9" cy="177.0" r="3.3" fill="#00b6ff"/><circle cx="1046.1" cy="158.3" r="3.3" fill="#26ffd9"/><circle cx="1046.1" cy="136.5" r="3.3" fill="#ffeb00"/><circle cx="1051.4" cy="209.8" r="3.3" fill="#0000e7"/><circle cx="1061.9" cy="223.4" r="3.3" fill="#002aff"/><circle cx="1045.4" cy="168.0" r="3.3" fill="#00f5ff"/><circle cx="1051.1" cy="205.2" r="3.3" fill="#0000d9"/><circle cx="1051.8" cy="144.4" r="3.3" fill="#a2ff5d"/><circle cx="1046.0" cy="210.7" r="3.3" fill="#0000cc"/><circle cx="1048.6" cy="97.7" r="3.3" fill="#e2ff1d"/><circle cx="1046.2" cy="173.4" r="3.3" fill="#00c9ff"/><circle cx="1056.6" cy="168.9" r="3.3" fill="#00e2ff"/><circle cx="1053.8" cy="220.9" r="3.3" fill="#000cff"/><circle cx="1047.8" cy="113.9" r="3.3" fill="#fff500"/><circle cx="1045.2" cy="195.4" r="3.3" fill="#0000b8"/><circle cx="1048.6" cy="218.4" r="3.3" fill="#0005ff"/><circle cx="1057.3" cy="179.6" r="3.3" fill="#004aff"/><circle cx="1057.4" cy="176.6" r="3.3" fill="#00bfff"/><circle cx="1053.6" cy="197.2" r="3.3" fill="#0000be"/><circle cx="1053.5" cy="155.9" r="3.3" fill="#43ffbc"/><circle cx="1056.7" cy="208.5" r="3.3" fill="#0000a0"/><circle cx="1057.9" cy="183.9" r="3.3" fill="#0020ff"/><circle cx="1040.5" cy="184.7" r="3.3" fill="#0000f3"/><circle cx="1039.9" cy="137.3" r="3.3" fill="#fff900"/><circle cx="1046.4" cy="176.1" r="3.3" fill="#00a5ff"/><circle cx="1049.0" cy="126.1" r="3.3" fill="#ffb800"/><circle cx="1053.0" cy="184.3" r="3.3" fill="#001cff"/><circle cx="1048.3" cy="226.5" r="3.3" fill="#004eff"/><circle cx="1051.8" cy="169.0" r="3.3" fill="#00f0ff"/><circle cx="1050.7" cy="213.7" r="3.3" fill="#0000e3"/><circle cx="1048.0" cy="157.8" r="3.3" fill="#38ffc7"/><circle cx="1053.2" cy="222.8" r="3.3" fill="#0032ff"/><circle cx="1059.2" cy="192.3" r="3.3" fill="#0000ec"/><circle cx="1041.4" cy="212.5" r="3.3" fill="#0000dc"/><circle cx="1053.6" cy="225.6" r="3.3" fill="#0065ff"/><circle cx="1059.5" cy="207.7" r="3.3" fill="#0000c5"/><circle cx="1043.4" cy="208.6" r="3.3" fill="#0000e1"/><circle cx="1056.6" cy="170.5" r="3.3" fill="#00ecff"/><circle cx="1052.7" cy="147.1" r="3.3" fill="#a1ff5e"/><circle cx="1045.1" cy="223.5" r="3.3" fill="#002dff"/><circle cx="1041.4" cy="133.6" r="3.3" fill="#e4ff1b"/><circle cx="1048.3" cy="206.0" r="3.3" fill="#0000d2"/><circle cx="1053.2" cy="155.7" r="3.3" fill="#68ff97"/><circle cx="1040.8" cy="108.0" r="3.3" fill="#faff05"/><circle cx="1056.7" cy="173.4" r="3.3" fill="#00ffff"/><circle cx="1055.7" cy="213.1" r="3.3" fill="#0000d1"/><circle cx="1042.7" cy="98.0" r="3.3" fill="#fffc00"/><circle cx="1058.0" cy="192.8" r="3.3" fill="#0000dc"/><circle cx="1049.5" cy="110.8" r="3.3" fill="#ffc500"/><circle cx="1043.6" cy="152.3" r="3.3" fill="#65ff9a"/><circle cx="1051.3" cy="207.5" r="3.3" fill="#0000d9"/><circle cx="1049.0" cy="213.0" r="3.3" fill="#0000c0"/><circle cx="1040.8" cy="210.9" r="3.3" fill="#0000d3"/><circle cx="1048.1" cy="146.8" r="3.3" fill="#81ff7e"/><circle cx="1053.9" cy="192.6" r="3.3" fill="#0000c9"/><circle cx="1043.7" cy="226.9" r="3.3" fill="#0065ff"/><circle cx="1040.8" cy="220.5" r="3.3" fill="#000eff"/><circle cx="1055.9" cy="181.0" r="3.3" fill="#0038ff"/><circle cx="1048.0" cy="97.7" r="3.3" fill="#ffec00"/><circle cx="1040.5" cy="153.4" r="3.3" fill="#81ff7e"/><circle cx="1050.4" cy="163.4" r="3.3" fill="#27ffd8"/><circle cx="1040.3" cy="163.4" r="3.3" fill="#08fff7"/><circle cx="1040.8" cy="182.1" r="3.3" fill="#004fff"/><circle cx="1056.1" cy="209.8" r="3.3" fill="#0000e9"/><circle cx="1059.7" cy="205.3" r="3.3" fill="#0000cc"/><circle cx="1050.6" cy="170.6" r="3.3" fill="#00ebff"/><circle cx="1039.8" cy="216.1" r="3.3" fill="#0004ff"/><circle cx="1051.4" cy="129.0" r="3.3" fill="#ffcc00"/><circle cx="1040.6" cy="171.7" r="3.3" fill="#10ffef"/><circle cx="1051.5" cy="228.1" r="3.3" fill="#00a3ff"/><circle cx="1053.4" cy="195.4" r="3.3" fill="#0000b9"/><circle cx="1043.9" cy="234.1" r="3.3" fill="#5affa5"/><circle cx="1058.6" cy="205.3" r="3.3" fill="#0000d0"/><circle cx="1046.0" cy="152.2" r="3.3" fill="#62ff9d"/><circle cx="1053.4" cy="163.7" r="3.3" fill="#03fffc"/><circle cx="1045.7" cy="111.1" r="3.3" fill="#ffdd00"/><circle cx="1045.3" cy="221.0" r="3.3" fill="#0011ff"/><circle cx="1057.3" cy="182.3" r="3.3" fill="#0044ff"/><circle cx="1049.1" cy="105.0" r="3.3" fill="#ffed00"/><circle cx="1050.8" cy="166.4" r="3.3" fill="#00f4ff"/><circle cx="1040.5" cy="218.8" r="3.3" fill="#0009ff"/><circle cx="1053.1" cy="182.1" r="3.3" fill="#0037ff"/><circle cx="1052.9" cy="158.0" r="3.3" fill="#63ff9c"/><circle cx="1043.7" cy="209.6" r="3.3" fill="#0000c5"/><circle cx="1042.5" cy="184.2" r="3.3" fill="#0014ff"/><circle cx="1043.6" cy="218.8" r="3.3" fill="#0000f5"/><circle cx="1050.8" cy="128.5" r="3.3" fill="#ffdf00"/><circle cx="1048.0" cy="184.2" r="3.3" fill="#0000f4"/><circle cx="1051.0" cy="121.8" r="3.3" fill="#ffd400"/><circle cx="1045.3" cy="149.6" r="3.3" fill="#63ff9c"/><circle cx="1061.1" cy="225.4" r="3.3" fill="#0071ff"/><circle cx="1045.2" cy="182.0" r="3.3" fill="#004dff"/><circle cx="1040.0" cy="228.8" r="3.3" fill="#0096ff"/><circle cx="1053.4" cy="234.0" r="3.3" fill="#13ffec"/><circle cx="1048.3" cy="118.3" r="3.3" fill="#ffd700"/><circle cx="1045.8" cy="116.2" r="3.3" fill="#f0ff0f"/><circle cx="1051.6" cy="150.4" r="3.3" fill="#88ff77"/><circle cx="1040.2" cy="131.1" r="3.3" fill="#feff01"/><circle cx="1060.2" cy="208.3" r="3.3" fill="#0000c9"/><circle cx="1053.1" cy="216.4" r="3.3" fill="#0000fd"/><circle cx="1041.3" cy="232.1" r="3.3" fill="#00b2ff"/><circle cx="1047.7" cy="194.0" r="3.3" fill="#0000b7"/><circle cx="1051.6" cy="148.0" r="3.3" fill="#9dff62"/><circle cx="1055.7" cy="226.3" r="3.3" fill="#005aff"/><circle cx="1050.7" cy="221.6" r="3.3" fill="#000dff"/><circle cx="1048.9" cy="229.4" r="3.3" fill="#0095ff"/><circle cx="1053.7" cy="173.2" r="3.3" fill="#00d1ff"/><circle cx="1046.4" cy="147.7" r="3.3" fill="#a0ff5f"/><circle cx="1049.9" cy="113.2" r="3.3" fill="#ffe800"/><circle cx="1056.5" cy="168.6" r="3.3" fill="#04fffb"/><circle cx="1058.7" cy="230.7" r="3.3" fill="#00c2ff"/><circle cx="1048.9" cy="121.8" r="3.3" fill="#ffb100"/><circle cx="1040.6" cy="186.0" r="3.3" fill="#0014ff"/><circle cx="1039.9" cy="144.8" r="3.3" fill="#9dff62"/><circle cx="1061.4" cy="231.2" r="3.3" fill="#00d1ff"/><circle cx="1059.3" cy="212.6" r="3.3" fill="#0000d3"/><circle cx="1050.6" cy="234.3" r="3.3" fill="#4cffb3"/><circle cx="1056.9" cy="184.4" r="3.3" fill="#0024ff"/><circle cx="1046.4" cy="170.5" r="3.3" fill="#00d6ff"/><circle cx="1043.3" cy="224.1" r="3.3" fill="#0062ff"/><circle cx="1043.7" cy="123.7" r="3.3" fill="#fcff03"/><circle cx="1041.3" cy="207.5" r="3.3" fill="#0000cf"/><circle cx="1049.1" cy="123.8" r="3.3" fill="#ffd100"/><circle cx="1040.2" cy="117.9" r="3.3" fill="#ffe400"/><circle cx="1054.2" cy="199.2" r="3.3" fill="#0000c5"/><circle cx="1059.6" cy="234.3" r="3.3" fill="#00e5ff"/><circle cx="1046.2" cy="208.3" r="3.3" fill="#0000b0"/><circle cx="1051.6" cy="143.0" r="3.3" fill="#d2ff2d"/><circle cx="1040.8" cy="205.2" r="3.3" fill="#00009d"/><circle cx="1052.9" cy="150.8" r="3.3" fill="#7dff82"/><circle cx="1056.7" cy="200.0" r="3.3" fill="#0000e1"/><circle cx="1048.3" cy="153.2" r="3.3" fill="#41ffbe"/><circle cx="1050.3" cy="152.8" r="3.3" fill="#54ffab"/><circle cx="1045.7" cy="144.8" r="3.3" fill="#aaff55"/><circle cx="1040.1" cy="129.8" r="3.3" fill="#e5ff1a"/><circle cx="1049.2" cy="182.2" r="3.3" fill="#0028ff"/><circle cx="1048.8" cy="223.0" r="3.3" fill="#0048ff"/><circle cx="1041.3" cy="226.8" r="3.3" fill="#0094ff"/><circle cx="1040.6" cy="176.6" r="3.3" fill="#0088ff"/><circle cx="1057.9" cy="189.6" r="3.3" fill="#0000eb"/><circle cx="1054.1" cy="179.7" r="3.3" fill="#0063ff"/><circle cx="1056.9" cy="197.8" r="3.3" fill="#0000c7"/><circle cx="1043.9" cy="192.3" r="3.3" fill="#0000ef"/><circle cx="1043.3" cy="108.0" r="3.3" fill="#fff300"/><circle cx="1051.0" cy="181.5" r="3.3" fill="#0056ff"/><circle cx="1042.7" cy="200.0" r="3.3" fill="#0000a2"/><circle cx="1040.0" cy="123.3" r="3.3" fill="#ffed00"/><circle cx="1060.2" cy="216.1" r="3.3" fill="#0000dc"/><circle cx="1040.5" cy="110.9" r="3.3" fill="#ffe900"/><circle cx="1045.7" cy="178.7" r="3.3" fill="#0092ff"/><circle cx="1046.6" cy="218.0" r="3.3" fill="#0000e1"/><circle cx="1040.9" cy="189.8" r="3.3" fill="#0000df"/><circle cx="1048.0" cy="115.8" r="3.3" fill="#ffdb00"/><circle cx="1054.0" cy="171.0" r="3.3" fill="#00e6ff"/><circle cx="1051.8" cy="139.6" r="3.3" fill="#e3ff1c"/><circle cx="1042.6" cy="202.8" r="3.3" fill="#0000cf"/><circle cx="1055.6" cy="233.9" r="3.3" fill="#00d3ff"/><circle cx="1055.6" cy="220.2" r="3.3" fill="#0004ff"/><circle cx="1040.7" cy="174.3" r="3.3" fill="#00c3ff"/><circle cx="1058.9" cy="215.5" r="3.3" fill="#0000f5"/><circle cx="1045.7" cy="155.6" r="3.3" fill="#6bff94"/><circle cx="1044.0" cy="181.4" r="3.3" fill="#004fff"/><circle cx="1045.8" cy="231.8" r="3.3" fill="#00a6ff"/><circle cx="1053.0" cy="231.7" r="3.3" fill="#00cfff"/><circle cx="1051.8" cy="225.5" r="3.3" fill="#004cff"/><circle cx="1051.6" cy="137.6" r="3.3" fill="#ecff13"/><circle cx="1047.9" cy="136.3" r="3.3" fill="#f9ff06"/><circle cx="1040.0" cy="139.3" r="3.3" fill="#f6ff09"/><circle cx="1053.5" cy="209.6" r="3.3" fill="#0000cf"/><circle cx="1058.1" cy="210.1" r="3.3" fill="#0000ce"/><circle cx="1056.6" cy="194.6" r="3.3" fill="#0000cd"/><circle cx="1040.9" cy="141.5" r="3.3" fill="#f2ff0d"/><circle cx="1048.8" cy="105.6" r="3.3" fill="#ffed00"/><circle cx="1043.9" cy="162.8" r="3.3" fill="#49ffb6"/><circle cx="1051.7" cy="134.7" r="3.3" fill="#fff000"/><circle cx="1046.4" cy="213.1" r="3.3" fill="#0000f7"/><circle cx="1041.0" cy="150.8" r="3.3" fill="#5fffa0"/><circle cx="1040.3" cy="105.8" r="3.3" fill="#ffe500"/><circle cx="1052.1" cy="143.0" r="3.3" fill="#dfff20"/><circle cx="1043.8" cy="212.7" r="3.3" fill="#0000b7"/><circle cx="1042.7" cy="189.3" r="3.3" fill="#0000c5"/><circle cx="1040.8" cy="100.3" r="3.3" fill="#e8ff17"/><circle cx="1057.1" cy="191.7" r="3.3" fill="#0000af"/><circle cx="1054.0" cy="166.5" r="3.3" fill="#00f4ff"/><circle cx="1043.6" cy="127.2" r="3.3" fill="#ffe800"/><circle cx="1042.6" cy="137.4" r="3.3" fill="#fcff03"/><circle cx="1045.2" cy="118.0" r="3.3" fill="#f8ff07"/><circle cx="1042.5" cy="230.9" r="3.3" fill="#00c9ff"/><circle cx="1040.2" cy="116.3" r="3.3" fill="#fbff04"/><circle cx="1049.0" cy="108.3" r="3.3" fill="#ffd800"/><circle cx="1042.8" cy="102.9" r="3.3" fill="#f2ff0d"/><circle cx="1052.2" cy="145.3" r="3.3" fill="#c2ff3d"/><circle cx="1045.5" cy="131.8" r="3.3" fill="#ffea00"/><circle cx="1060.4" cy="218.4" r="3.3" fill="#0000f8"/><circle cx="1046.0" cy="97.4" r="3.3" fill="#e9ff16"/><circle cx="1052.9" cy="212.4" r="3.3" fill="#0000f5"/><circle cx="1058.4" cy="225.5" r="3.3" fill="#004bff"/><circle cx="1041.4" cy="165.3" r="3.3" fill="#11ffee"/><circle cx="1043.0" cy="221.5" r="3.3" fill="#0042ff"/><circle cx="1040.2" cy="120.7" r="3.3" fill="#ffed00"/><circle cx="1043.8" cy="111.0" r="3.3" fill="#ffef00"/><circle cx="1061.1" cy="224.2" r="3.3" fill="#004aff"/><circle cx="1043.6" cy="169.2" r="3.3" fill="#16ffe9"/><circle cx="1048.6" cy="100.4" r="3.3" fill="#ffe300"/><circle cx="1040.5" cy="102.9" r="3.3" fill="#ffeb00"/><circle cx="1049.2" cy="173.5" r="3.3" fill="#00eaff"/><circle cx="1059.2" cy="224.1" r="3.3" fill="#0028ff"/><circle cx="1043.0" cy="198.1" r="3.3" fill="#0000a7"/><circle cx="1042.5" cy="142.5" r="3.3" fill="#cdff32"/><circle cx="1040.1" cy="234.8" r="3.3" fill="#75ff8a"/><circle cx="1048.3" cy="215.9" r="3.3" fill="#0000fd"/><circle cx="1046.1" cy="126.4" r="3.3" fill="#ffdd00"/><circle cx="1048.5" cy="179.4" r="3.3" fill="#0060ff"/><circle cx="1058.3" cy="217.9" r="3.3" fill="#0000ea"/><circle cx="1048.7" cy="189.4" r="3.3" fill="#0000dd"/><circle cx="1058.7" cy="194.5" r="3.3" fill="#0000d0"/><circle cx="1048.9" cy="231.9" r="3.3" fill="#00c5ff"/><circle cx="1046.6" cy="202.2" r="3.3" fill="#0000d2"/><circle cx="1048.5" cy="197.2" r="3.3" fill="#0000b1"/><circle cx="1045.8" cy="160.4" r="3.3" fill="#32ffcd"/><circle cx="1042.8" cy="176.0" r="3.3" fill="#00b1ff"/><circle cx="1051.4" cy="176.9" r="3.3" fill="#00b4ff"/><circle cx="1056.1" cy="205.0" r="3.3" fill="#0000db"/><circle cx="1058.5" cy="199.5" r="3.3" fill="#0000e3"/><circle cx="1051.8" cy="157.7" r="3.3" fill="#28ffd7"/><circle cx="1050.8" cy="202.5" r="3.3" fill="#0000b4"/><circle cx="1042.5" cy="228.1" r="3.3" fill="#009aff"/><circle cx="1045.3" cy="187.5" r="3.3" fill="#0000b9"/><circle cx="1049.1" cy="161.1" r="3.3" fill="#40ffbf"/><circle cx="1058.9" cy="220.5" r="3.3" fill="#0017ff"/><circle cx="1040.9" cy="127.2" r="3.3" fill="#ffe200"/><circle cx="1051.4" cy="197.3" r="3.3" fill="#0000ea"/><circle cx="1060.3" cy="213.6" r="3.3" fill="#0000c7"/><circle cx="1045.6" cy="99.8" r="3.3" fill="#f2ff0d"/><circle cx="1047.9" cy="166.4" r="3.3" fill="#1dffe2"/><circle cx="1040.9" cy="178.8" r="3.3" fill="#0053ff"/><circle cx="1053.7" cy="167.9" r="3.3" fill="#12ffed"/><circle cx="1036.1" cy="235.1" r="2.6" fill="#f4d820"/><circle cx="1039.6" cy="235.8" r="2.2" fill="#f0c020"/><circle cx="1054.2" cy="235.8" r="2.0" fill="#e8e030"/><circle cx="1042.6" cy="236.4" r="2.0" fill="#f07010"/><circle cx="1051.2" cy="236.0" r="1.9" fill="#f08018"/><circle cx="1045.6" cy="236.3" r="1.9" fill="#e02010"/><circle cx="1048.5" cy="235.9" r="1.9" fill="#e42810"/></g>
<clipPath id="clip2"><rect x="1037.1" y="94.9" width="236.1" height="216.0"/></clipPath>
<g clip-path="url(#clip2)"><use href="#usmap" transform="translate(1038.10 95.85) scale(1.00470 1.00892)"/></g>
<rect x="1037.6" y="95.4" width="235.1" height="215.0" fill="none" stroke="#1a1a1a" stroke-width="1.15"/>
<rect x="1285.2" y="93.2" width="23.9" height="219.5" fill="url(#jet)" stroke="#3a0a0a" stroke-opacity="0.55" stroke-width="0.8"/>
<text class="b" x="1317.41" y="319.56" font-size="21.40" textLength="13.82" lengthAdjust="spacingAndGlyphs" stroke="#262626" stroke-width="0.60" stroke-linejoin="round">0</text>
<path d="M1309.1 241.5h-2.4" stroke="#262626" stroke-width="0.8" stroke-opacity="0.8"/><text class="b" x="1317.38" y="249.01" font-size="21.40" textLength="35.35" lengthAdjust="spacingAndGlyphs" stroke="#262626" stroke-width="0.60" stroke-linejoin="round">0.5</text>
<path d="M1309.1 170.9h-2.4" stroke="#262626" stroke-width="0.8" stroke-opacity="0.8"/><text class="b" x="1318.38" y="178.46" font-size="21.40" textLength="12.00" lengthAdjust="spacingAndGlyphs" stroke="#262626" stroke-width="0.60" stroke-linejoin="round">1</text>
<path d="M1309.1 100.3h-2.4" stroke="#262626" stroke-width="0.8" stroke-opacity="0.8"/><text class="b" x="1318.17" y="107.91" font-size="21.40" textLength="34.55" lengthAdjust="spacingAndGlyphs" stroke="#262626" stroke-width="0.60" stroke-linejoin="round">1.5</text>
<text class="b" x="967.07" y="341.70" font-size="23.50" textLength="118.29" lengthAdjust="spacingAndGlyphs" stroke="#262626" stroke-width="0.60" stroke-linejoin="round">SAT+RAP</text><text class="b" x="1095.73" y="341.70" font-size="23.50" textLength="47.34" lengthAdjust="spacingAndGlyphs" stroke="#262626" stroke-width="0.60" stroke-linejoin="round">500</text><text class="b" x="1151.36" y="341.70" font-size="23.50" textLength="45.78" lengthAdjust="spacingAndGlyphs" stroke="#262626" stroke-width="0.60" stroke-linejoin="round">hPa</text><text class="b" x="1207.39" y="341.70" font-size="23.50" textLength="39.84" lengthAdjust="spacingAndGlyphs" stroke="#262626" stroke-width="0.60" stroke-linejoin="round">MR</text><text class="b" x="1257.92" y="341.70" font-size="23.50" textLength="75.46" lengthAdjust="spacingAndGlyphs" stroke="#262626" stroke-width="0.60" stroke-linejoin="round">(g/kg)</text>
<text class="b" x="1059.37" y="74.70" font-size="12.00" textLength="24.53" lengthAdjust="spacingAndGlyphs" stroke="#262626" stroke-width="0.40" stroke-linejoin="round">100</text><text x="1086.10" y="68.89" font-size="12.5" fill="#262626">°</text><text class="b" x="1097.79" y="74.70" font-size="12.00" textLength="11.72" lengthAdjust="spacingAndGlyphs" stroke="#262626" stroke-width="0.40" stroke-linejoin="round">W</text>
<text class="b" x="1128.49" y="74.70" font-size="12.00" textLength="16.42" lengthAdjust="spacingAndGlyphs" stroke="#262626" stroke-width="0.40" stroke-linejoin="round">90</text><text x="1146.30" y="68.89" font-size="12.5" fill="#262626">°</text><text class="b" x="1157.99" y="74.70" font-size="12.00" textLength="12.53" lengthAdjust="spacingAndGlyphs" stroke="#262626" stroke-width="0.40" stroke-linejoin="round">W</text>
<text class="b" x="1192.52" y="74.70" font-size="12.00" textLength="16.69" lengthAdjust="spacingAndGlyphs" stroke="#262626" stroke-width="0.40" stroke-linejoin="round">80</text><text x="1210.70" y="68.89" font-size="12.5" fill="#262626">°</text><text class="b" x="1221.99" y="74.70" font-size="12.00" textLength="12.23" lengthAdjust="spacingAndGlyphs" stroke="#262626" stroke-width="0.40" stroke-linejoin="round">W</text>
<text class="b" x="1255.56" y="74.70" font-size="12.00" textLength="16.66" lengthAdjust="spacingAndGlyphs" stroke="#262626" stroke-width="0.40" stroke-linejoin="round">70</text><text x="1273.70" y="68.89" font-size="12.5" fill="#262626">°</text><text class="b" x="1285.29" y="74.70" font-size="12.00" textLength="12.33" lengthAdjust="spacingAndGlyphs" stroke="#262626" stroke-width="0.40" stroke-linejoin="round">W</text>
<text class="b" x="988.26" y="315.35" font-size="12.00" textLength="17.26" lengthAdjust="spacingAndGlyphs" stroke="#262626" stroke-width="0.40" stroke-linejoin="round">22</text><text x="1006.60" y="309.54" font-size="12.5" fill="#262626">°</text><text class="b" x="1017.21" y="315.35" font-size="12.00" textLength="10.69" lengthAdjust="spacingAndGlyphs" stroke="#262626" stroke-width="0.40" stroke-linejoin="round">N</text>
<text class="b" x="988.28" y="302.29" font-size="12.00" textLength="16.70" lengthAdjust="spacingAndGlyphs" stroke="#262626" stroke-width="0.40" stroke-linejoin="round">24</text><text x="1006.60" y="296.48" font-size="12.5" fill="#262626">°</text><text class="b" x="1017.21" y="302.29" font-size="12.00" textLength="10.69" lengthAdjust="spacingAndGlyphs" stroke="#262626" stroke-width="0.40" stroke-linejoin="round">N</text>
<text class="b" x="988.26" y="288.23" font-size="12.00" textLength="17.19" lengthAdjust="spacingAndGlyphs" stroke="#262626" stroke-width="0.40" stroke-linejoin="round">26</text><text x="1006.60" y="282.42" font-size="12.5" fill="#262626">°</text><text class="b" x="1017.21" y="288.23" font-size="12.00" textLength="10.69" lengthAdjust="spacingAndGlyphs" stroke="#262626" stroke-width="0.40" stroke-linejoin="round">N</text>
<text class="b" x="988.27" y="273.26" font-size="12.00" textLength="17.11" lengthAdjust="spacingAndGlyphs" stroke="#262626" stroke-width="0.40" stroke-linejoin="round">28</text><text x="1006.60" y="267.45" font-size="12.5" fill="#262626">°</text><text class="b" x="1017.21" y="273.26" font-size="12.00" textLength="10.69" lengthAdjust="spacingAndGlyphs" stroke="#262626" stroke-width="0.40" stroke-linejoin="round">N</text>
<text class="b" x="988.45" y="259.90" font-size="12.00" textLength="17.08" lengthAdjust="spacingAndGlyphs" stroke="#262626" stroke-width="0.40" stroke-linejoin="round">30</text><text x="1006.60" y="254.09" font-size="12.5" fill="#262626">°</text><text class="b" x="1017.21" y="259.90" font-size="12.00" textLength="10.69" lengthAdjust="spacingAndGlyphs" stroke="#262626" stroke-width="0.40" stroke-linejoin="round">N</text>
<text class="b" x="988.45" y="246.24" font-size="12.00" textLength="17.07" lengthAdjust="spacingAndGlyphs" stroke="#262626" stroke-width="0.40" stroke-linejoin="round">32</text><text x="1006.60" y="240.43" font-size="12.5" fill="#262626">°</text><text class="b" x="1017.21" y="246.24" font-size="12.00" textLength="10.69" lengthAdjust="spacingAndGlyphs" stroke="#262626" stroke-width="0.40" stroke-linejoin="round">N</text>
<text class="b" x="988.46" y="229.37" font-size="12.00" textLength="16.52" lengthAdjust="spacingAndGlyphs" stroke="#262626" stroke-width="0.40" stroke-linejoin="round">34</text><text x="1006.60" y="223.56" font-size="12.5" fill="#262626">°</text><text class="b" x="1017.21" y="229.37" font-size="12.00" textLength="10.69" lengthAdjust="spacingAndGlyphs" stroke="#262626" stroke-width="0.40" stroke-linejoin="round">N</text>
<text class="b" x="988.45" y="215.51" font-size="12.00" textLength="17.00" lengthAdjust="spacingAndGlyphs" stroke="#262626" stroke-width="0.40" stroke-linejoin="round">36</text><text x="1006.60" y="209.69" font-size="12.5" fill="#262626">°</text><text class="b" x="1017.21" y="215.51" font-size="12.00" textLength="10.69" lengthAdjust="spacingAndGlyphs" stroke="#262626" stroke-width="0.40" stroke-linejoin="round">N</text>
<text class="b" x="988.45" y="198.13" font-size="12.00" textLength="16.92" lengthAdjust="spacingAndGlyphs" stroke="#262626" stroke-width="0.40" stroke-linejoin="round">38</text><text x="1006.60" y="192.32" font-size="12.5" fill="#262626">°</text><text class="b" x="1017.21" y="198.13" font-size="12.00" textLength="10.69" lengthAdjust="spacingAndGlyphs" stroke="#262626" stroke-width="0.40" stroke-linejoin="round">N</text>
<text class="b" x="988.57" y="182.76" font-size="12.00" textLength="16.96" lengthAdjust="spacingAndGlyphs" stroke="#262626" stroke-width="0.40" stroke-linejoin="round">40</text><text x="1006.60" y="176.95" font-size="12.5" fill="#262626">°</text><text class="b" x="1017.21" y="182.76" font-size="12.00" textLength="10.69" lengthAdjust="spacingAndGlyphs" stroke="#262626" stroke-width="0.40" stroke-linejoin="round">N</text>
<text class="b" x="988.57" y="167.19" font-size="12.00" textLength="16.94" lengthAdjust="spacingAndGlyphs" stroke="#262626" stroke-width="0.40" stroke-linejoin="round">42</text><text x="1006.60" y="161.38" font-size="12.5" fill="#262626">°</text><text class="b" x="1017.21" y="167.19" font-size="12.00" textLength="10.69" lengthAdjust="spacingAndGlyphs" stroke="#262626" stroke-width="0.40" stroke-linejoin="round">N</text>
<text class="b" x="988.58" y="147.90" font-size="12.00" textLength="16.40" lengthAdjust="spacingAndGlyphs" stroke="#262626" stroke-width="0.40" stroke-linejoin="round">44</text><text x="1006.60" y="142.09" font-size="12.5" fill="#262626">°</text><text class="b" x="1017.21" y="147.90" font-size="12.00" textLength="10.69" lengthAdjust="spacingAndGlyphs" stroke="#262626" stroke-width="0.40" stroke-linejoin="round">N</text>
<text class="b" x="988.57" y="130.63" font-size="12.00" textLength="16.88" lengthAdjust="spacingAndGlyphs" stroke="#262626" stroke-width="0.40" stroke-linejoin="round">46</text><text x="1006.60" y="124.81" font-size="12.5" fill="#262626">°</text><text class="b" x="1017.21" y="130.63" font-size="12.00" textLength="10.69" lengthAdjust="spacingAndGlyphs" stroke="#262626" stroke-width="0.40" stroke-linejoin="round">N</text>
<text class="b" x="988.57" y="112.54" font-size="12.00" textLength="16.79" lengthAdjust="spacingAndGlyphs" stroke="#262626" stroke-width="0.40" stroke-linejoin="round">48</text><text x="1006.60" y="106.73" font-size="12.5" fill="#262626">°</text><text class="b" x="1017.21" y="112.54" font-size="12.00" textLength="10.69" lengthAdjust="spacingAndGlyphs" stroke="#262626" stroke-width="0.40" stroke-linejoin="round">N</text>
</g>
<g id="panel4">
<g><circle cx="214.8" cy="578.6" r="3.9" fill="#e4f21c"/><circle cx="214.8" cy="581.6" r="3.7" fill="#f6c81e"/><circle cx="214.8" cy="579.3" r="3.3" fill="#e8f020"/><circle cx="214.3" cy="600.6" r="4.2" fill="#86f27c"/><circle cx="217.3" cy="601.6" r="4.2" fill="#78f08a"/><circle cx="215.8" cy="605.3" r="4.2" fill="#8af276"/><circle cx="218.1" cy="608.8" r="3.6" fill="#ffb41e"/><circle cx="217.1" cy="612.8" r="3.0" fill="#ffc820"/><circle cx="211.0" cy="618.4" r="4.0" fill="#c4f43c"/><circle cx="213.4" cy="615.3" r="3.2" fill="#b0f450"/><circle cx="209.1" cy="613.0" r="3.7" fill="#ff8212"/><circle cx="219.8" cy="620.8" r="3.6" fill="#f0400e"/><circle cx="202.3" cy="623.7" r="3.2" fill="#f05818"/><circle cx="195.0" cy="622.2" r="3.0" fill="#ffa322"/><circle cx="202.8" cy="619.8" r="4.0" fill="#f2e41e"/></g>
<clipPath id="clip3"><rect x="195.1" y="485.7" width="235.1" height="214.3"/></clipPath>
<g clip-path="url(#clip3)"><use href="#usmap" transform="translate(196.10 486.65) scale(1.00043 1.00094)"/></g>
<rect x="195.6" y="486.2" width="234.1" height="213.3" fill="none" stroke="#1a1a1a" stroke-width="1.15"/>
<rect x="441.0" y="483.1" width="24.0" height="219.6" fill="url(#jet)" stroke="#3a0a0a" stroke-opacity="0.55" stroke-width="0.8"/>
<path d="M465.0 528.0h-2.4" stroke="#262626" stroke-width="0.8" stroke-opacity="0.8"/><text class="b" x="474.19" y="535.56" font-size="21.40" textLength="11.98" lengthAdjust="spacingAndGlyphs" stroke="#262626" stroke-width="0.60" stroke-linejoin="round">2</text>
<path d="M465.0 592.0h-2.4" stroke="#262626" stroke-width="0.8" stroke-opacity="0.8"/><text class="b" x="473.31" y="599.56" font-size="21.40" textLength="13.82" lengthAdjust="spacingAndGlyphs" stroke="#262626" stroke-width="0.60" stroke-linejoin="round">0</text>
<path d="M465.0 656.0h-2.4" stroke="#262626" stroke-width="0.8" stroke-opacity="0.8"/><text class="b" x="473.48" y="663.56" font-size="21.40" textLength="21.37" lengthAdjust="spacingAndGlyphs" stroke="#262626" stroke-width="0.60" stroke-linejoin="round">-2</text>
<text class="b" x="129.89" y="730.70" font-size="23.50" textLength="109.79" lengthAdjust="spacingAndGlyphs" stroke="#262626" stroke-width="0.60" stroke-linejoin="round">SAT-RAP</text><text class="b" x="249.40" y="730.70" font-size="23.50" textLength="47.37" lengthAdjust="spacingAndGlyphs" stroke="#262626" stroke-width="0.60" stroke-linejoin="round">850</text><text class="b" x="305.06" y="730.70" font-size="23.50" textLength="45.78" lengthAdjust="spacingAndGlyphs" stroke="#262626" stroke-width="0.60" stroke-linejoin="round">hPa</text><text class="b" x="361.09" y="730.70" font-size="23.50" textLength="39.84" lengthAdjust="spacingAndGlyphs" stroke="#262626" stroke-width="0.60" stroke-linejoin="round">MR</text><text class="b" x="411.62" y="730.70" font-size="23.50" textLength="75.46" lengthAdjust="spacingAndGlyphs" stroke="#262626" stroke-width="0.60" stroke-linejoin="round">(g/kg)</text>
<text class="b" x="215.37" y="466.60" font-size="12.00" textLength="24.53" lengthAdjust="spacingAndGlyphs" stroke="#262626" stroke-width="0.40" stroke-linejoin="round">100</text><text x="242.10" y="460.79" font-size="12.5" fill="#262626">°</text><text class="b" x="253.79" y="466.60" font-size="12.00" textLength="11.72" lengthAdjust="spacingAndGlyphs" stroke="#262626" stroke-width="0.40" stroke-linejoin="round">W</text>
<text class="b" x="284.49" y="466.60" font-size="12.00" textLength="16.42" lengthAdjust="spacingAndGlyphs" stroke="#262626" stroke-width="0.40" stroke-linejoin="round">90</text><text x="302.30" y="460.79" font-size="12.5" fill="#262626">°</text><text class="b" x="313.99" y="466.60" font-size="12.00" textLength="12.53" lengthAdjust="spacingAndGlyphs" stroke="#262626" stroke-width="0.40" stroke-linejoin="round">W</text>
<text class="b" x="348.52" y="466.60" font-size="12.00" textLength="16.69" lengthAdjust="spacingAndGlyphs" stroke="#262626" stroke-width="0.40" stroke-linejoin="round">80</text><text x="366.70" y="460.79" font-size="12.5" fill="#262626">°</text><text class="b" x="377.99" y="466.60" font-size="12.00" textLength="12.23" lengthAdjust="spacingAndGlyphs" stroke="#262626" stroke-width="0.40" stroke-linejoin="round">W</text>
<text class="b" x="411.56" y="466.60" font-size="12.00" textLength="16.66" lengthAdjust="spacingAndGlyphs" stroke="#262626" stroke-width="0.40" stroke-linejoin="round">70</text><text x="429.70" y="460.79" font-size="12.5" fill="#262626">°</text><text class="b" x="441.29" y="466.60" font-size="12.00" textLength="12.33" lengthAdjust="spacingAndGlyphs" stroke="#262626" stroke-width="0.40" stroke-linejoin="round">W</text>
<text class="b" x="146.26" y="703.35" font-size="12.00" textLength="17.26" lengthAdjust="spacingAndGlyphs" stroke="#262626" stroke-width="0.40" stroke-linejoin="round">22</text><text x="164.60" y="697.54" font-size="12.5" fill="#262626">°</text><text class="b" x="175.21" y="703.35" font-size="12.00" textLength="10.69" lengthAdjust="spacingAndGlyphs" stroke="#262626" stroke-width="0.40" stroke-linejoin="round">N</text>
<text class="b" x="146.28" y="691.75" font-size="12.00" textLength="16.70" lengthAdjust="spacingAndGlyphs" stroke="#262626" stroke-width="0.40" stroke-linejoin="round">24</text><text x="164.60" y="685.94" font-size="12.5" fill="#262626">°</text><text class="b" x="175.21" y="691.75" font-size="12.00" textLength="10.69" lengthAdjust="spacingAndGlyphs" stroke="#262626" stroke-width="0.40" stroke-linejoin="round">N</text>
<text class="b" x="146.26" y="676.45" font-size="12.00" textLength="17.19" lengthAdjust="spacingAndGlyphs" stroke="#262626" stroke-width="0.40" stroke-linejoin="round">26</text><text x="164.60" y="670.64" font-size="12.5" fill="#262626">°</text><text class="b" x="175.21" y="676.45" font-size="12.00" textLength="10.69" lengthAdjust="spacingAndGlyphs" stroke="#262626" stroke-width="0.40" stroke-linejoin="round">N</text>
<text class="b" x="146.27" y="662.55" font-size="12.00" textLength="17.11" lengthAdjust="spacingAndGlyphs" stroke="#262626" stroke-width="0.40" stroke-linejoin="round">28</text><text x="164.60" y="656.74" font-size="12.5" fill="#262626">°</text><text class="b" x="175.21" y="662.55" font-size="12.00" textLength="10.69" lengthAdjust="spacingAndGlyphs" stroke="#262626" stroke-width="0.40" stroke-linejoin="round">N</text>
<text class="b" x="146.45" y="649.45" font-size="12.00" textLength="17.08" lengthAdjust="spacingAndGlyphs" stroke="#262626" stroke-width="0.40" stroke-linejoin="round">30</text><text x="164.60" y="643.64" font-size="12.5" fill="#262626">°</text><text class="b" x="175.21" y="649.45" font-size="12.00" textLength="10.69" lengthAdjust="spacingAndGlyphs" stroke="#262626" stroke-width="0.40" stroke-linejoin="round">N</text>
<text class="b" x="146.45" y="634.95" font-size="12.00" textLength="17.07" lengthAdjust="spacingAndGlyphs" stroke="#262626" stroke-width="0.40" stroke-linejoin="round">32</text><text x="164.60" y="629.14" font-size="12.5" fill="#262626">°</text><text class="b" x="175.21" y="634.95" font-size="12.00" textLength="10.69" lengthAdjust="spacingAndGlyphs" stroke="#262626" stroke-width="0.40" stroke-linejoin="round">N</text>
<text class="b" x="146.46" y="618.95" font-size="12.00" textLength="16.52" lengthAdjust="spacingAndGlyphs" stroke="#262626" stroke-width="0.40" stroke-linejoin="round">34</text><text x="164.60" y="613.14" font-size="12.5" fill="#262626">°</text><text class="b" x="175.21" y="618.95" font-size="12.00" textLength="10.69" lengthAdjust="spacingAndGlyphs" stroke="#262626" stroke-width="0.40" stroke-linejoin="round">N</text>
<text class="b" x="146.45" y="603.55" font-size="12.00" textLength="17.00" lengthAdjust="spacingAndGlyphs" stroke="#262626" stroke-width="0.40" stroke-linejoin="round">36</text><text x="164.60" y="597.74" font-size="12.5" fill="#262626">°</text><text class="b" x="175.21" y="603.55" font-size="12.00" textLength="10.69" lengthAdjust="spacingAndGlyphs" stroke="#262626" stroke-width="0.40" stroke-linejoin="round">N</text>
<text class="b" x="146.45" y="587.55" font-size="12.00" textLength="16.92" lengthAdjust="spacingAndGlyphs" stroke="#262626" stroke-width="0.40" stroke-linejoin="round">38</text><text x="164.60" y="581.74" font-size="12.5" fill="#262626">°</text><text class="b" x="175.21" y="587.55" font-size="12.00" textLength="10.69" lengthAdjust="spacingAndGlyphs" stroke="#262626" stroke-width="0.40" stroke-linejoin="round">N</text>
<text class="b" x="146.57" y="572.95" font-size="12.00" textLength="16.96" lengthAdjust="spacingAndGlyphs" stroke="#262626" stroke-width="0.40" stroke-linejoin="round">40</text><text x="164.60" y="567.14" font-size="12.5" fill="#262626">°</text><text class="b" x="175.21" y="572.95" font-size="12.00" textLength="10.69" lengthAdjust="spacingAndGlyphs" stroke="#262626" stroke-width="0.40" stroke-linejoin="round">N</text>
<text class="b" x="146.57" y="555.55" font-size="12.00" textLength="16.94" lengthAdjust="spacingAndGlyphs" stroke="#262626" stroke-width="0.40" stroke-linejoin="round">42</text><text x="164.60" y="549.74" font-size="12.5" fill="#262626">°</text><text class="b" x="175.21" y="555.55" font-size="12.00" textLength="10.69" lengthAdjust="spacingAndGlyphs" stroke="#262626" stroke-width="0.40" stroke-linejoin="round">N</text>
<text class="b" x="146.58" y="537.55" font-size="12.00" textLength="16.40" lengthAdjust="spacingAndGlyphs" stroke="#262626" stroke-width="0.40" stroke-linejoin="round">44</text><text x="164.60" y="531.74" font-size="12.5" fill="#262626">°</text><text class="b" x="175.21" y="537.55" font-size="12.00" textLength="10.69" lengthAdjust="spacingAndGlyphs" stroke="#262626" stroke-width="0.40" stroke-linejoin="round">N</text>
<text class="b" x="146.57" y="520.55" font-size="12.00" textLength="16.88" lengthAdjust="spacingAndGlyphs" stroke="#262626" stroke-width="0.40" stroke-linejoin="round">46</text><text x="164.60" y="514.74" font-size="12.5" fill="#262626">°</text><text class="b" x="175.21" y="520.55" font-size="12.00" textLength="10.69" lengthAdjust="spacingAndGlyphs" stroke="#262626" stroke-width="0.40" stroke-linejoin="round">N</text>
<text class="b" x="146.57" y="501.65" font-size="12.00" textLength="16.79" lengthAdjust="spacingAndGlyphs" stroke="#262626" stroke-width="0.40" stroke-linejoin="round">48</text><text x="164.60" y="495.84" font-size="12.5" fill="#262626">°</text><text class="b" x="175.21" y="501.65" font-size="12.00" textLength="10.69" lengthAdjust="spacingAndGlyphs" stroke="#262626" stroke-width="0.40" stroke-linejoin="round">N</text>
</g>
<g id="panel5">
<g><circle cx="615.8" cy="550.3" r="3.0" fill="#c8f038"/><circle cx="622.6" cy="547.3" r="5.2" fill="#b4f23e"/><circle cx="622.1" cy="552.3" r="4.8" fill="#aef244"/><circle cx="621.6" cy="561.3" r="4.6" fill="#8cf268"/><circle cx="622.1" cy="568.3" r="4.6" fill="#86f270"/><circle cx="622.6" cy="575.3" r="4.6" fill="#7cf07c"/><circle cx="621.6" cy="582.3" r="4.6" fill="#74f088"/><circle cx="615.8" cy="579.3" r="2.8" fill="#70eea0"/><circle cx="627.6" cy="576.3" r="4.4" fill="#58ea9a"/><circle cx="631.6" cy="574.3" r="4.2" fill="#50e8a2"/><circle cx="635.6" cy="579.3" r="4.2" fill="#6cee88"/><circle cx="628.6" cy="582.3" r="4.5" fill="#4ce6a8"/><circle cx="633.6" cy="584.3" r="4.3" fill="#78f080"/><circle cx="637.6" cy="585.3" r="3.6" fill="#80f078"/><circle cx="624.6" cy="586.8" r="3.6" fill="#e8f020"/><circle cx="621.1" cy="586.3" r="3.0" fill="#d8f228"/><circle cx="621.6" cy="594.3" r="3.6" fill="#84f274"/><circle cx="626.6" cy="595.3" r="3.4" fill="#8cf26c"/><circle cx="631.6" cy="594.3" r="3.2" fill="#90f268"/><circle cx="625.6" cy="603.3" r="4.3" fill="#8ef266"/><circle cx="630.6" cy="605.3" r="4.0" fill="#94f25e"/><circle cx="636.6" cy="602.3" r="4.6" fill="#22d6ea"/><circle cx="633.6" cy="607.3" r="3.6" fill="#40e2c0"/><circle cx="638.6" cy="607.3" r="3.4" fill="#2adcdc"/><circle cx="623.6" cy="617.3" r="4.4" fill="#a2f250"/><circle cx="627.6" cy="614.3" r="4.2" fill="#9af258"/><circle cx="631.6" cy="617.3" r="4.2" fill="#8cf268"/><circle cx="635.6" cy="612.3" r="3.6" fill="#4ae6b0"/><circle cx="636.1" cy="618.3" r="4.0" fill="#22c8f2"/><circle cx="638.6" cy="614.3" r="3.0" fill="#38dfc8"/><circle cx="621.6" cy="623.3" r="4.2" fill="#aef244"/><circle cx="626.6" cy="622.3" r="4.0" fill="#a0f250"/><circle cx="619.6" cy="625.3" r="3.0" fill="#d6f22a"/><circle cx="615.6" cy="620.3" r="2.8" fill="#b8f048"/><circle cx="639.1" cy="622.3" r="3.4" fill="#e6f022"/><circle cx="631.6" cy="623.3" r="3.4" fill="#7cf07c"/></g>
<clipPath id="clip4"><rect x="616.1" y="485.7" width="235.1" height="214.3"/></clipPath>
<g clip-path="url(#clip4)"><use href="#usmap" transform="translate(617.10 486.65) scale(1.00043 1.00094)"/></g>
<rect x="616.6" y="486.2" width="234.1" height="213.3" fill="none" stroke="#1a1a1a" stroke-width="1.15"/>
<rect x="862.0" y="483.1" width="24.0" height="219.6" fill="url(#jet)" stroke="#3a0a0a" stroke-opacity="0.55" stroke-width="0.8"/>
<path d="M886.0 486.0h-2.4" stroke="#262626" stroke-width="0.8" stroke-opacity="0.8"/><text class="b" x="895.19" y="493.56" font-size="21.40" textLength="11.98" lengthAdjust="spacingAndGlyphs" stroke="#262626" stroke-width="0.60" stroke-linejoin="round">2</text>
<path d="M886.0 539.4h-2.4" stroke="#262626" stroke-width="0.8" stroke-opacity="0.8"/><text class="b" x="895.28" y="546.96" font-size="21.40" textLength="12.00" lengthAdjust="spacingAndGlyphs" stroke="#262626" stroke-width="0.60" stroke-linejoin="round">1</text>
<path d="M886.0 592.8h-2.4" stroke="#262626" stroke-width="0.8" stroke-opacity="0.8"/><text class="b" x="894.31" y="600.36" font-size="21.40" textLength="13.82" lengthAdjust="spacingAndGlyphs" stroke="#262626" stroke-width="0.60" stroke-linejoin="round">0</text>
<path d="M886.0 646.2h-2.4" stroke="#262626" stroke-width="0.8" stroke-opacity="0.8"/><text class="b" x="894.48" y="653.76" font-size="21.40" textLength="21.46" lengthAdjust="spacingAndGlyphs" stroke="#262626" stroke-width="0.60" stroke-linejoin="round">-1</text>
<path d="M886.0 699.5h-2.4" stroke="#262626" stroke-width="0.8" stroke-opacity="0.8"/><text class="b" x="894.48" y="707.06" font-size="21.40" textLength="21.37" lengthAdjust="spacingAndGlyphs" stroke="#262626" stroke-width="0.60" stroke-linejoin="round">-2</text>
<text class="b" x="550.89" y="730.70" font-size="23.50" textLength="109.79" lengthAdjust="spacingAndGlyphs" stroke="#262626" stroke-width="0.60" stroke-linejoin="round">SAT-RAP</text><text class="b" x="670.07" y="730.70" font-size="23.50" textLength="47.70" lengthAdjust="spacingAndGlyphs" stroke="#262626" stroke-width="0.60" stroke-linejoin="round">700</text><text class="b" x="726.06" y="730.70" font-size="23.50" textLength="45.78" lengthAdjust="spacingAndGlyphs" stroke="#262626" stroke-width="0.60" stroke-linejoin="round">hPa</text><text class="b" x="782.09" y="730.70" font-size="23.50" textLength="39.84" lengthAdjust="spacingAndGlyphs" stroke="#262626" stroke-width="0.60" stroke-linejoin="round">MR</text><text class="b" x="832.62" y="730.70" font-size="23.50" textLength="75.46" lengthAdjust="spacingAndGlyphs" stroke="#262626" stroke-width="0.60" stroke-linejoin="round">(g/kg)</text>
<text class="b" x="636.37" y="466.60" font-size="12.00" textLength="24.53" lengthAdjust="spacingAndGlyphs" stroke="#262626" stroke-width="0.40" stroke-linejoin="round">100</text><text x="663.10" y="460.79" font-size="12.5" fill="#262626">°</text><text class="b" x="674.79" y="466.60" font-size="12.00" textLength="11.72" lengthAdjust="spacingAndGlyphs" stroke="#262626" stroke-width="0.40" stroke-linejoin="round">W</text>
<text class="b" x="705.49" y="466.60" font-size="12.00" textLength="16.42" lengthAdjust="spacingAndGlyphs" stroke="#262626" stroke-width="0.40" stroke-linejoin="round">90</text><text x="723.30" y="460.79" font-size="12.5" fill="#262626">°</text><text class="b" x="734.99" y="466.60" font-size="12.00" textLength="12.53" lengthAdjust="spacingAndGlyphs" stroke="#262626" stroke-width="0.40" stroke-linejoin="round">W</text>
<text class="b" x="769.52" y="466.60" font-size="12.00" textLength="16.69" lengthAdjust="spacingAndGlyphs" stroke="#262626" stroke-width="0.40" stroke-linejoin="round">80</text><text x="787.70" y="460.79" font-size="12.5" fill="#262626">°</text><text class="b" x="798.99" y="466.60" font-size="12.00" textLength="12.23" lengthAdjust="spacingAndGlyphs" stroke="#262626" stroke-width="0.40" stroke-linejoin="round">W</text>
<text class="b" x="832.56" y="466.60" font-size="12.00" textLength="16.66" lengthAdjust="spacingAndGlyphs" stroke="#262626" stroke-width="0.40" stroke-linejoin="round">70</text><text x="850.70" y="460.79" font-size="12.5" fill="#262626">°</text><text class="b" x="862.29" y="466.60" font-size="12.00" textLength="12.33" lengthAdjust="spacingAndGlyphs" stroke="#262626" stroke-width="0.40" stroke-linejoin="round">W</text>
<text class="b" x="567.26" y="703.35" font-size="12.00" textLength="17.26" lengthAdjust="spacingAndGlyphs" stroke="#262626" stroke-width="0.40" stroke-linejoin="round">22</text><text x="585.60" y="697.54" font-size="12.5" fill="#262626">°</text><text class="b" x="596.21" y="703.35" font-size="12.00" textLength="10.69" lengthAdjust="spacingAndGlyphs" stroke="#262626" stroke-width="0.40" stroke-linejoin="round">N</text>
<text class="b" x="567.28" y="691.75" font-size="12.00" textLength="16.70" lengthAdjust="spacingAndGlyphs" stroke="#262626" stroke-width="0.40" stroke-linejoin="round">24</text><text x="585.60" y="685.94" font-size="12.5" fill="#262626">°</text><text class="b" x="596.21" y="691.75" font-size="12.00" textLength="10.69" lengthAdjust="spacingAndGlyphs" stroke="#262626" stroke-width="0.40" stroke-linejoin="round">N</text>
<text class="b" x="567.26" y="676.45" font-size="12.00" textLength="17.19" lengthAdjust="spacingAndGlyphs" stroke="#262626" stroke-width="0.40" stroke-linejoin="round">26</text><text x="585.60" y="670.64" font-size="12.5" fill="#262626">°</text><text class="b" x="596.21" y="676.45" font-size="12.00" textLength="10.69" lengthAdjust="spacingAndGlyphs" stroke="#262626" stroke-width="0.40" stroke-linejoin="round">N</text>
<text class="b" x="567.27" y="662.55" font-size="12.00" textLength="17.11" lengthAdjust="spacingAndGlyphs" stroke="#262626" stroke-width="0.40" stroke-linejoin="round">28</text><text x="585.60" y="656.74" font-size="12.5" fill="#262626">°</text><text class="b" x="596.21" y="662.55" font-size="12.00" textLength="10.69" lengthAdjust="spacingAndGlyphs" stroke="#262626" stroke-width="0.40" stroke-linejoin="round">N</text>
<text class="b" x="567.45" y="649.45" font-size="12.00" textLength="17.08" lengthAdjust="spacingAndGlyphs" stroke="#262626" stroke-width="0.40" stroke-linejoin="round">30</text><text x="585.60" y="643.64" font-size="12.5" fill="#262626">°</text><text class="b" x="596.21" y="649.45" font-size="12.00" textLength="10.69" lengthAdjust="spacingAndGlyphs" stroke="#262626" stroke-width="0.40" stroke-linejoin="round">N</text>
<text class="b" x="567.45" y="634.95" font-size="12.00" textLength="17.07" lengthAdjust="spacingAndGlyphs" stroke="#262626" stroke-width="0.40" stroke-linejoin="round">32</text><text x="585.60" y="629.14" font-size="12.5" fill="#262626">°</text><text class="b" x="596.21" y="634.95" font-size="12.00" textLength="10.69" lengthAdjust="spacingAndGlyphs" stroke="#262626" stroke-width="0.40" stroke-linejoin="round">N</text>
<text class="b" x="567.46" y="618.95" font-size="12.00" textLength="16.52" lengthAdjust="spacingAndGlyphs" stroke="#262626" stroke-width="0.40" stroke-linejoin="round">34</text><text x="585.60" y="613.14" font-size="12.5" fill="#262626">°</text><text class="b" x="596.21" y="618.95" font-size="12.00" textLength="10.69" lengthAdjust="spacingAndGlyphs" stroke="#262626" stroke-width="0.40" stroke-linejoin="round">N</text>
<text class="b" x="567.45" y="603.55" font-size="12.00" textLength="17.00" lengthAdjust="spacingAndGlyphs" stroke="#262626" stroke-width="0.40" stroke-linejoin="round">36</text><text x="585.60" y="597.74" font-size="12.5" fill="#262626">°</text><text class="b" x="596.21" y="603.55" font-size="12.00" textLength="10.69" lengthAdjust="spacingAndGlyphs" stroke="#262626" stroke-width="0.40" stroke-linejoin="round">N</text>
<text class="b" x="567.45" y="587.55" font-size="12.00" textLength="16.92" lengthAdjust="spacingAndGlyphs" stroke="#262626" stroke-width="0.40" stroke-linejoin="round">38</text><text x="585.60" y="581.74" font-size="12.5" fill="#262626">°</text><text class="b" x="596.21" y="587.55" font-size="12.00" textLength="10.69" lengthAdjust="spacingAndGlyphs" stroke="#262626" stroke-width="0.40" stroke-linejoin="round">N</text>
<text class="b" x="567.57" y="572.95" font-size="12.00" textLength="16.96" lengthAdjust="spacingAndGlyphs" stroke="#262626" stroke-width="0.40" stroke-linejoin="round">40</text><text x="585.60" y="567.14" font-size="12.5" fill="#262626">°</text><text class="b" x="596.21" y="572.95" font-size="12.00" textLength="10.69" lengthAdjust="spacingAndGlyphs" stroke="#262626" stroke-width="0.40" stroke-linejoin="round">N</text>
<text class="b" x="567.57" y="555.55" font-size="12.00" textLength="16.94" lengthAdjust="spacingAndGlyphs" stroke="#262626" stroke-width="0.40" stroke-linejoin="round">42</text><text x="585.60" y="549.74" font-size="12.5" fill="#262626">°</text><text class="b" x="596.21" y="555.55" font-size="12.00" textLength="10.69" lengthAdjust="spacingAndGlyphs" stroke="#262626" stroke-width="0.40" stroke-linejoin="round">N</text>
<text class="b" x="567.58" y="537.55" font-size="12.00" textLength="16.40" lengthAdjust="spacingAndGlyphs" stroke="#262626" stroke-width="0.40" stroke-linejoin="round">44</text><text x="585.60" y="531.74" font-size="12.5" fill="#262626">°</text><text class="b" x="596.21" y="537.55" font-size="12.00" textLength="10.69" lengthAdjust="spacingAndGlyphs" stroke="#262626" stroke-width="0.40" stroke-linejoin="round">N</text>
<text class="b" x="567.57" y="520.55" font-size="12.00" textLength="16.88" lengthAdjust="spacingAndGlyphs" stroke="#262626" stroke-width="0.40" stroke-linejoin="round">46</text><text x="585.60" y="514.74" font-size="12.5" fill="#262626">°</text><text class="b" x="596.21" y="520.55" font-size="12.00" textLength="10.69" lengthAdjust="spacingAndGlyphs" stroke="#262626" stroke-width="0.40" stroke-linejoin="round">N</text>
<text class="b" x="567.57" y="501.65" font-size="12.00" textLength="16.79" lengthAdjust="spacingAndGlyphs" stroke="#262626" stroke-width="0.40" stroke-linejoin="round">48</text><text x="585.60" y="495.84" font-size="12.5" fill="#262626">°</text><text class="b" x="596.21" y="501.65" font-size="12.00" textLength="10.69" lengthAdjust="spacingAndGlyphs" stroke="#262626" stroke-width="0.40" stroke-linejoin="round">N</text>
</g>
<g id="panel6">
<g><circle cx="1036.8" cy="550.0" r="3.0" fill="#5ceab0"/><circle cx="1043.6" cy="546.9" r="5.2" fill="#48e6b4"/><circle cx="1043.1" cy="552.0" r="4.8" fill="#4ee8ae"/><circle cx="1042.6" cy="561.1" r="4.6" fill="#9af258"/><circle cx="1043.1" cy="568.1" r="4.6" fill="#a8f248"/><circle cx="1043.6" cy="575.2" r="4.6" fill="#8ef266"/><circle cx="1042.6" cy="582.3" r="4.6" fill="#84f270"/><circle cx="1036.8" cy="579.2" r="2.8" fill="#90f070"/><circle cx="1048.7" cy="576.2" r="4.4" fill="#8cf268"/><circle cx="1052.7" cy="574.2" r="4.2" fill="#92f262"/><circle cx="1056.7" cy="579.2" r="4.2" fill="#88f26c"/><circle cx="1049.7" cy="582.3" r="4.5" fill="#9ef252"/><circle cx="1054.7" cy="584.3" r="4.3" fill="#8af26a"/><circle cx="1058.7" cy="585.3" r="3.6" fill="#80f078"/><circle cx="1045.6" cy="586.8" r="3.6" fill="#a4f24c"/><circle cx="1042.6" cy="594.4" r="3.6" fill="#84f274"/><circle cx="1047.6" cy="595.4" r="3.4" fill="#8cf26c"/><circle cx="1052.7" cy="594.4" r="3.2" fill="#80f27a"/><circle cx="1046.6" cy="603.4" r="4.3" fill="#7ef27a"/><circle cx="1051.7" cy="605.5" r="4.0" fill="#74f086"/><circle cx="1057.7" cy="600.4" r="4.2" fill="#22a8f8"/><circle cx="1054.7" cy="606.5" r="3.6" fill="#3ce2c6"/><circle cx="1059.7" cy="607.5" r="3.4" fill="#34e0cc"/><circle cx="1044.6" cy="617.6" r="4.4" fill="#60ec9c"/><circle cx="1048.7" cy="614.5" r="4.2" fill="#54eaa8"/><circle cx="1052.7" cy="617.6" r="4.2" fill="#2cd2e6"/><circle cx="1056.7" cy="611.5" r="3.6" fill="#38e0c8"/><circle cx="1058.7" cy="618.6" r="3.6" fill="#34dfcc"/><circle cx="1055.7" cy="618.1" r="3.3" fill="#1050f0"/><circle cx="1055.2" cy="614.5" r="2.2" fill="#0c5cf2"/><circle cx="1042.6" cy="623.6" r="4.2" fill="#4ce8b0"/><circle cx="1047.6" cy="622.6" r="4.0" fill="#30d8e0"/><circle cx="1036.6" cy="620.6" r="2.8" fill="#70ee90"/><circle cx="1039.8" cy="625.8" r="2.6" fill="#f06010"/><circle cx="1042.1" cy="626.6" r="2.0" fill="#f0a018"/><circle cx="1061.7" cy="620.6" r="2.6" fill="#b0f0d0"/></g>
<clipPath id="clip5"><rect x="1037.1" y="484.9" width="236.1" height="216.0"/></clipPath>
<g clip-path="url(#clip5)"><use href="#usmap" transform="translate(1038.10 485.85) scale(1.00470 1.00892)"/></g>
<rect x="1037.6" y="485.4" width="235.1" height="215.0" fill="none" stroke="#1a1a1a" stroke-width="1.15"/>
<rect x="1285.2" y="483.2" width="23.9" height="219.5" fill="url(#jet)" stroke="#3a0a0a" stroke-opacity="0.55" stroke-width="0.8"/>
<path d="M1309.1 518.2h-2.4" stroke="#262626" stroke-width="0.8" stroke-opacity="0.8"/><text class="b" x="1317.38" y="525.76" font-size="21.40" textLength="35.35" lengthAdjust="spacingAndGlyphs" stroke="#262626" stroke-width="0.60" stroke-linejoin="round">0.5</text>
<path d="M1309.1 592.5h-2.4" stroke="#262626" stroke-width="0.8" stroke-opacity="0.8"/><text class="b" x="1317.41" y="600.06" font-size="21.40" textLength="13.82" lengthAdjust="spacingAndGlyphs" stroke="#262626" stroke-width="0.60" stroke-linejoin="round">0</text>
<path d="M1309.1 666.5h-2.4" stroke="#262626" stroke-width="0.8" stroke-opacity="0.8"/><text class="b" x="1317.53" y="674.06" font-size="21.40" textLength="43.79" lengthAdjust="spacingAndGlyphs" stroke="#262626" stroke-width="0.60" stroke-linejoin="round">-0.5</text>
<text class="b" x="972.19" y="731.70" font-size="23.50" textLength="109.79" lengthAdjust="spacingAndGlyphs" stroke="#262626" stroke-width="0.60" stroke-linejoin="round">SAT-RAP</text><text class="b" x="1091.73" y="731.70" font-size="23.50" textLength="47.34" lengthAdjust="spacingAndGlyphs" stroke="#262626" stroke-width="0.60" stroke-linejoin="round">500</text><text class="b" x="1147.36" y="731.70" font-size="23.50" textLength="45.78" lengthAdjust="spacingAndGlyphs" stroke="#262626" stroke-width="0.60" stroke-linejoin="round">hPa</text><text class="b" x="1203.39" y="731.70" font-size="23.50" textLength="39.84" lengthAdjust="spacingAndGlyphs" stroke="#262626" stroke-width="0.60" stroke-linejoin="round">MR</text><text class="b" x="1253.92" y="731.70" font-size="23.50" textLength="75.46" lengthAdjust="spacingAndGlyphs" stroke="#262626" stroke-width="0.60" stroke-linejoin="round">(g/kg)</text>
<text class="b" x="1059.37" y="464.70" font-size="12.00" textLength="24.53" lengthAdjust="spacingAndGlyphs" stroke="#262626" stroke-width="0.40" stroke-linejoin="round">100</text><text x="1086.10" y="458.89" font-size="12.5" fill="#262626">°</text><text class="b" x="1097.79" y="464.70" font-size="12.00" textLength="11.72" lengthAdjust="spacingAndGlyphs" stroke="#262626" stroke-width="0.40" stroke-linejoin="round">W</text>
<text class="b" x="1128.49" y="464.70" font-size="12.00" textLength="16.42" lengthAdjust="spacingAndGlyphs" stroke="#262626" stroke-width="0.40" stroke-linejoin="round">90</text><text x="1146.30" y="458.89" font-size="12.5" fill="#262626">°</text><text class="b" x="1157.99" y="464.70" font-size="12.00" textLength="12.53" lengthAdjust="spacingAndGlyphs" stroke="#262626" stroke-width="0.40" stroke-linejoin="round">W</text>
<text class="b" x="1192.52" y="464.70" font-size="12.00" textLength="16.69" lengthAdjust="spacingAndGlyphs" stroke="#262626" stroke-width="0.40" stroke-linejoin="round">80</text><text x="1210.70" y="458.89" font-size="12.5" fill="#262626">°</text><text class="b" x="1221.99" y="464.70" font-size="12.00" textLength="12.23" lengthAdjust="spacingAndGlyphs" stroke="#262626" stroke-width="0.40" stroke-linejoin="round">W</text>
<text class="b" x="1255.56" y="464.70" font-size="12.00" textLength="16.66" lengthAdjust="spacingAndGlyphs" stroke="#262626" stroke-width="0.40" stroke-linejoin="round">70</text><text x="1273.70" y="458.89" font-size="12.5" fill="#262626">°</text><text class="b" x="1285.29" y="464.70" font-size="12.00" textLength="12.33" lengthAdjust="spacingAndGlyphs" stroke="#262626" stroke-width="0.40" stroke-linejoin="round">W</text>
<text class="b" x="988.26" y="704.25" font-size="12.00" textLength="17.26" lengthAdjust="spacingAndGlyphs" stroke="#262626" stroke-width="0.40" stroke-linejoin="round">22</text><text x="1006.60" y="698.44" font-size="12.5" fill="#262626">°</text><text class="b" x="1017.21" y="704.25" font-size="12.00" textLength="10.69" lengthAdjust="spacingAndGlyphs" stroke="#262626" stroke-width="0.40" stroke-linejoin="round">N</text>
<text class="b" x="988.28" y="692.60" font-size="12.00" textLength="16.70" lengthAdjust="spacingAndGlyphs" stroke="#262626" stroke-width="0.40" stroke-linejoin="round">24</text><text x="1006.60" y="686.78" font-size="12.5" fill="#262626">°</text><text class="b" x="1017.21" y="692.60" font-size="12.00" textLength="10.69" lengthAdjust="spacingAndGlyphs" stroke="#262626" stroke-width="0.40" stroke-linejoin="round">N</text>
<text class="b" x="988.26" y="677.23" font-size="12.00" textLength="17.19" lengthAdjust="spacingAndGlyphs" stroke="#262626" stroke-width="0.40" stroke-linejoin="round">26</text><text x="1006.60" y="671.41" font-size="12.5" fill="#262626">°</text><text class="b" x="1017.21" y="677.23" font-size="12.00" textLength="10.69" lengthAdjust="spacingAndGlyphs" stroke="#262626" stroke-width="0.40" stroke-linejoin="round">N</text>
<text class="b" x="988.27" y="663.26" font-size="12.00" textLength="17.11" lengthAdjust="spacingAndGlyphs" stroke="#262626" stroke-width="0.40" stroke-linejoin="round">28</text><text x="1006.60" y="657.45" font-size="12.5" fill="#262626">°</text><text class="b" x="1017.21" y="663.26" font-size="12.00" textLength="10.69" lengthAdjust="spacingAndGlyphs" stroke="#262626" stroke-width="0.40" stroke-linejoin="round">N</text>
<text class="b" x="988.45" y="650.11" font-size="12.00" textLength="17.08" lengthAdjust="spacingAndGlyphs" stroke="#262626" stroke-width="0.40" stroke-linejoin="round">30</text><text x="1006.60" y="644.29" font-size="12.5" fill="#262626">°</text><text class="b" x="1017.21" y="650.11" font-size="12.00" textLength="10.69" lengthAdjust="spacingAndGlyphs" stroke="#262626" stroke-width="0.40" stroke-linejoin="round">N</text>
<text class="b" x="988.45" y="635.54" font-size="12.00" textLength="17.07" lengthAdjust="spacingAndGlyphs" stroke="#262626" stroke-width="0.40" stroke-linejoin="round">32</text><text x="1006.60" y="629.73" font-size="12.5" fill="#262626">°</text><text class="b" x="1017.21" y="635.54" font-size="12.00" textLength="10.69" lengthAdjust="spacingAndGlyphs" stroke="#262626" stroke-width="0.40" stroke-linejoin="round">N</text>
<text class="b" x="988.46" y="619.47" font-size="12.00" textLength="16.52" lengthAdjust="spacingAndGlyphs" stroke="#262626" stroke-width="0.40" stroke-linejoin="round">34</text><text x="1006.60" y="613.66" font-size="12.5" fill="#262626">°</text><text class="b" x="1017.21" y="619.47" font-size="12.00" textLength="10.69" lengthAdjust="spacingAndGlyphs" stroke="#262626" stroke-width="0.40" stroke-linejoin="round">N</text>
<text class="b" x="988.45" y="604.00" font-size="12.00" textLength="17.00" lengthAdjust="spacingAndGlyphs" stroke="#262626" stroke-width="0.40" stroke-linejoin="round">36</text><text x="1006.60" y="598.19" font-size="12.5" fill="#262626">°</text><text class="b" x="1017.21" y="604.00" font-size="12.00" textLength="10.69" lengthAdjust="spacingAndGlyphs" stroke="#262626" stroke-width="0.40" stroke-linejoin="round">N</text>
<text class="b" x="988.45" y="587.93" font-size="12.00" textLength="16.92" lengthAdjust="spacingAndGlyphs" stroke="#262626" stroke-width="0.40" stroke-linejoin="round">38</text><text x="1006.60" y="582.11" font-size="12.5" fill="#262626">°</text><text class="b" x="1017.21" y="587.93" font-size="12.00" textLength="10.69" lengthAdjust="spacingAndGlyphs" stroke="#262626" stroke-width="0.40" stroke-linejoin="round">N</text>
<text class="b" x="988.57" y="573.26" font-size="12.00" textLength="16.96" lengthAdjust="spacingAndGlyphs" stroke="#262626" stroke-width="0.40" stroke-linejoin="round">40</text><text x="1006.60" y="567.45" font-size="12.5" fill="#262626">°</text><text class="b" x="1017.21" y="573.26" font-size="12.00" textLength="10.69" lengthAdjust="spacingAndGlyphs" stroke="#262626" stroke-width="0.40" stroke-linejoin="round">N</text>
<text class="b" x="988.57" y="555.78" font-size="12.00" textLength="16.94" lengthAdjust="spacingAndGlyphs" stroke="#262626" stroke-width="0.40" stroke-linejoin="round">42</text><text x="1006.60" y="549.97" font-size="12.5" fill="#262626">°</text><text class="b" x="1017.21" y="555.78" font-size="12.00" textLength="10.69" lengthAdjust="spacingAndGlyphs" stroke="#262626" stroke-width="0.40" stroke-linejoin="round">N</text>
<text class="b" x="988.58" y="537.70" font-size="12.00" textLength="16.40" lengthAdjust="spacingAndGlyphs" stroke="#262626" stroke-width="0.40" stroke-linejoin="round">44</text><text x="1006.60" y="531.89" font-size="12.5" fill="#262626">°</text><text class="b" x="1017.21" y="537.70" font-size="12.00" textLength="10.69" lengthAdjust="spacingAndGlyphs" stroke="#262626" stroke-width="0.40" stroke-linejoin="round">N</text>
<text class="b" x="988.57" y="520.63" font-size="12.00" textLength="16.88" lengthAdjust="spacingAndGlyphs" stroke="#262626" stroke-width="0.40" stroke-linejoin="round">46</text><text x="1006.60" y="514.81" font-size="12.5" fill="#262626">°</text><text class="b" x="1017.21" y="520.63" font-size="12.00" textLength="10.69" lengthAdjust="spacingAndGlyphs" stroke="#262626" stroke-width="0.40" stroke-linejoin="round">N</text>
<text class="b" x="988.57" y="501.64" font-size="12.00" textLength="16.79" lengthAdjust="spacingAndGlyphs" stroke="#262626" stroke-width="0.40" stroke-linejoin="round">48</text><text x="1006.60" y="495.83" font-size="12.5" fill="#262626">°</text><text class="b" x="1017.21" y="501.64" font-size="12.00" textLength="10.69" lengthAdjust="spacingAndGlyphs" stroke="#262626" stroke-width="0.40" stroke-linejoin="round">N</text>
</g>
</svg>
</body></html>
